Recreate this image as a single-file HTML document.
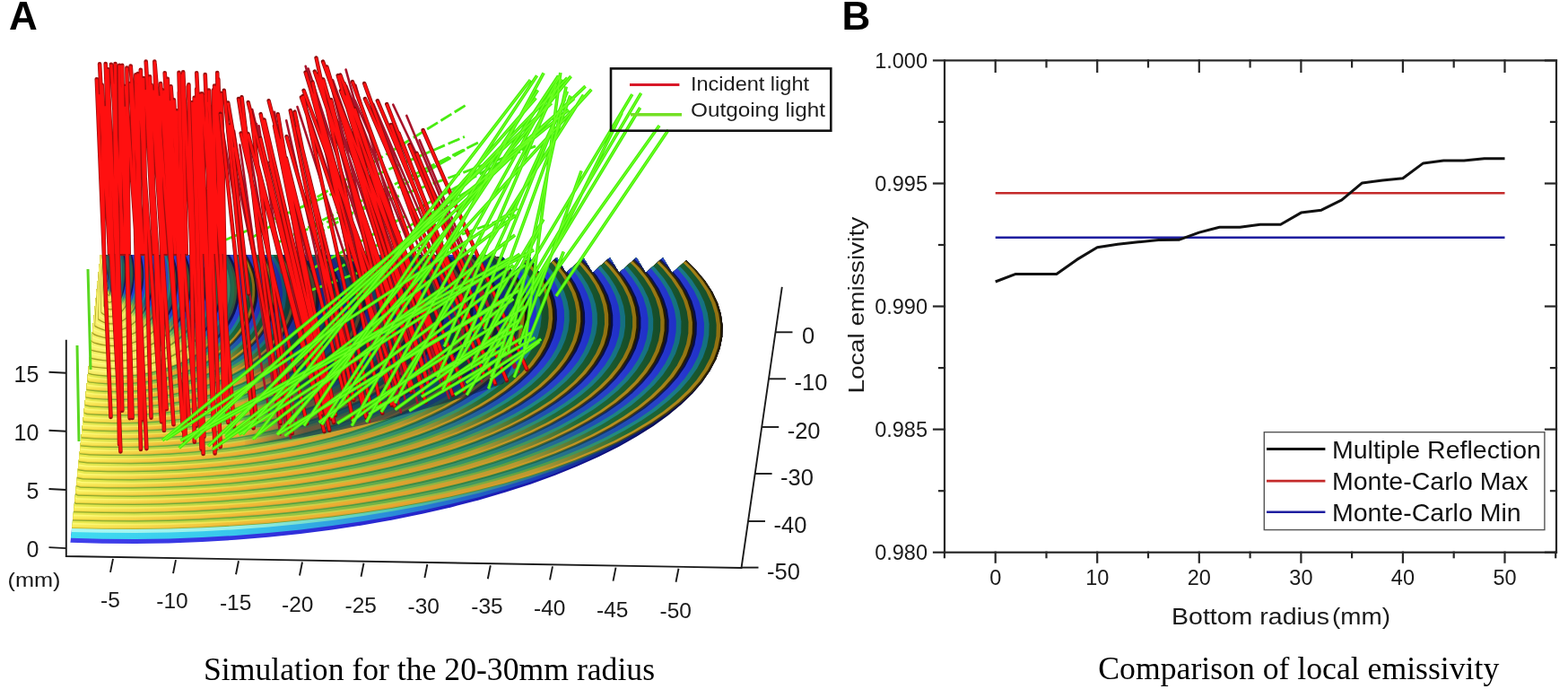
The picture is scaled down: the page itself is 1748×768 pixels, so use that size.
<!DOCTYPE html>
<html><head><meta charset="utf-8"><title>Figure</title>
<style>
html,body{margin:0;padding:0;background:#fff;}
body{width:1748px;height:768px;overflow:hidden;position:relative;}
svg{position:absolute;left:0;top:0;display:block;}
</style></head>
<body>
<svg width="1748" height="768" viewBox="0 0 1748 768">
<rect x="0" y="0" width="1748" height="768" fill="#fff"/>
<defs>
<linearGradient id="s0"><stop offset="0.0" stop-color="#86a828"/><stop offset="0.25" stop-color="#58a840"/><stop offset="0.5" stop-color="#3a9048"/><stop offset="0.72" stop-color="#1c6a50"/><stop offset="0.86" stop-color="#10306a"/><stop offset="0.95" stop-color="#0c1460"/><stop offset="1.0" stop-color="#060c48"/></linearGradient>
<linearGradient id="s1"><stop offset="0.0" stop-color="#ecea50"/><stop offset="0.25" stop-color="#b4d040"/><stop offset="0.5" stop-color="#6ab048"/><stop offset="0.72" stop-color="#2a8a70"/><stop offset="0.86" stop-color="#2050b0"/><stop offset="0.95" stop-color="#2a3cd0"/><stop offset="1.0" stop-color="#2030c8"/></linearGradient>
<linearGradient id="s2"><stop offset="0.0" stop-color="#fefa78"/><stop offset="0.25" stop-color="#f0e050"/><stop offset="0.5" stop-color="#b8c444"/><stop offset="0.72" stop-color="#5aa040"/><stop offset="0.86" stop-color="#1e8a80"/><stop offset="0.95" stop-color="#1a7a88"/><stop offset="1.0" stop-color="#147080"/></linearGradient>
<linearGradient id="s3"><stop offset="0.0" stop-color="#faee5c"/><stop offset="0.25" stop-color="#f0c038"/><stop offset="0.5" stop-color="#e8a830"/><stop offset="0.72" stop-color="#b89830"/><stop offset="0.86" stop-color="#1e6a38"/><stop offset="0.95" stop-color="#1a5c30"/><stop offset="1.0" stop-color="#164c28"/></linearGradient>
<linearGradient id="s4"><stop offset="0.0" stop-color="#f4e04a"/><stop offset="0.25" stop-color="#eab038"/><stop offset="0.5" stop-color="#e0a030"/><stop offset="0.72" stop-color="#d09a28"/><stop offset="0.86" stop-color="#b89020"/><stop offset="0.95" stop-color="#a88418"/><stop offset="1.0" stop-color="#907010"/></linearGradient>
<linearGradient id="s5"><stop offset="0.0" stop-color="#b8b430"/><stop offset="0.25" stop-color="#7aaa38"/><stop offset="0.5" stop-color="#5a9a40"/><stop offset="0.72" stop-color="#4a8a38"/><stop offset="0.86" stop-color="#4a4418"/><stop offset="0.95" stop-color="#3a3008"/><stop offset="1.0" stop-color="#201800"/></linearGradient>
<linearGradient id="i0"><stop offset="0.0" stop-color="#9a9a22"/><stop offset="0.4" stop-color="#9a9a22"/><stop offset="0.7" stop-color="#8a9a28"/><stop offset="0.8" stop-color="#2a7a50"/><stop offset="0.88" stop-color="#101a70"/><stop offset="0.95" stop-color="#0c1060"/><stop offset="1.0" stop-color="#101a50"/></linearGradient>
<linearGradient id="i1"><stop offset="0.0" stop-color="#f4ee66"/><stop offset="0.4" stop-color="#f2ea60"/><stop offset="0.7" stop-color="#e0e050"/><stop offset="0.8" stop-color="#40a060"/><stop offset="0.88" stop-color="#2040c8"/><stop offset="0.95" stop-color="#2a3cd0"/><stop offset="1.0" stop-color="#2a60a0"/></linearGradient>
<linearGradient id="i2"><stop offset="0.0" stop-color="#fefa80"/><stop offset="0.4" stop-color="#fcf678"/><stop offset="0.7" stop-color="#f0ea60"/><stop offset="0.8" stop-color="#58a850"/><stop offset="0.88" stop-color="#1a80a0"/><stop offset="0.95" stop-color="#1a7a88"/><stop offset="1.0" stop-color="#3a8a60"/></linearGradient>
<linearGradient id="i3"><stop offset="0.0" stop-color="#f8f070"/><stop offset="0.4" stop-color="#f6ec66"/><stop offset="0.7" stop-color="#e8e058"/><stop offset="0.8" stop-color="#80a840"/><stop offset="0.88" stop-color="#1a5a80"/><stop offset="0.95" stop-color="#1a5c60"/><stop offset="1.0" stop-color="#2a6a40"/></linearGradient>
<linearGradient id="i4"><stop offset="0.0" stop-color="#f4e860"/><stop offset="0.4" stop-color="#f2e45a"/><stop offset="0.7" stop-color="#e0d850"/><stop offset="0.8" stop-color="#a8a030"/><stop offset="0.88" stop-color="#304a70"/><stop offset="0.95" stop-color="#2a4a50"/><stop offset="1.0" stop-color="#3a5a30"/></linearGradient>
<linearGradient id="i5"><stop offset="0.0" stop-color="#a8a024"/><stop offset="0.4" stop-color="#a09a22"/><stop offset="0.7" stop-color="#909a28"/><stop offset="0.8" stop-color="#507a40"/><stop offset="0.88" stop-color="#101a60"/><stop offset="0.95" stop-color="#0a1050"/><stop offset="1.0" stop-color="#201c30"/></linearGradient>
<linearGradient id="w0"><stop offset="0.0" stop-color="#a8f8f4"/><stop offset="0.25" stop-color="#98f0e8"/><stop offset="0.5" stop-color="#50c8b0"/><stop offset="0.72" stop-color="#2a7090"/><stop offset="0.86" stop-color="#0c2068"/><stop offset="0.95" stop-color="#050a40"/><stop offset="1.0" stop-color="#000020"/></linearGradient>
<linearGradient id="w1"><stop offset="0.0" stop-color="#40dcf0"/><stop offset="0.25" stop-color="#38c8ec"/><stop offset="0.5" stop-color="#2a8ad8"/><stop offset="0.72" stop-color="#1c40b8"/><stop offset="0.86" stop-color="#0a1878"/><stop offset="0.95" stop-color="#040840"/><stop offset="1.0" stop-color="#000018"/></linearGradient>
<linearGradient id="w2"><stop offset="0.0" stop-color="#4040ec"/><stop offset="0.25" stop-color="#3434e0"/><stop offset="0.5" stop-color="#2828d0"/><stop offset="0.72" stop-color="#1818a8"/><stop offset="0.86" stop-color="#0a0a68"/><stop offset="0.95" stop-color="#020230"/><stop offset="1.0" stop-color="#000010"/></linearGradient>
<clipPath id="topclip"><path d="M112.0,284.0L536.0,284.0L561.3,287.0L571.7,304.0L591.0,287.0L601.3,304.0L620.7,287.0L631.0,304.0L650.3,287.0L660.6,304.0L679.9,287.0L690.2,304.0L709.5,287.0L719.8,304.0L739.0,287.0L749.3,304.0L768.6,287.0L900.0,287.0L900.0,720.0L40.0,720.0L40.0,607.0L78.0,607.0Z"/></clipPath>
</defs>
<g clip-path="url(#topclip)">
<path d="M734.0,266.0L749.9,277.4L764.0,289.0L776.0,300.9L786.1,313.0L794.1,325.2L800.0,337.6L803.8,350.1L805.6,362.7L805.3,375.2L802.8,387.9L798.3,400.6L791.6,413.2L783.0,425.9L772.3,438.4L759.6,450.8L744.9,463.0L728.3,474.9L709.9,486.6L689.7,498.0L667.7,509.0L644.1,519.6L618.9,529.8L592.2,539.5L564.0,548.6L534.5,557.2L503.8,565.2L471.9,572.5L439.0,579.2L405.1,585.2L370.4,590.5L335.0,595.0L299.0,598.8L262.4,601.8L225.5,604.0L188.4,605.4L151.0,606.0L113.7,605.8L78.2,604.8L112.0,266.0Z" fill="url(#w2)"/>
<path d="M734.0,266.0L749.9,277.4L764.0,289.0L776.0,300.9L786.1,313.0L794.1,325.2L800.0,337.6L803.8,350.1L805.6,362.7L805.3,375.2L802.8,387.8L798.3,400.5L791.6,413.0L783.0,425.5L772.3,437.9L759.6,450.1L744.9,462.1L728.3,473.8L709.9,485.3L689.7,496.4L667.7,507.1L644.1,517.5L618.9,527.4L592.2,536.8L564.0,545.6L534.5,553.9L503.8,561.6L471.9,568.7L439.0,575.2L405.1,581.0L370.4,586.0L335.0,590.4L299.0,594.0L262.4,596.9L225.5,599.0L188.4,600.4L151.0,601.0L113.7,600.8L78.8,599.8L112.0,266.0Z" fill="url(#w1)"/>
<path d="M734.0,266.0L749.9,277.4L764.0,289.0L776.0,300.9L786.1,313.0L794.1,325.2L800.0,337.6L803.8,350.1L805.6,362.7L805.3,375.2L802.8,387.8L798.3,400.3L791.6,412.7L783.0,425.0L772.3,437.2L759.6,449.1L744.9,460.9L728.3,472.3L709.9,483.4L689.7,494.2L667.7,504.5L644.1,514.5L618.9,524.0L592.2,533.0L564.0,541.5L534.5,549.4L503.8,556.7L471.9,563.5L439.0,569.6L405.1,575.1L370.4,579.9L335.0,584.0L299.0,587.4L262.4,590.2L225.5,592.2L188.4,593.4L151.0,594.0L113.7,593.8L79.5,592.9L112.0,266.0Z" fill="url(#w0)"/>
<path d="M734.0,266.0L749.9,277.4L764.0,289.0L776.0,300.9L786.1,313.0L794.1,325.2L800.0,337.6L803.8,350.1L805.6,362.7L805.3,375.2L802.8,387.7L798.3,400.2L791.6,412.6L783.0,424.8L772.3,436.8L759.6,448.6L744.9,460.2L728.3,471.4L709.9,482.3L689.7,492.9L667.7,503.1L644.1,512.8L618.9,522.0L592.2,530.8L564.0,539.1L534.5,546.8L503.8,553.9L471.9,560.5L439.0,566.4L405.1,571.7L370.4,576.4L335.0,580.3L299.0,583.7L262.4,586.3L225.5,588.2L188.4,589.5L151.0,590.0L113.7,589.8L79.9,588.9L112.0,266.0Z" fill="url(#s5)"/>
<path d="M731.7,266.0L747.6,277.3L761.6,288.9L773.6,300.8L783.6,312.9L791.6,325.1L797.5,337.5L801.3,349.9L803.1,362.4L802.8,375.0L800.3,387.5L795.8,399.9L789.2,412.2L780.6,424.4L769.9,436.4L757.3,448.2L742.7,459.7L726.2,470.9L707.8,481.8L687.7,492.4L665.8,502.5L642.3,512.2L617.1,521.4L590.5,530.2L562.5,538.4L533.1,546.1L502.5,553.2L470.7,559.8L437.9,565.7L404.2,571.0L369.6,575.6L334.3,579.6L298.4,582.9L262.0,585.5L225.2,587.5L188.2,588.7L151.0,589.2L113.8,589.1L80.0,588.2L112.0,266.0Z" fill="url(#s4)"/>
<path d="M727.6,266.0L743.5,277.3L757.4,288.8L769.3,300.6L779.3,312.7L787.2,324.8L793.1,337.2L797.0,349.6L798.7,362.0L798.4,374.5L796.0,386.9L791.5,399.3L785.0,411.6L776.4,423.7L765.9,435.7L753.3,447.4L738.8,458.9L722.4,470.1L704.2,480.9L684.2,491.4L662.4,501.5L639.1,511.2L614.1,520.4L587.6,529.1L559.8,537.3L530.6,545.0L500.2,552.1L468.6,558.6L436.0,564.5L402.5,569.8L368.1,574.4L333.1,578.3L297.4,581.6L261.2,584.3L224.7,586.2L187.9,587.4L150.9,587.9L113.9,587.8L80.1,586.9L112.0,266.0Z" fill="url(#s3)"/>
<path d="M720.1,266.0L735.8,277.2L749.6,288.7L761.4,300.4L771.3,312.3L779.2,324.4L785.0,336.6L788.8,348.9L790.6,361.3L790.3,373.6L788.0,386.0L783.6,398.3L777.2,410.5L768.7,422.5L758.3,434.4L745.9,446.0L731.6,457.4L715.4,468.5L697.4,479.3L677.6,489.7L656.2,499.7L633.1,509.3L608.4,518.4L582.3,527.1L554.8,535.3L525.9,542.9L495.9,549.9L464.7,556.4L432.5,562.2L399.4,567.5L365.4,572.0L330.7,576.0L295.5,579.3L259.7,581.9L223.6,583.8L187.3,585.0L150.7,585.5L114.2,585.3L80.4,584.5L112.0,266.0Z" fill="url(#s2)"/>
<path d="M714.9,266.0L730.5,277.1L744.2,288.5L755.9,300.2L765.7,312.0L773.6,324.0L779.4,336.2L783.2,348.4L785.0,360.7L784.7,373.0L782.4,385.3L778.1,397.6L771.7,409.7L763.4,421.7L753.0,433.5L740.7,445.0L726.6,456.4L710.5,467.4L692.7,478.1L673.1,488.5L651.8,498.5L628.9,508.0L604.5,517.1L578.6,525.7L551.3,533.8L522.7,541.4L492.9,548.4L462.0,554.8L430.0,560.7L397.2,565.9L363.5,570.4L329.2,574.4L294.2,577.6L258.7,580.2L222.9,582.1L186.8,583.3L150.6,583.8L114.4,583.7L80.6,582.8L112.0,266.0Z" fill="url(#s1)"/>
<path d="M707.4,266.0L722.8,277.0L736.4,288.3L748.0,299.9L757.7,311.6L765.5,323.6L771.3,335.6L775.1,347.8L776.9,360.0L776.6,372.2L774.4,384.4L770.1,396.5L763.9,408.5L755.6,420.4L745.4,432.1L733.3,443.6L719.3,454.9L703.5,465.8L685.9,476.5L666.6,486.8L645.6,496.7L623.0,506.1L598.8,515.2L573.2,523.7L546.3,531.8L518.0,539.3L488.6,546.2L458.1,552.6L426.5,558.4L394.0,563.6L360.8,568.1L326.8,572.0L292.3,575.2L257.3,577.8L221.9,579.7L186.2,580.9L150.4,581.4L114.6,581.3L80.8,580.4L112.0,266.0Z" fill="url(#s0)"/>
<path d="M705.1,266.0L720.5,277.0L734.0,288.3L745.6,299.8L755.3,311.5L763.0,323.4L768.8,335.5L772.6,347.6L774.4,359.7L774.2,371.9L771.9,384.1L767.7,396.2L761.4,408.2L753.2,420.0L743.1,431.7L731.0,443.2L717.1,454.4L701.4,465.4L683.8,476.0L664.6,486.2L643.6,496.1L621.1,505.6L597.1,514.6L571.6,523.1L544.7,531.1L516.6,538.6L487.3,545.6L456.8,551.9L425.4,557.7L393.1,562.9L360.0,567.4L326.1,571.3L291.7,574.5L256.8,577.1L221.6,579.0L186.0,580.2L150.4,580.7L114.7,580.5L80.9,579.7L112.0,266.0Z" fill="url(#s5)"/>
<path d="M702.8,266.0L718.1,277.0L731.6,288.2L743.1,299.7L752.8,311.4L760.6,323.3L766.3,335.3L770.1,347.4L771.9,359.5L771.7,371.7L769.4,383.8L765.2,395.9L759.0,407.8L750.9,419.7L740.8,431.3L728.8,442.8L714.9,454.0L699.2,464.9L681.7,475.5L662.5,485.7L641.7,495.5L619.3,505.0L595.3,514.0L569.9,522.5L543.2,530.5L515.2,538.0L486.0,544.9L455.6,551.2L424.3,557.0L392.1,562.2L359.1,566.7L325.4,570.6L291.1,573.8L256.4,576.3L221.2,578.2L185.9,579.4L150.3,579.9L114.8,579.8L81.0,578.9L112.0,266.0Z" fill="url(#s4)"/>
<path d="M698.8,266.0L714.0,276.9L727.4,288.1L738.9,299.6L748.5,311.2L756.2,323.0L762.0,335.0L765.7,347.0L767.5,359.1L767.3,371.2L765.1,383.3L760.9,395.3L754.8,407.2L746.7,419.0L736.7,430.6L724.8,442.0L711.0,453.2L695.4,464.0L678.1,474.6L659.0,484.8L638.3,494.6L616.1,504.0L592.3,512.9L567.1,521.4L540.5,529.4L512.7,536.8L483.6,543.7L453.5,550.1L422.4,555.8L390.4,560.9L357.6,565.4L324.2,569.3L290.1,572.5L255.6,575.0L220.7,576.9L185.5,578.1L150.2,578.6L114.9,578.5L81.1,577.6L112.0,266.0Z" fill="url(#s3)"/>
<path d="M691.3,266.0L706.3,276.8L719.6,287.9L731.0,299.3L740.5,310.8L748.2,322.6L753.9,334.4L757.6,346.3L759.4,358.3L759.2,370.4L757.1,382.3L753.0,394.3L746.9,406.1L739.0,417.8L729.1,429.3L717.3,440.6L703.8,451.7L688.4,462.5L671.3,472.9L652.5,483.0L632.1,492.8L610.1,502.1L586.6,511.0L561.7,519.4L535.5,527.3L508.0,534.7L479.3,541.6L449.6,547.8L418.9,553.5L387.3,558.6L354.9,563.1L321.9,566.9L288.2,570.1L254.1,572.7L219.6,574.5L184.9,575.7L150.1,576.2L115.2,576.1L81.4,575.2L112.0,266.0Z" fill="url(#s2)"/>
<path d="M686.1,266.0L701.0,276.8L714.2,287.8L725.5,299.1L735.0,310.6L742.6,322.2L748.2,334.0L752.0,345.9L753.8,357.8L753.6,369.8L751.5,381.7L747.5,393.5L741.5,405.3L733.6,416.9L723.8,428.4L712.2,439.6L698.8,450.6L683.5,461.4L666.6,471.8L648.0,481.8L627.7,491.5L605.9,500.8L582.7,509.6L558.0,518.0L532.0,525.9L504.8,533.2L476.4,540.1L446.9,546.3L416.4,552.0L385.1,557.0L353.0,561.5L320.2,565.3L286.9,568.5L253.1,571.0L218.9,572.9L184.5,574.0L150.0,574.6L115.4,574.4L81.6,573.6L112.0,266.0Z" fill="url(#s1)"/>
<path d="M678.6,266.0L693.3,276.7L706.4,287.6L717.6,298.8L727.0,310.2L734.5,321.8L740.1,333.5L743.9,345.2L745.7,357.1L745.5,368.9L743.5,380.7L739.5,392.5L733.6,404.2L725.9,415.7L716.2,427.1L704.8,438.2L691.5,449.2L676.5,459.8L659.8,470.1L641.4,480.1L621.4,489.7L599.9,498.9L577.0,507.7L552.6,516.0L527.0,523.8L500.1,531.1L472.0,537.9L443.0,544.1L412.9,549.7L382.0,554.8L350.3,559.2L317.9,563.0L285.0,566.1L251.6,568.6L217.9,570.5L183.9,571.6L149.8,572.2L115.6,572.0L81.8,571.2L112.0,266.0Z" fill="url(#s0)"/>
<path d="M676.2,266.0L691.0,276.7L704.0,287.6L715.2,298.7L724.5,310.1L732.0,321.6L737.6,333.3L741.4,345.0L743.2,356.8L743.0,368.6L741.0,380.4L737.1,392.2L731.2,403.8L723.5,415.3L713.9,426.7L702.5,437.8L689.3,448.7L674.3,459.3L657.7,469.6L639.4,479.6L619.5,489.2L598.1,498.4L575.2,507.1L551.0,515.4L525.4,523.2L498.6,530.5L470.7,537.2L441.7,543.4L411.8,549.0L381.0,554.1L349.4,558.5L317.2,562.2L284.4,565.4L251.2,567.9L217.6,569.7L183.7,570.9L149.7,571.4L115.7,571.3L81.9,570.4L112.0,266.0Z" fill="url(#s5)"/>
<path d="M673.9,266.0L688.6,276.6L701.6,287.5L712.7,298.6L722.1,310.0L729.5,321.5L735.2,333.1L738.9,344.8L740.7,356.6L740.6,368.4L738.5,380.2L734.6,391.9L728.8,403.5L721.1,415.0L711.6,426.3L700.2,437.4L687.1,448.2L672.2,458.8L655.6,469.1L637.4,479.1L617.6,488.6L596.3,497.8L573.5,506.5L549.3,514.8L523.9,522.6L497.2,529.8L469.4,536.6L440.5,542.7L410.7,548.3L380.0,553.3L348.6,557.7L316.5,561.5L283.8,564.7L250.7,567.1L217.2,569.0L183.5,570.2L149.7,570.7L115.8,570.5L82.0,569.7L82.1,568.2L112.0,266.0Z" fill="url(#s4)"/>
<path d="M669.9,266.0L684.5,276.6L697.4,287.4L708.5,298.5L717.8,309.8L725.2,321.2L730.8,332.8L734.5,344.5L736.3,356.2L736.2,367.9L734.2,379.6L730.3,391.3L724.6,402.9L716.9,414.3L707.5,425.6L696.2,436.6L683.2,447.4L668.4,458.0L651.9,468.2L633.9,478.1L614.2,487.7L593.0,496.8L570.4,505.5L546.5,513.7L521.2,521.5L494.7,528.7L467.1,535.4L438.4,541.6L408.8,547.1L378.4,552.1L347.1,556.5L315.3,560.3L282.8,563.4L249.9,565.9L216.7,567.7L183.2,568.9L149.6,569.4L115.9,569.2L82.4,568.4L82.3,566.9L112.0,266.0Z" fill="url(#s3)"/>
<path d="M662.4,266.0L676.9,276.5L689.6,287.2L700.6,298.2L709.8,309.4L717.1,320.8L722.7,332.2L726.4,343.8L728.2,355.4L728.1,367.1L726.2,378.7L722.4,390.3L716.7,401.7L709.2,413.1L699.9,424.3L688.8,435.2L675.9,446.0L661.4,456.4L645.1,466.6L627.3,476.4L607.9,485.9L587.0,494.9L564.7,503.5L541.1,511.7L516.2,519.4L490.0,526.6L462.8,533.2L434.5,539.3L405.3,544.9L375.2,549.8L344.4,554.2L312.9,557.9L280.9,561.0L248.5,563.5L215.6,565.3L182.6,566.5L149.4,567.0L116.2,566.8L83.1,566.0L82.5,564.6L112.0,266.0Z" fill="url(#s2)"/>
<path d="M657.2,266.0L671.6,276.4L684.2,287.1L695.1,298.0L704.2,309.2L711.6,320.4L717.1,331.8L720.7,343.4L722.6,354.9L722.5,366.5L720.6,378.0L716.9,389.5L711.3,401.0L703.8,412.2L694.6,423.3L683.6,434.3L670.9,444.9L656.5,455.3L640.4,465.4L622.8,475.2L603.6,484.6L582.9,493.6L560.8,502.2L537.4,510.3L512.7,518.0L486.8,525.1L459.8,531.7L431.8,537.8L402.8,543.3L373.0,548.3L342.5,552.6L311.3,556.3L279.6,559.4L247.4,561.8L214.9,563.6L182.2,564.8L149.3,565.3L116.4,565.2L83.5,564.4L82.7,562.9L112.0,266.0Z" fill="url(#s1)"/>
<path d="M649.7,266.0L663.9,276.3L676.4,286.9L687.2,297.8L696.2,308.8L703.5,320.0L709.0,331.3L712.6,342.7L714.4,354.2L714.4,365.6L712.6,377.1L708.9,388.5L703.4,399.8L696.1,411.0L687.0,422.0L676.2,432.9L663.7,443.4L649.5,453.8L633.6,463.8L616.2,473.5L597.3,482.8L576.9,491.8L555.1,500.3L532.0,508.3L507.6,515.9L482.1,523.0L455.5,529.6L427.8,535.6L399.3,541.1L369.9,546.0L339.8,550.3L309.0,554.0L277.7,557.0L246.0,559.5L213.9,561.2L181.6,562.4L149.1,562.9L116.6,562.8L84.2,562.0L83.0,560.5L112.0,266.0Z" fill="url(#s0)"/>
<path d="M647.4,266.0L661.5,276.3L674.0,286.9L684.8,297.7L693.8,308.7L701.0,319.8L706.5,331.1L710.1,342.5L711.9,353.9L711.9,365.4L710.1,376.8L706.4,388.2L701.0,399.5L693.7,410.6L684.7,421.6L673.9,432.4L661.4,443.0L647.3,453.3L631.5,463.3L614.2,473.0L595.4,482.3L575.1,491.2L553.4,499.7L530.4,507.7L506.1,515.3L480.7,522.4L454.1,528.9L426.6,534.9L398.2,540.4L368.9,545.3L338.9,549.6L308.3,553.2L277.1,556.3L245.5,558.7L213.6,560.5L181.4,561.7L149.1,562.2L116.7,562.0L84.4,561.2L83.0,559.8L112.0,266.0Z" fill="url(#s5)"/>
<path d="M645.1,266.0L659.2,276.3L671.6,286.8L682.3,297.6L691.3,308.6L698.5,319.7L704.0,330.9L707.6,342.3L709.4,353.7L709.4,365.1L707.6,376.5L704.0,387.9L698.6,399.1L691.3,410.3L682.4,421.2L671.6,432.0L659.2,442.5L645.1,452.8L629.5,462.8L612.2,472.4L593.4,481.7L573.2,490.6L551.6,499.1L528.7,507.1L504.5,514.7L479.2,521.7L452.8,528.3L425.4,534.3L397.1,539.7L367.9,544.6L338.1,548.8L307.6,552.5L276.5,555.6L245.0,558.0L213.2,559.8L181.2,560.9L149.0,561.4L116.8,561.3L84.7,560.5L83.1,559.1L112.0,266.0Z" fill="url(#s4)"/>
<path d="M641.1,266.0L655.1,276.2L667.4,286.7L678.1,297.4L687.0,308.4L694.2,319.4L699.6,330.6L703.2,341.9L705.1,353.3L705.1,364.7L703.3,376.0L699.7,387.3L694.3,398.5L687.2,409.6L678.3,420.5L667.6,431.2L655.3,441.7L641.4,452.0L625.8,461.9L608.7,471.5L590.0,480.7L570.0,489.6L548.6,498.0L525.8,506.0L501.8,513.6L476.7,520.6L450.5,527.1L423.3,533.1L395.2,538.5L366.2,543.3L336.6,547.6L306.3,551.3L275.5,554.3L244.2,556.7L212.7,558.5L180.9,559.6L148.9,560.1L116.9,560.0L85.0,559.2L83.2,557.8L112.0,266.0Z" fill="url(#s3)"/>
<path d="M633.6,266.0L647.4,276.1L659.6,286.5L670.2,297.2L679.0,308.0L686.1,319.0L691.5,330.1L695.1,341.3L697.0,352.5L697.0,363.8L695.3,375.1L691.7,386.3L686.5,397.4L679.4,408.4L670.7,419.2L660.2,429.9L648.1,440.3L634.3,450.4L619.0,460.3L602.1,469.8L583.8,479.0L564.0,487.7L542.9,496.1L520.4,504.0L496.8,511.5L472.0,518.5L446.2,524.9L419.3,530.9L391.6,536.3L363.1,541.1L333.8,545.3L304.0,548.9L273.6,551.9L242.8,554.3L211.6,556.1L180.2,557.2L148.7,557.7L117.2,557.6L85.7,556.8L83.5,555.4L112.0,266.0Z" fill="url(#s2)"/>
<path d="M628.4,266.0L642.1,276.1L654.2,286.4L664.7,297.0L673.5,307.7L680.6,318.6L685.9,329.7L689.5,340.8L691.3,352.0L691.4,363.2L689.7,374.4L686.2,385.6L681.0,396.6L674.1,407.5L665.4,418.3L655.1,428.9L643.1,439.2L629.4,449.3L614.3,459.1L597.6,468.6L579.4,477.7L559.8,486.5L538.9,494.8L516.7,502.7L493.3,510.1L468.8,517.0L443.2,523.5L416.6,529.4L389.2,534.7L360.9,539.5L331.9,543.7L302.4,547.3L272.3,550.3L241.7,552.7L210.9,554.5L179.8,555.6L148.6,556.1L117.4,556.0L86.2,555.2L83.7,553.8L112.0,266.0Z" fill="url(#s1)"/>
<path d="M620.9,266.0L634.5,276.0L646.5,286.2L656.8,296.7L665.5,307.4L672.5,318.2L677.8,329.1L681.4,340.2L683.2,351.3L683.3,362.4L681.7,373.5L678.3,384.5L673.1,395.5L666.3,406.3L657.8,417.0L647.6,427.5L635.8,437.8L622.4,447.8L607.5,457.5L591.0,466.9L573.1,475.9L553.8,484.6L533.2,492.9L511.3,500.7L488.3,508.0L464.1,514.9L438.9,521.3L412.7,527.2L385.6,532.5L357.7,537.2L329.2,541.4L300.0,545.0L270.4,548.0L240.3,550.3L209.8,552.1L179.2,553.2L148.4,553.7L117.6,553.6L86.9,552.8L83.9,551.4L112.0,266.0Z" fill="url(#s0)"/>
<path d="M618.6,266.0L632.1,276.0L644.1,286.2L654.4,296.6L663.0,307.2L670.0,318.0L675.3,329.0L678.9,340.0L680.7,351.0L680.8,362.1L679.2,373.2L675.8,384.2L670.7,395.1L663.9,405.9L655.5,416.6L645.3,427.1L633.6,437.3L620.2,447.3L605.4,457.0L589.0,466.4L571.2,475.4L552.0,484.0L531.5,492.3L509.7,500.1L486.7,507.4L462.6,514.3L437.5,520.6L411.4,526.5L384.5,531.8L356.8,536.5L328.3,540.7L299.3,544.3L269.8,547.2L239.8,549.6L209.5,551.3L179.0,552.5L148.4,553.0L117.7,552.8L87.1,552.1L84.0,550.7L112.0,266.0Z" fill="url(#s5)"/>
<path d="M616.3,266.0L629.8,275.9L641.7,286.1L652.0,296.5L660.6,307.1L667.6,317.9L672.8,328.8L676.4,339.8L678.2,350.8L678.3,361.9L676.7,372.9L673.4,383.9L668.3,394.8L661.5,405.6L653.1,416.2L643.0,426.6L631.3,436.8L618.1,446.8L603.3,456.5L587.0,465.8L569.2,474.8L550.1,483.5L529.7,491.7L508.0,499.5L485.2,506.8L461.2,513.6L436.2,520.0L410.2,525.8L383.4,531.1L355.8,535.8L327.5,540.0L298.6,543.5L269.2,546.5L239.3,548.9L209.2,550.6L178.8,551.7L148.3,552.2L117.8,552.1L87.3,551.3L84.1,550.0L112.0,266.0Z" fill="url(#s4)"/>
<path d="M612.3,266.0L625.7,275.9L637.5,286.0L647.7,296.4L656.3,306.9L663.2,317.6L668.5,328.5L672.0,339.4L673.8,350.4L674.0,361.4L672.4,372.4L669.1,383.3L664.1,394.2L657.4,404.9L649.0,415.5L639.0,425.9L627.4,436.1L614.3,446.0L599.6,455.6L583.4,464.9L565.9,473.9L546.9,482.5L526.6,490.6L505.1,498.4L482.4,505.7L458.7,512.5L433.9,518.8L408.1,524.6L381.5,529.9L354.1,534.6L326.0,538.7L297.3,542.3L268.1,545.2L238.5,547.6L208.6,549.3L178.5,550.4L148.2,550.9L117.9,550.8L87.7,550.1L84.2,548.7L112.0,266.0Z" fill="url(#s3)"/>
<path d="M604.8,266.0L618.0,275.8L629.7,285.8L639.8,296.1L648.3,306.6L655.2,317.2L660.4,327.9L663.9,338.8L665.7,349.6L665.9,360.6L664.3,371.4L661.1,382.3L656.2,393.1L649.6,403.7L641.4,414.2L631.6,424.5L620.2,434.6L607.2,444.4L592.8,454.0L576.9,463.2L559.6,472.1L540.9,480.6L520.9,488.7L499.7,496.4L477.4,503.6L454.0,510.4L429.5,516.7L404.2,522.4L377.9,527.7L350.9,532.3L323.3,536.4L295.0,540.0L266.2,542.9L237.1,545.2L207.6,546.9L177.9,548.1L148.0,548.6L118.2,548.4L88.4,547.7L84.5,546.3L112.0,266.0Z" fill="url(#s2)"/>
<path d="M599.6,266.0L612.7,275.7L624.3,285.7L634.3,295.9L642.8,306.3L649.6,316.9L654.7,327.5L658.3,338.3L660.1,349.1L660.3,360.0L658.8,370.8L655.6,381.6L650.7,392.3L644.3,402.9L636.1,413.3L626.4,423.5L615.2,433.6L602.4,443.3L588.1,452.8L572.3,462.0L555.2,470.8L536.7,479.3L517.0,487.4L496.0,495.0L473.9,502.2L450.7,509.0L426.5,515.2L401.4,520.9L375.5,526.1L348.7,530.8L321.4,534.8L293.4,538.3L264.9,541.3L236.0,543.6L206.8,545.3L177.4,546.4L147.9,546.9L118.3,546.8L88.8,546.0L84.6,544.7L112.0,266.0Z" fill="url(#s1)"/>
<path d="M592.2,266.0L605.1,275.6L616.5,285.5L626.4,295.6L634.8,305.9L641.5,316.4L646.6,327.0L650.1,337.6L652.0,348.4L652.2,359.1L650.7,369.9L647.6,380.5L642.9,391.2L636.5,401.6L628.5,412.0L619.0,422.1L607.9,432.1L595.3,441.8L581.2,451.2L565.8,460.3L548.9,469.1L530.7,477.5L511.3,485.5L490.6,493.1L468.9,500.2L446.0,506.9L422.2,513.1L397.5,518.7L371.9,523.9L345.6,528.5L318.6,532.5L291.0,536.0L263.0,538.9L234.5,541.2L205.8,542.9L176.8,544.0L147.7,544.5L118.6,544.4L89.5,543.7L84.9,542.3L112.0,266.0Z" fill="url(#s0)"/>
<path d="M589.9,266.0L602.8,275.6L614.2,285.5L624.0,295.5L632.3,305.8L639.0,316.2L644.2,326.8L647.6,337.4L649.5,348.1L649.7,358.9L648.2,369.6L645.2,380.2L640.4,390.8L634.1,401.3L626.2,411.6L616.7,421.7L605.7,431.6L593.1,441.3L579.1,450.7L563.7,459.8L547.0,468.5L528.9,476.9L509.5,484.9L489.0,492.4L467.3,499.6L444.6,506.2L420.9,512.4L396.2,518.1L370.8,523.2L344.6,527.8L317.7,531.8L290.3,535.3L262.4,538.2L234.1,540.5L205.4,542.2L176.6,543.3L147.6,543.8L118.6,543.7L89.7,542.9L85.0,541.6L112.0,266.0Z" fill="url(#s5)"/>
<path d="M587.6,266.0L600.4,275.6L611.8,285.4L621.6,295.5L629.9,305.7L636.6,316.1L641.7,326.6L645.1,337.2L647.0,347.9L647.2,358.6L645.8,369.3L642.7,379.9L638.0,390.5L631.7,400.9L623.8,411.2L614.4,421.3L603.4,431.2L591.0,440.8L577.0,450.2L561.7,459.2L545.0,468.0L527.0,476.3L507.8,484.3L487.3,491.8L465.7,498.9L443.1,505.6L419.5,511.7L395.0,517.4L369.7,522.5L343.6,527.1L316.9,531.1L289.6,534.6L261.8,537.5L233.6,539.8L205.1,541.5L176.4,542.6L147.6,543.1L118.7,542.9L89.9,542.2L85.0,540.9L112.0,266.0Z" fill="url(#s4)"/>
<path d="M583.5,266.0L596.3,275.5L607.6,285.3L617.3,295.3L625.6,305.5L632.2,315.9L637.3,326.3L640.8,336.9L642.6,347.5L642.8,358.1L641.4,368.8L638.4,379.4L633.8,389.9L627.6,400.2L619.7,410.5L610.4,420.5L599.5,430.4L587.2,440.0L573.4,449.3L558.2,458.3L541.6,467.0L523.8,475.3L504.7,483.3L484.4,490.8L463.0,497.8L440.6,504.5L417.2,510.6L392.9,516.2L367.8,521.3L341.9,525.9L315.4,529.9L288.3,533.3L260.8,536.2L232.8,538.5L204.5,540.2L176.1,541.3L147.5,541.8L118.9,541.7L90.3,540.9L85.2,539.6L112.0,266.0Z" fill="url(#s3)"/>
<path d="M576.1,266.0L588.7,275.4L599.8,285.1L609.5,295.0L617.6,305.1L624.2,315.4L629.2,325.8L632.6,336.2L634.5,346.8L634.7,357.3L633.4,367.8L630.4,378.3L625.9,388.7L619.8,399.0L612.1,409.2L602.9,419.2L592.3,428.9L580.1,438.4L566.5,447.7L551.6,456.6L535.3,465.2L517.7,473.5L499.0,481.3L479.0,488.8L458.0,495.8L435.9,502.4L412.9,508.4L388.9,514.0L364.2,519.1L338.7,523.6L312.6,527.6L286.0,531.0L258.8,533.9L231.3,536.1L203.5,537.8L175.4,538.9L147.3,539.4L119.1,539.3L91.0,538.6L85.4,537.3L112.0,266.0Z" fill="url(#s2)"/>
<path d="M570.9,266.0L583.4,275.4L594.4,285.0L604.0,294.8L612.1,304.9L618.6,315.1L623.6,325.4L627.0,335.8L628.9,346.2L629.1,356.7L627.8,367.2L624.9,377.6L620.4,388.0L614.4,398.2L606.9,408.3L597.8,418.2L587.2,427.9L575.2,437.4L561.8,446.6L547.0,455.4L530.9,464.0L513.6,472.2L495.0,480.0L475.3,487.4L454.5,494.4L432.6,500.9L409.8,507.0L386.2,512.5L361.7,517.5L336.6,522.1L310.7,526.0L284.4,529.4L257.5,532.2L230.3,534.5L202.7,536.2L175.0,537.3L147.2,537.7L119.3,537.6L91.4,536.9L85.6,535.6L112.0,266.0Z" fill="url(#s1)"/>
<path d="M563.4,266.0L575.8,275.3L586.7,284.8L596.1,294.6L604.1,304.5L610.6,314.6L615.5,324.8L618.9,335.1L620.7,345.5L621.0,355.9L619.8,366.3L616.9,376.6L612.6,386.8L606.7,397.0L599.2,407.0L590.3,416.8L580.0,426.4L568.2,435.8L555.0,444.9L540.5,453.7L524.6,462.2L507.6,470.4L489.3,478.1L469.9,485.5L449.4,492.4L427.9,498.8L405.5,504.8L382.2,510.3L358.2,515.3L333.4,519.8L308.0,523.7L282.0,527.1L255.6,529.9L228.8,532.1L201.7,533.8L174.4,534.9L147.0,535.4L119.5,535.3L92.1,534.6L85.9,533.3L112.0,266.0Z" fill="url(#s0)"/>
<path d="M561.2,266.0L573.4,275.3L584.3,284.8L593.7,294.5L601.6,304.4L608.1,314.5L613.0,324.6L616.4,334.9L618.2,345.3L618.5,355.6L617.3,366.0L614.5,376.3L610.1,386.5L604.3,396.6L596.9,406.6L588.0,416.4L577.7,426.0L566.0,435.3L552.9,444.4L538.4,453.2L522.7,461.7L505.7,469.8L487.5,477.5L468.2,484.8L447.8,491.7L426.5,498.2L404.2,504.2L381.0,509.7L357.1,514.6L332.4,519.1L307.1,523.0L281.3,526.4L255.0,529.2L228.3,531.4L201.3,533.1L174.2,534.2L146.9,534.6L119.6,534.5L92.3,533.8L85.9,532.6L112.0,266.0Z" fill="url(#s5)"/>
<path d="M558.9,266.0L571.1,275.2L581.9,284.7L591.3,294.4L599.2,304.3L605.6,314.3L610.5,324.5L613.9,334.7L615.7,345.0L616.1,355.4L614.8,365.7L612.0,376.0L607.7,386.2L601.9,396.2L594.6,406.2L585.7,416.0L575.5,425.5L563.8,434.9L550.8,443.9L536.4,452.7L520.7,461.1L503.8,469.2L485.8,476.9L466.6,484.2L446.3,491.1L425.0,497.6L402.8,503.5L379.8,509.0L355.9,514.0L331.4,518.4L306.3,522.3L280.6,525.7L254.4,528.5L227.9,530.7L201.0,532.4L174.0,533.4L146.8,533.9L119.7,533.8L92.5,533.1L86.0,531.8L112.0,266.0Z" fill="url(#s4)"/>
<path d="M554.8,266.0L567.0,275.2L577.7,284.6L587.0,294.3L594.9,304.1L601.3,314.1L606.2,324.2L609.5,334.4L611.4,344.6L611.7,354.9L610.5,365.2L607.7,375.4L603.5,385.6L597.7,395.6L590.4,405.5L581.7,415.2L571.6,424.7L560.0,434.0L547.1,443.0L532.9,451.8L517.3,460.2L500.6,468.2L482.7,475.9L463.6,483.2L443.6,490.0L422.5,496.4L400.5,502.4L377.6,507.8L354.0,512.8L329.7,517.2L304.8,521.1L279.3,524.4L253.3,527.2L227.0,529.4L200.4,531.1L173.6,532.1L146.7,532.6L119.8,532.5L92.9,531.8L86.1,530.6L112.0,266.0Z" fill="url(#s3)"/>
<path d="M547.4,266.0L559.3,275.1L569.9,284.4L579.1,294.0L586.9,303.7L593.2,313.6L598.1,323.6L601.4,333.7L603.3,343.9L603.6,354.1L602.4,364.2L599.8,374.4L595.6,384.4L589.9,394.4L582.8,404.2L574.3,413.8L564.3,423.3L553.0,432.5L540.3,441.4L526.3,450.1L511.0,458.4L494.6,466.4L476.9,474.0L458.2,481.2L438.5,488.0L417.8,494.4L396.1,500.2L373.7,505.6L350.4,510.5L326.5,514.9L302.0,518.8L276.9,522.1L251.4,524.9L225.5,527.1L199.4,528.7L173.0,529.8L146.5,530.3L120.0,530.2L93.6,529.5L86.4,528.2L112.0,266.0Z" fill="url(#s2)"/>
<path d="M542.2,266.0L554.1,275.0L564.6,284.3L573.7,293.8L581.4,303.5L587.6,313.3L592.4,323.2L595.8,333.3L597.6,343.4L598.0,353.5L596.9,363.6L594.2,373.7L590.1,383.7L584.6,393.5L577.5,403.3L569.1,412.9L559.3,422.3L548.1,431.4L535.5,440.3L521.7,448.9L506.6,457.2L490.4,465.1L473.0,472.7L454.5,479.8L435.0,486.6L414.5,492.9L393.1,498.8L370.9,504.1L348.0,509.0L324.3,513.4L300.1,517.2L275.3,520.5L250.1,523.3L224.5,525.5L198.6,527.1L172.6,528.1L146.4,528.6L120.2,528.5L94.0,527.9L86.6,526.6L112.0,266.0Z" fill="url(#s1)"/>
<path d="M534.8,266.0L546.5,274.9L556.8,284.1L565.8,293.5L573.4,303.1L579.6,312.8L584.4,322.7L587.7,332.6L589.5,342.6L589.9,352.6L588.8,362.7L586.2,372.6L582.2,382.5L576.8,392.3L569.9,402.0L561.6,411.5L552.0,420.8L541.0,429.9L528.7,438.7L515.1,447.2L500.3,455.4L484.3,463.3L467.2,470.8L449.1,477.9L429.9,484.6L409.8,490.8L388.8,496.6L366.9,502.0L344.4,506.8L321.1,511.1L297.3,514.9L272.9,518.2L248.1,520.9L223.0,523.1L197.6,524.7L171.9,525.8L146.2,526.3L120.4,526.2L94.7,525.5L86.8,524.3L112.0,266.0Z" fill="url(#s0)"/>
<path d="M532.5,266.0L544.1,274.9L554.4,284.1L563.4,293.4L571.0,303.0L577.1,312.7L581.9,322.5L585.2,332.4L587.0,342.4L587.4,352.4L586.3,362.4L583.8,372.3L579.8,382.2L574.4,392.0L567.6,401.6L559.3,411.1L549.8,420.3L538.8,429.4L526.6,438.2L513.1,446.7L498.4,454.9L482.5,462.7L465.5,470.2L447.4,477.3L428.3,484.0L408.3,490.2L387.4,496.0L365.7,501.3L343.3,506.1L320.1,510.4L296.4,514.2L272.2,517.5L247.5,520.2L222.5,522.4L197.2,524.0L171.7,525.0L146.1,525.5L120.5,525.4L94.9,524.8L86.9,523.5L112.0,266.0Z" fill="url(#s5)"/>
<path d="M530.2,266.0L541.8,274.9L552.0,284.0L561.0,293.3L568.5,302.9L574.6,312.5L579.4,322.3L582.7,332.2L584.5,342.2L584.9,352.1L583.8,362.1L581.3,372.0L577.4,381.9L572.0,391.6L565.2,401.2L557.1,410.7L547.5,419.9L536.6,428.9L524.5,437.7L511.1,446.1L496.4,454.3L480.6,462.1L463.7,469.6L445.7,476.7L426.8,483.3L406.9,489.6L386.1,495.3L364.5,500.6L342.2,505.4L319.2,509.7L295.6,513.5L271.5,516.8L246.9,519.5L222.1,521.7L196.9,523.3L171.5,524.3L146.1,524.8L120.6,524.7L95.1,524.1L87.0,522.8L112.0,266.0Z" fill="url(#s4)"/>
<path d="M526.2,266.0L537.7,274.8L547.9,283.9L556.7,293.2L564.2,302.7L570.3,312.3L575.0,322.0L578.3,331.9L580.1,341.8L580.5,351.7L579.5,361.6L577.0,371.5L573.1,381.3L567.8,391.0L561.1,400.5L553.0,409.9L543.6,419.1L532.8,428.1L520.8,436.8L507.5,445.2L493.0,453.4L477.4,461.1L460.6,468.6L442.8,475.6L424.0,482.2L404.3,488.4L383.7,494.2L362.3,499.5L340.2,504.2L317.4,508.5L294.1,512.3L270.2,515.6L245.9,518.3L221.2,520.4L196.3,522.0L171.2,523.0L146.0,523.5L120.7,523.4L95.5,522.8L87.1,521.6L112.0,266.0Z" fill="url(#s3)"/>
<path d="M518.8,266.0L530.1,274.7L540.1,283.7L548.8,292.9L556.2,302.3L562.3,311.8L566.9,321.5L570.2,331.2L572.0,341.0L572.4,350.8L571.5,360.7L569.1,370.4L565.2,380.1L560.1,389.7L553.5,399.2L545.6,408.5L536.3,417.6L525.8,426.5L513.9,435.2L500.9,443.5L486.7,451.6L471.3,459.3L454.9,466.7L437.4,473.6L419.0,480.2L399.6,486.4L379.4,492.1L358.4,497.3L336.6,502.0L314.2,506.3L291.3,510.0L267.8,513.2L243.9,515.9L219.7,518.1L195.2,519.7L170.5,520.7L145.7,521.2L120.9,521.1L96.2,520.4L87.4,519.2L112.0,266.0Z" fill="url(#s2)"/>
<path d="M513.6,266.0L524.8,274.7L534.8,283.6L543.4,292.7L550.7,302.0L556.7,311.5L561.3,321.1L564.5,330.8L566.4,340.5L566.8,350.3L565.9,360.0L563.5,369.7L559.8,379.4L554.7,388.9L548.2,398.3L540.4,407.6L531.3,416.6L520.9,425.5L509.2,434.1L496.3,442.4L482.3,450.4L467.1,458.0L450.9,465.4L433.7,472.3L415.4,478.8L396.3,484.9L376.3,490.6L355.6,495.8L334.1,500.5L312.0,504.7L289.4,508.5L266.2,511.7L242.6,514.3L218.7,516.4L194.5,518.0L170.1,519.1L145.6,519.5L121.1,519.4L96.6,518.8L87.5,517.6L112.0,266.0Z" fill="url(#s1)"/>
<path d="M506.2,266.0L517.2,274.6L527.0,283.4L535.5,292.5L542.8,301.7L548.7,311.1L553.2,320.5L556.4,330.1L558.3,339.8L558.7,349.4L557.8,359.1L555.5,368.7L551.9,378.3L546.9,387.7L540.6,397.0L532.9,406.2L524.0,415.2L513.8,423.9L502.3,432.4L489.7,440.7L476.0,448.6L461.1,456.2L445.2,463.5L428.2,470.3L410.3,476.8L391.6,482.9L372.0,488.5L351.6,493.6L330.5,498.3L308.8,502.5L286.6,506.2L263.8,509.4L240.7,512.0L217.2,514.1L193.4,515.7L169.4,516.7L145.4,517.2L121.3,517.1L97.3,516.5L87.8,515.3L112.0,266.0Z" fill="url(#s0)"/>
<path d="M503.9,266.0L514.9,274.6L524.6,283.4L533.1,292.4L540.3,301.6L546.2,310.9L550.7,320.4L553.9,329.9L555.8,339.5L556.2,349.2L555.3,358.8L553.1,368.4L549.5,377.9L544.5,387.3L538.2,396.6L530.6,405.8L521.7,414.7L511.6,423.5L500.2,431.9L487.7,440.2L474.0,448.1L459.2,455.6L443.4,462.9L426.6,469.7L408.8,476.2L390.1,482.2L370.6,487.8L350.4,493.0L329.4,497.6L307.8,501.8L285.7,505.5L263.1,508.6L240.1,511.3L216.7,513.4L193.1,515.0L169.2,516.0L145.3,516.4L121.4,516.4L97.5,515.7L87.9,514.6L112.0,266.0Z" fill="url(#s5)"/>
<path d="M501.6,266.0L512.5,274.5L522.2,283.3L530.7,292.3L537.9,301.5L543.7,310.8L548.2,320.2L551.4,329.7L553.3,339.3L553.7,348.9L552.9,358.5L550.6,368.1L547.0,377.6L542.1,387.0L535.9,396.2L528.3,405.4L519.5,414.3L509.4,423.0L498.1,431.4L485.7,439.6L472.1,447.5L457.4,455.1L441.6,462.3L424.9,469.1L407.2,475.6L388.7,481.6L369.3,487.2L349.1,492.3L328.3,497.0L306.9,501.1L284.8,504.8L262.4,507.9L239.4,510.6L216.2,512.7L192.7,514.2L169.0,515.3L145.3,515.7L121.4,515.6L97.7,515.0L87.9,513.8L112.0,266.0Z" fill="url(#s4)"/>
<path d="M497.6,266.0L508.4,274.5L518.1,283.2L526.5,292.1L533.6,301.3L539.4,310.5L543.9,319.9L547.1,329.4L548.9,338.9L549.4,348.5L548.5,358.0L546.3,367.5L542.8,377.0L537.9,386.3L531.7,395.6L524.3,404.6L515.6,413.5L505.6,422.2L494.4,430.6L482.1,438.7L468.6,446.6L454.1,454.1L438.5,461.3L422.0,468.1L404.5,474.5L386.1,480.5L366.9,486.0L347.0,491.1L326.4,495.8L305.1,499.9L283.3,503.6L261.1,506.7L238.4,509.3L215.4,511.4L192.1,513.0L168.7,514.0L145.1,514.5L121.6,514.4L98.0,513.8L88.1,512.6L112.0,266.0Z" fill="url(#s3)"/>
<path d="M490.2,266.0L500.9,274.4L510.3,283.0L518.6,291.9L525.6,300.9L531.3,310.1L535.8,319.3L538.9,328.7L540.8,338.2L541.3,347.6L540.5,357.1L538.3,366.5L534.9,375.9L530.1,385.1L524.1,394.3L516.8,403.2L508.3,412.0L498.5,420.6L487.6,429.0L475.5,437.0L462.3,444.8L448.0,452.3L432.8,459.4L416.5,466.1L399.4,472.5L381.3,478.4L362.5,483.9L343.0,489.0L322.8,493.6L301.9,497.7L280.5,501.3L258.7,504.4L236.4,507.0L213.9,509.1L191.0,510.6L168.0,511.6L144.9,512.1L121.8,512.0L98.7,511.4L88.3,510.3L112.0,266.0Z" fill="url(#s2)"/>
<path d="M485.0,266.0L495.6,274.3L505.0,282.9L513.1,291.7L520.1,300.6L525.8,309.7L530.2,319.0L533.3,328.3L535.1,337.6L535.7,347.0L534.9,356.4L532.8,365.8L529.4,375.1L524.7,384.3L518.8,393.4L511.6,402.3L503.2,411.0L493.6,419.6L482.8,427.8L470.9,435.9L457.9,443.6L443.8,451.0L428.8,458.1L412.8,464.8L395.8,471.1L378.1,477.0L359.5,482.4L340.2,487.5L320.2,492.0L299.7,496.1L278.6,499.7L257.0,502.8L235.1,505.4L212.8,507.5L190.3,509.0L167.6,510.0L144.8,510.5L121.9,510.4L99.2,509.8L88.5,508.7L112.0,266.0Z" fill="url(#s1)"/>
<path d="M477.6,266.0L488.0,274.2L497.2,282.7L505.3,291.4L512.1,300.3L517.7,309.3L522.1,318.4L525.2,327.6L527.0,336.9L527.6,346.2L526.8,355.5L524.8,364.8L521.5,374.0L517.0,383.1L511.2,392.1L504.1,400.9L495.9,409.6L486.5,418.0L475.9,426.2L464.3,434.2L451.5,441.8L437.8,449.2L423.0,456.2L407.3,462.8L390.7,469.1L373.3,474.9L355.1,480.3L336.2,485.3L316.6,489.8L296.5,493.9L275.8,497.5L254.6,500.5L233.1,503.1L211.3,505.1L189.2,506.7L166.9,507.7L144.6,508.1L122.2,508.1L99.8,507.5L88.7,506.3L112.0,266.0Z" fill="url(#s0)"/>
<path d="M475.4,266.0L485.7,274.2L494.9,282.7L502.9,291.3L509.7,300.2L515.3,309.1L519.6,318.2L522.7,327.4L524.5,336.7L525.1,346.0L524.3,355.2L522.3,364.5L519.1,373.6L514.6,382.7L508.8,391.7L501.8,400.5L493.7,409.1L484.3,417.6L473.8,425.7L462.2,433.7L449.6,441.3L435.9,448.6L421.2,455.6L405.6,462.2L389.2,468.4L371.8,474.3L353.8,479.7L335.0,484.7L315.5,489.2L295.5,493.2L274.9,496.8L253.9,499.8L232.5,502.4L210.8,504.4L188.8,505.9L166.7,506.9L144.5,507.4L122.2,507.3L100.0,506.7L88.8,505.6L112.0,266.0Z" fill="url(#s5)"/>
<path d="M473.1,266.0L483.4,274.2L492.5,282.6L500.5,291.2L507.2,300.0L512.8,309.0L517.1,318.1L520.2,327.2L522.0,336.5L522.6,345.7L521.9,354.9L519.9,364.2L516.6,373.3L512.2,382.4L506.5,391.3L499.5,400.1L491.4,408.7L482.1,417.1L471.7,425.2L460.2,433.1L447.6,440.8L434.0,448.0L419.5,455.0L404.0,461.6L387.6,467.8L370.4,473.6L352.4,479.0L333.7,484.0L314.4,488.5L294.5,492.5L274.1,496.1L253.2,499.1L231.9,501.7L210.3,503.7L188.5,505.2L166.5,506.2L144.4,506.7L122.3,506.6L100.2,506.0L88.9,504.9L112.0,266.0Z" fill="url(#s4)"/>
<path d="M469.1,266.0L479.3,274.1L488.3,282.5L496.2,291.1L503.0,299.9L508.5,308.8L512.8,317.8L515.8,326.9L517.6,336.1L518.2,345.2L517.5,354.4L515.6,363.6L512.4,372.7L508.0,381.7L502.3,390.6L495.5,399.3L487.5,407.9L478.3,416.3L468.0,424.4L456.6,432.2L444.2,439.8L430.8,447.1L416.4,454.0L401.0,460.6L384.8,466.7L367.8,472.5L350.0,477.9L331.6,482.8L312.4,487.3L292.8,491.3L272.5,494.9L251.9,497.9L230.9,500.4L209.5,502.5L187.9,504.0L166.2,505.0L144.3,505.4L122.4,505.4L100.6,504.8L89.0,503.7L112.0,266.0Z" fill="url(#s3)"/>
<path d="M461.7,266.0L471.7,274.1L480.6,282.3L488.4,290.8L495.0,299.5L500.4,308.3L504.7,317.2L507.7,326.2L509.5,335.3L510.1,344.4L509.5,353.5L507.6,362.6L504.5,371.6L500.2,380.5L494.7,389.3L488.0,398.0L480.2,406.5L471.2,414.7L461.1,422.8L450.0,430.6L437.8,438.1L424.7,445.2L410.6,452.1L395.6,458.6L379.7,464.7L363.1,470.5L345.6,475.8L327.5,480.7L308.8,485.1L289.5,489.1L269.7,492.6L249.5,495.6L228.9,498.1L208.0,500.1L186.8,501.6L165.5,502.6L144.1,503.1L122.6,503.0L101.2,502.4L89.3,501.3L112.0,266.0Z" fill="url(#s2)"/>
<path d="M456.6,266.0L466.5,274.0L475.3,282.2L482.9,290.6L489.5,299.2L494.9,308.0L499.1,316.8L502.1,325.8L503.9,334.8L504.5,343.8L503.9,352.9L502.0,361.9L499.0,370.8L494.8,379.7L489.4,388.4L482.8,397.0L475.1,405.5L466.3,413.7L456.4,421.7L445.4,429.4L433.4,436.8L420.5,444.0L406.6,450.8L391.8,457.3L376.2,463.4L359.7,469.0L342.6,474.3L324.8,479.2L306.3,483.6L287.3,487.6L267.8,491.0L247.8,494.0L227.5,496.5L206.9,498.5L186.0,500.0L165.0,501.0L143.9,501.5L122.8,501.4L101.7,500.8L89.4,499.7L112.0,266.0Z" fill="url(#s1)"/>
<path d="M449.2,266.0L458.9,273.9L467.5,282.0L475.1,290.4L481.5,298.9L486.8,307.5L491.0,316.3L494.0,325.1L495.8,334.1L496.4,343.0L495.8,352.0L494.0,360.9L491.1,369.7L487.0,378.5L481.7,387.2L475.3,395.7L467.8,404.0L459.2,412.1L449.5,420.1L438.8,427.7L427.1,435.1L414.4,442.2L400.8,448.9L386.3,455.3L371.0,461.3L355.0,467.0L338.2,472.2L320.7,477.0L302.7,481.4L284.1,485.3L265.0,488.8L245.4,491.7L225.5,494.2L205.4,496.2L184.9,497.7L164.4,498.7L143.7,499.1L123.0,499.1L102.3,498.5L89.7,497.4L112.0,266.0Z" fill="url(#s0)"/>
<path d="M446.9,266.0L456.6,273.9L465.2,282.0L472.7,290.3L479.1,298.8L484.4,307.4L488.5,316.1L491.5,324.9L493.3,333.8L493.9,342.8L493.3,351.7L491.6,360.6L488.7,369.4L484.6,378.1L479.4,386.8L473.0,395.2L465.5,403.6L457.0,411.7L447.4,419.6L436.7,427.2L425.1,434.5L412.5,441.6L399.0,448.3L384.6,454.7L369.5,460.7L353.5,466.4L336.8,471.6L319.5,476.4L301.6,480.7L283.1,484.6L264.1,488.1L244.7,491.0L224.9,493.5L204.9,495.5L184.6,497.0L164.1,497.9L143.6,498.4L123.0,498.3L102.5,497.8L89.8,496.7L112.0,266.0Z" fill="url(#s5)"/>
<path d="M444.6,266.0L454.2,273.8L462.8,281.9L470.3,290.2L476.7,298.6L481.9,307.2L486.0,315.9L489.0,324.7L490.8,333.6L491.4,342.5L490.8,351.4L489.1,360.2L486.2,369.0L482.2,377.8L477.0,386.4L470.7,394.8L463.3,403.1L454.8,411.2L445.3,419.1L434.7,426.7L423.1,434.0L410.6,441.0L397.2,447.8L383.0,454.1L367.9,460.1L352.0,465.7L335.5,470.9L318.3,475.7L300.4,480.1L282.1,484.0L263.2,487.4L243.9,490.3L224.3,492.8L204.4,494.8L184.3,496.3L163.9,497.2L143.5,497.7L123.1,497.6L102.7,497.1L89.8,496.0L112.0,266.0Z" fill="url(#s4)"/>
<path d="M440.7,266.0L450.2,273.8L458.7,281.8L466.1,290.1L472.4,298.4L477.6,307.0L481.7,315.7L484.6,324.4L486.4,333.2L487.0,342.0L486.5,350.9L484.8,359.7L482.0,368.5L478.0,377.1L472.9,385.7L466.7,394.1L459.4,402.3L451.0,410.4L441.6,418.2L431.1,425.8L419.7,433.1L407.4,440.1L394.1,446.7L380.0,453.1L365.1,459.0L349.5,464.6L333.1,469.8L316.1,474.6L298.5,478.9L280.3,482.8L261.7,486.2L242.7,489.1L223.3,491.6L203.6,493.5L183.7,495.0L163.6,496.0L143.4,496.4L123.2,496.4L103.1,495.8L90.0,494.8L112.0,266.0Z" fill="url(#s3)"/>
<path d="M433.4,266.0L442.7,273.7L451.1,281.6L458.3,289.8L464.6,298.1L469.7,306.5L473.7,315.1L476.6,323.8L478.4,332.5L479.0,341.2L478.6,350.0L476.9,358.7L474.2,367.4L470.3,375.9L465.3,384.4L459.3,392.7L452.1,400.9L444.0,408.9L434.8,416.6L424.6,424.1L413.4,431.3L401.4,438.2L388.4,444.9L374.6,451.1L360.1,457.0L344.8,462.6L328.8,467.7L312.1,472.4L294.9,476.7L277.1,480.5L258.9,483.9L240.3,486.8L221.3,489.3L202.0,491.2L182.6,492.7L162.9,493.6L143.2,494.1L123.4,494.0L103.7,493.5L90.2,492.4L112.0,266.0Z" fill="url(#s2)"/>
<path d="M428.4,266.0L437.6,273.6L445.8,281.5L453.0,289.6L459.2,297.8L464.3,306.2L468.2,314.7L471.1,323.3L472.9,332.0L473.6,340.6L473.1,349.3L471.5,358.0L468.8,366.6L465.0,375.1L460.2,383.5L454.2,391.8L447.2,399.9L439.1,407.8L430.1,415.5L420.1,422.9L409.1,430.1L397.2,437.0L384.5,443.6L370.9,449.8L356.6,455.7L341.5,461.2L325.8,466.3L309.4,470.9L292.4,475.2L274.9,479.0L257.0,482.4L238.6,485.3L220.0,487.7L201.0,489.6L181.8,491.1L162.5,492.0L143.0,492.5L123.6,492.4L104.1,491.9L90.4,490.8L112.0,266.0Z" fill="url(#s1)"/>
<path d="M421.2,266.0L430.3,273.6L438.4,281.3L445.4,289.3L451.5,297.5L456.5,305.8L460.4,314.2L463.3,322.7L465.0,331.2L465.7,339.8L465.3,348.4L463.8,357.0L461.2,365.5L457.5,373.9L452.7,382.2L446.9,390.4L440.1,398.4L432.2,406.3L423.4,413.9L413.6,421.3L402.9,428.4L391.3,435.2L378.9,441.7L365.6,447.9L351.6,453.7L336.9,459.1L321.5,464.2L305.5,468.8L288.9,473.0L271.8,476.8L254.2,480.1L236.3,483.0L218.0,485.4L199.5,487.3L180.7,488.8L161.8,489.7L142.8,490.1L123.7,490.1L104.8,489.6L90.6,488.5L112.0,266.0Z" fill="url(#s0)"/>
<path d="M419.1,266.0L428.1,273.5L436.1,281.3L443.1,289.2L449.1,297.4L454.1,305.6L458.0,314.0L460.9,322.5L462.6,331.0L463.3,339.6L462.9,348.1L461.4,356.7L458.8,365.1L455.2,373.6L450.5,381.8L444.7,390.0L437.9,398.0L430.1,405.8L421.4,413.4L411.7,420.7L401.0,427.8L389.5,434.6L377.2,441.1L364.0,447.3L350.1,453.1L335.5,458.5L320.2,463.5L304.3,468.1L287.8,472.3L270.8,476.1L253.4,479.4L235.6,482.3L217.4,484.7L199.0,486.6L180.4,488.0L161.6,489.0L142.7,489.4L123.8,489.4L104.9,488.9L90.7,487.8L112.0,266.0Z" fill="url(#s5)"/>
<path d="M416.9,266.0L425.8,273.5L433.8,281.2L440.8,289.2L446.8,297.2L451.7,305.5L455.6,313.8L458.5,322.3L460.2,330.8L460.9,339.3L460.5,347.8L459.0,356.4L456.5,364.8L452.9,373.2L448.2,381.5L442.5,389.6L435.8,397.6L428.0,405.3L419.3,412.9L409.7,420.2L399.2,427.3L387.7,434.1L375.5,440.5L362.4,446.7L348.6,452.4L334.1,457.8L318.9,462.9L303.1,467.5L286.7,471.7L269.9,475.4L252.6,478.7L234.9,481.6L216.8,484.0L198.6,485.9L180.0,487.3L161.4,488.3L142.6,488.7L123.9,488.7L105.1,488.1L90.8,487.1L112.0,266.0Z" fill="url(#s4)"/>
<path d="M413.1,266.0L422.0,273.5L429.9,281.1L436.8,289.0L442.7,297.1L447.6,305.2L451.5,313.5L454.3,321.9L456.1,330.4L456.8,338.9L456.4,347.3L454.9,355.8L452.4,364.2L448.9,372.5L444.3,380.8L438.6,388.9L432.0,396.8L424.4,404.5L415.8,412.0L406.3,419.3L395.9,426.4L384.6,433.1L372.5,439.5L359.6,445.6L345.9,451.4L331.6,456.7L316.6,461.7L301.0,466.3L284.8,470.5L268.2,474.2L251.1,477.5L233.6,480.4L215.8,482.8L197.7,484.7L179.5,486.1L161.0,487.0L142.5,487.5L124.0,487.4L105.5,486.9L90.9,485.9L112.0,266.0Z" fill="url(#s3)"/>
<path d="M406.1,266.0L414.8,273.4L422.6,281.0L429.4,288.7L435.2,296.7L440.0,304.8L443.9,313.0L446.6,321.3L448.4,329.6L449.1,338.0L448.8,346.4L447.4,354.8L444.9,363.1L441.5,371.4L437.0,379.5L431.5,387.5L425.1,395.3L417.7,403.0L409.3,410.4L400.0,417.7L389.8,424.6L378.8,431.3L367.0,437.6L354.4,443.7L341.1,449.4L327.1,454.7L312.4,459.7L297.2,464.2L281.4,468.3L265.1,472.0L248.4,475.3L231.3,478.1L213.9,480.5L196.3,482.4L178.4,483.8L160.4,484.7L142.3,485.1L124.1,485.1L106.0,484.6L91.2,483.6L112.0,266.0Z" fill="url(#s2)"/>
<path d="M401.4,266.0L409.9,273.3L417.6,280.8L424.3,288.6L430.1,296.4L434.9,304.5L438.6,312.6L441.4,320.8L443.1,329.1L443.8,337.5L443.5,345.8L442.2,354.1L439.8,362.4L436.4,370.5L432.1,378.6L426.7,386.6L420.3,394.3L413.0,401.9L404.8,409.3L395.7,416.5L385.7,423.4L374.9,430.0L363.2,436.3L350.9,442.3L337.7,448.0L324.0,453.3L309.5,458.2L294.6,462.7L279.0,466.8L263.0,470.5L246.6,473.7L229.8,476.5L212.6,478.9L195.2,480.8L177.7,482.2L159.9,483.1L142.1,483.5L124.3,483.5L106.5,483.0L91.3,482.0L112.0,266.0Z" fill="url(#s1)"/>
<path d="M394.5,266.0L403.0,273.2L410.5,280.7L417.1,288.3L422.7,296.1L427.4,304.0L431.1,312.1L433.9,320.2L435.6,328.4L436.3,336.6L436.1,344.9L434.8,353.1L432.5,361.3L429.2,369.3L424.9,377.3L419.7,385.2L413.5,392.9L406.4,400.4L398.4,407.7L389.5,414.8L379.8,421.7L369.2,428.2L357.9,434.5L345.8,440.4L333.0,446.0L319.5,451.3L305.4,456.1L290.8,460.6L275.6,464.7L260.0,468.3L243.9,471.5L227.5,474.3L210.8,476.6L193.8,478.5L176.6,479.9L159.3,480.8L141.9,481.2L124.4,481.2L107.0,480.7L91.6,479.7L112.0,266.0Z" fill="url(#s0)"/>
<path d="M392.5,266.0L400.8,273.2L408.3,280.6L414.9,288.2L420.5,296.0L425.2,303.9L428.9,311.9L431.6,320.0L433.3,328.2L434.0,336.4L433.8,344.6L432.5,352.8L430.2,360.9L427.0,369.0L422.8,376.9L417.6,384.8L411.5,392.5L404.4,400.0L396.5,407.3L387.6,414.3L378.0,421.1L367.5,427.7L356.2,433.9L344.2,439.8L331.5,445.4L318.2,450.6L304.2,455.5L289.6,459.9L274.6,464.0L259.1,467.6L243.1,470.8L226.8,473.6L210.2,475.9L193.3,477.8L176.3,479.1L159.1,480.1L141.8,480.5L124.5,480.5L107.2,480.0L91.6,479.0L112.0,266.0Z" fill="url(#s5)"/>
<path d="M390.4,266.0L398.7,273.2L406.1,280.5L412.7,288.1L418.2,295.9L422.9,303.7L426.6,311.7L429.3,319.8L431.0,327.9L431.7,336.1L431.5,344.3L430.2,352.5L428.0,360.6L424.8,368.6L420.6,376.6L415.5,384.4L409.4,392.0L402.4,399.5L394.5,406.8L385.8,413.8L376.2,420.6L365.8,427.1L354.6,433.3L342.7,439.2L330.1,444.8L316.8,450.0L302.9,454.8L288.5,459.3L273.6,463.3L258.1,466.9L242.3,470.1L226.1,472.9L209.6,475.2L192.9,477.0L176.0,478.4L158.9,479.3L141.7,479.8L124.5,479.8L107.4,479.3L91.7,478.3L112.0,266.0Z" fill="url(#s4)"/>
<path d="M386.8,266.0L395.0,273.1L402.4,280.4L408.8,288.0L414.4,295.7L419.0,303.5L422.6,311.4L425.3,319.5L427.0,327.6L427.8,335.7L427.5,343.8L426.3,351.9L424.1,360.0L421.0,368.0L416.8,375.9L411.8,383.6L405.8,391.2L398.9,398.7L391.1,405.9L382.5,412.9L373.0,419.7L362.8,426.1L351.7,432.3L340.0,438.2L327.5,443.7L314.4,448.9L300.8,453.7L286.5,458.1L271.8,462.2L256.5,465.8L240.9,468.9L224.9,471.7L208.7,474.0L192.1,475.8L175.4,477.2L158.5,478.1L141.6,478.5L124.6,478.5L107.7,478.0L91.8,477.1L112.0,266.0Z" fill="url(#s3)"/>
<path d="M380.1,266.0L388.2,273.0L395.4,280.3L401.7,287.7L407.2,295.3L411.7,303.0L415.3,310.9L418.0,318.8L419.7,326.8L420.4,334.9L420.2,342.9L419.1,350.9L417.0,358.9L413.9,366.8L409.9,374.6L405.0,382.3L399.2,389.8L392.5,397.2L384.9,404.3L376.5,411.2L367.2,417.9L357.2,424.3L346.5,430.5L335.0,436.3L322.9,441.7L310.1,446.9L296.7,451.6L282.8,456.0L268.4,460.0L253.6,463.6L238.3,466.7L222.7,469.4L206.8,471.7L190.7,473.5L174.4,474.9L157.9,475.8L141.3,476.2L124.8,476.2L108.2,475.7L92.1,474.8L112.0,266.0Z" fill="url(#s2)"/>
<path d="M375.6,266.0L383.5,273.0L390.6,280.1L396.9,287.5L402.3,295.0L406.8,302.7L410.3,310.5L413.0,318.4L414.7,326.3L415.4,334.3L415.2,342.3L414.1,350.2L412.1,358.1L409.1,366.0L405.2,373.7L400.3,381.3L394.6,388.8L388.0,396.1L380.6,403.2L372.3,410.1L363.3,416.7L353.4,423.1L342.9,429.2L331.6,434.9L319.7,440.4L307.1,445.5L294.0,450.2L280.3,454.5L266.2,458.5L251.6,462.0L236.6,465.2L221.2,467.9L205.6,470.1L189.7,471.9L173.7,473.3L157.5,474.2L141.2,474.6L124.9,474.6L108.6,474.1L92.4,473.2L92.4,471.8L112.0,266.0Z" fill="url(#s1)"/>
<path d="M369.1,266.0L376.9,272.9L383.8,280.0L390.0,287.2L395.3,294.7L399.7,302.3L403.2,310.0L405.8,317.7L407.5,325.6L408.3,333.5L408.1,341.3L407.0,349.2L405.1,357.0L402.2,364.8L398.4,372.5L393.7,380.0L388.1,387.4L381.7,394.6L374.5,401.6L366.4,408.4L357.6,415.0L348.0,421.3L337.7,427.3L326.7,433.0L315.1,438.4L302.9,443.4L290.1,448.1L276.7,452.4L262.9,456.3L248.7,459.8L234.0,462.9L219.1,465.6L203.8,467.8L188.3,469.6L172.6,471.0L156.8,471.9L140.9,472.3L125.0,472.3L109.1,471.8L93.3,470.9L92.7,469.5L112.0,266.0Z" fill="url(#s0)"/>
<path d="M367.1,266.0L374.8,272.8L381.8,279.9L387.9,287.2L393.1,294.6L397.5,302.1L401.0,309.8L403.6,317.5L405.3,325.4L406.1,333.2L405.9,341.1L404.9,348.9L402.9,356.7L400.1,364.4L396.3,372.1L391.7,379.6L386.1,386.9L379.8,394.1L372.6,401.1L364.6,407.9L355.9,414.5L346.4,420.7L336.2,426.7L325.3,432.4L313.7,437.8L301.6,442.8L288.9,447.5L275.6,451.8L261.9,455.7L247.8,459.2L233.3,462.3L218.4,464.9L203.3,467.1L187.9,468.9L172.3,470.3L156.6,471.2L140.9,471.6L125.1,471.6L109.3,471.1L93.6,470.2L92.7,468.8L112.0,266.0Z" fill="url(#s5)"/>
<path d="M365.1,266.0L372.8,272.8L379.7,279.9L385.8,287.1L391.0,294.5L395.3,302.0L398.8,309.6L401.4,317.3L403.1,325.1L403.9,333.0L403.8,340.8L402.7,348.6L400.8,356.4L398.0,364.1L394.2,371.7L389.6,379.2L384.2,386.5L377.9,393.7L370.8,400.7L362.8,407.4L354.1,413.9L344.7,420.2L334.6,426.2L323.8,431.8L312.3,437.2L300.3,442.2L287.7,446.8L274.5,451.1L260.9,455.0L246.9,458.5L232.5,461.6L217.7,464.2L202.7,466.4L187.5,468.2L172.0,469.6L156.4,470.5L140.8,470.9L125.1,470.9L109.5,470.4L93.9,469.5L92.8,468.1L112.0,266.0Z" fill="url(#s4)"/>
<path d="M361.7,266.0L369.3,272.8L376.1,279.8L382.1,286.9L387.3,294.3L391.6,301.7L395.0,309.3L397.6,317.0L399.3,324.7L400.1,332.5L400.0,340.3L399.0,348.1L397.1,355.8L394.3,363.4L390.6,371.0L386.1,378.4L380.7,385.7L374.5,392.9L367.5,399.8L359.7,406.5L351.1,413.0L341.9,419.2L331.9,425.2L321.2,430.8L309.9,436.1L298.0,441.1L285.6,445.7L272.6,450.0L259.2,453.8L245.4,457.3L231.1,460.4L216.6,463.0L201.8,465.2L186.7,467.0L171.5,468.3L156.1,469.2L140.7,469.7L125.2,469.7L109.8,469.2L94.4,468.3L92.9,466.9L112.0,266.0Z" fill="url(#s3)"/>
<path d="M355.3,266.0L362.8,272.7L369.5,279.6L375.4,286.7L380.5,293.9L384.7,301.3L388.1,308.8L390.6,316.4L392.3,324.0L393.1,331.7L393.0,339.4L392.1,347.1L390.2,354.7L387.6,362.3L384.0,369.7L379.6,377.1L374.4,384.3L368.4,391.4L361.5,398.2L354.0,404.9L345.6,411.3L336.6,417.4L326.8,423.3L316.4,428.9L305.4,434.1L293.9,439.1L281.7,443.6L269.1,447.9L256.0,451.7L242.5,455.1L228.7,458.2L214.5,460.8L200.0,463.0L185.3,464.7L170.5,466.0L155.5,466.9L140.4,467.4L125.3,467.4L110.3,466.9L95.3,466.0L93.2,464.7L112.0,266.0Z" fill="url(#s2)"/>
<path d="M351.0,266.0L358.4,272.6L365.0,279.5L370.8,286.5L375.8,293.7L380.0,301.0L383.3,308.4L385.8,315.9L387.5,323.5L388.3,331.1L388.3,338.7L387.3,346.4L385.6,353.9L382.9,361.4L379.5,368.9L375.2,376.2L370.1,383.3L364.2,390.3L357.5,397.1L350.0,403.7L341.8,410.1L333.0,416.2L323.4,422.0L313.2,427.6L302.4,432.8L291.0,437.7L279.1,442.2L266.7,446.4L253.8,450.2L240.6,453.6L227.0,456.6L213.0,459.2L198.8,461.4L184.4,463.1L169.8,464.5L155.0,465.3L140.2,465.8L125.4,465.8L110.6,465.3L95.9,464.4L93.3,463.1L112.0,266.0Z" fill="url(#s1)"/>
<path d="M344.8,266.0L352.0,272.5L358.5,279.3L364.2,286.2L369.1,293.3L373.2,300.5L376.5,307.9L379.0,315.3L380.7,322.8L381.5,330.3L381.5,337.8L380.6,345.4L378.9,352.8L376.4,360.3L373.0,367.6L368.8,374.8L363.9,381.9L358.1,388.8L351.6,395.5L344.4,402.1L336.4,408.4L327.8,414.4L318.5,420.2L308.5,425.6L298.0,430.8L286.9,435.6L275.3,440.1L263.2,444.3L250.7,448.0L237.8,451.4L224.5,454.4L210.9,457.0L197.1,459.1L183.0,460.9L168.8,462.2L154.4,463.0L140.0,463.5L125.5,463.5L111.1,463.0L96.8,462.2L93.6,460.8L112.0,266.0Z" fill="url(#s0)"/>
<path d="M342.9,266.0L350.1,272.5L356.5,279.2L362.2,286.1L367.1,293.2L371.2,300.4L374.4,307.7L376.9,315.1L378.6,322.5L379.4,330.0L379.4,337.6L378.5,345.0L376.8,352.5L374.3,359.9L371.0,367.2L366.9,374.4L362.0,381.5L356.3,388.3L349.8,395.1L342.7,401.6L334.8,407.8L326.2,413.8L317.0,419.6L307.1,425.1L296.7,430.2L285.7,435.0L274.2,439.5L262.2,443.6L249.8,447.4L237.0,450.7L223.8,453.7L210.3,456.3L196.6,458.4L182.6,460.2L168.5,461.5L154.2,462.3L139.9,462.8L125.6,462.8L111.3,462.3L97.0,461.5L93.7,460.2L112.0,266.0Z" fill="url(#s5)"/>
<path d="M341.1,266.0L348.2,272.5L354.5,279.2L360.2,286.0L365.0,293.1L369.1,300.2L372.4,307.5L374.8,314.9L376.5,322.3L377.3,329.8L377.3,337.3L376.5,344.7L374.8,352.2L372.3,359.5L369.1,366.8L365.0,374.0L360.1,381.0L354.5,387.9L348.1,394.6L340.9,401.0L333.1,407.3L324.6,413.3L315.5,419.0L305.7,424.5L295.4,429.6L284.5,434.4L273.0,438.9L261.1,443.0L248.8,446.7L236.1,450.1L223.0,453.0L209.7,455.6L196.0,457.7L182.2,459.5L168.2,460.8L154.1,461.6L139.8,462.1L125.6,462.1L111.4,461.6L97.3,460.8L93.7,459.5L112.0,266.0Z" fill="url(#s4)"/>
<path d="M337.8,266.0L344.8,272.4L351.1,279.1L356.7,285.9L361.5,292.9L365.5,300.0L368.8,307.2L371.2,314.5L372.9,321.9L373.7,329.3L373.7,336.8L372.9,344.2L371.3,351.6L368.8,358.9L365.6,366.1L361.6,373.3L356.8,380.2L351.3,387.1L345.0,393.7L338.0,400.2L330.3,406.4L321.9,412.3L312.9,418.0L303.2,423.4L293.0,428.5L282.3,433.3L271.0,437.8L259.3,441.8L247.2,445.6L234.6,448.9L221.8,451.8L208.6,454.4L195.1,456.5L181.5,458.2L167.7,459.5L153.7,460.4L139.7,460.8L125.7,460.8L111.7,460.4L97.7,459.5L93.9,458.2L112.0,266.0Z" fill="url(#s3)"/>
<path d="M331.8,266.0L338.7,272.3L344.8,278.9L350.3,285.6L355.0,292.5L359.0,299.5L362.2,306.7L364.6,313.9L366.2,321.2L367.0,328.5L367.1,335.9L366.3,343.2L364.8,350.5L362.4,357.7L359.3,364.9L355.4,371.9L350.8,378.8L345.4,385.6L339.3,392.1L332.5,398.5L325.0,404.6L316.8,410.5L308.1,416.2L298.7,421.5L288.8,426.6L278.3,431.3L267.4,435.7L256.0,439.7L244.1,443.4L231.9,446.7L219.4,449.6L206.5,452.2L193.4,454.3L180.1,456.0L166.7,457.2L153.1,458.1L139.5,458.5L125.8,458.5L112.1,458.1L98.6,457.3L94.1,456.0L112.0,266.0Z" fill="url(#s2)"/>
<path d="M327.7,266.0L334.4,272.3L340.5,278.8L345.9,285.4L350.6,292.3L354.5,299.2L357.6,306.3L360.0,313.5L361.7,320.7L362.5,328.0L362.5,335.2L361.8,342.5L360.3,349.7L358.0,356.9L355.0,364.0L351.2,371.0L346.6,377.8L341.4,384.5L335.4,391.0L328.7,397.4L321.4,403.5L313.4,409.3L304.8,414.9L295.6,420.2L285.9,425.2L275.6,429.9L264.9,434.3L253.7,438.3L242.1,441.9L230.1,445.2L217.8,448.1L205.1,450.6L192.3,452.7L179.2,454.4L166.0,455.7L152.7,456.5L139.3,457.0L125.9,457.0L112.5,456.5L99.1,455.7L94.3,454.4L112.0,266.0Z" fill="url(#s1)"/>
<path d="M321.8,266.0L328.4,272.2L334.4,278.6L339.7,285.2L344.2,291.9L348.1,298.8L351.2,305.8L353.5,312.8L355.1,320.0L356.0,327.1L356.1,334.3L355.4,341.5L354.0,348.7L351.8,355.7L348.8,362.7L345.1,369.6L340.7,376.4L335.6,383.0L329.8,389.5L323.3,395.7L316.2,401.7L308.5,407.5L300.1,413.1L291.2,418.3L281.7,423.3L271.7,427.9L261.3,432.2L250.4,436.2L239.1,439.8L227.4,443.0L215.4,445.9L203.2,448.4L190.6,450.5L177.9,452.1L165.1,453.4L152.1,454.2L139.0,454.7L126.0,454.7L112.9,454.3L99.9,453.4L94.5,452.2L112.0,266.0Z" fill="url(#s0)"/>
<path d="M320.0,266.0L326.6,272.2L332.5,278.5L337.8,285.1L342.3,291.8L346.1,298.6L349.2,305.6L351.6,312.6L353.2,319.7L354.0,326.9L354.1,334.1L353.4,341.2L352.0,348.3L349.9,355.4L346.9,362.4L343.3,369.2L338.9,376.0L333.9,382.6L328.1,389.0L321.7,395.2L314.6,401.2L307.0,407.0L298.7,412.5L289.8,417.7L280.4,422.7L270.5,427.3L260.2,431.6L249.4,435.5L238.2,439.1L226.6,442.4L214.7,445.2L202.5,447.7L190.1,449.8L177.5,451.4L164.8,452.7L151.9,453.5L139.0,454.0L126.0,454.0L113.1,453.6L100.2,452.7L94.6,451.5L112.0,266.0Z" fill="url(#s5)"/>
<path d="M318.2,266.0L324.8,272.1L330.7,278.5L335.9,285.0L340.4,291.7L344.2,298.5L347.2,305.4L349.6,312.4L351.2,319.5L352.0,326.6L352.1,333.8L351.5,340.9L350.1,348.0L347.9,355.0L345.1,362.0L341.5,368.8L337.2,375.5L332.1,382.1L326.4,388.5L320.1,394.7L313.1,400.7L305.5,406.4L297.2,411.9L288.5,417.1L279.2,422.0L269.4,426.7L259.1,430.9L248.4,434.9L237.3,438.5L225.8,441.7L214.0,444.5L201.9,447.0L189.6,449.1L177.1,450.7L164.5,452.0L151.7,452.8L138.9,453.3L126.0,453.3L113.2,452.9L100.4,452.1L94.6,450.8L112.0,266.0Z" fill="url(#s4)"/>
<path d="M315.1,266.0L321.6,272.1L327.4,278.4L332.6,284.9L337.0,291.5L340.8,298.3L343.8,305.1L346.1,312.1L347.7,319.1L348.6,326.2L348.7,333.3L348.1,340.4L346.7,347.4L344.6,354.4L341.8,361.3L338.3,368.1L334.0,374.8L329.1,381.3L323.5,387.7L317.2,393.8L310.3,399.8L302.8,405.5L294.8,410.9L286.1,416.1L277.0,421.0L267.3,425.6L257.2,429.8L246.6,433.8L235.7,437.3L224.4,440.5L212.8,443.4L200.9,445.8L188.8,447.9L176.4,449.5L164.0,450.8L151.4,451.6L138.8,452.0L126.1,452.1L113.4,451.7L100.9,450.8L94.8,449.6L112.0,266.0Z" fill="url(#s3)"/>
<path d="M309.4,266.0L315.8,272.0L321.4,278.2L326.5,284.6L330.9,291.1L334.5,297.8L337.5,304.6L339.8,311.5L341.4,318.4L342.3,325.4L342.4,332.4L341.8,339.4L340.5,346.3L338.5,353.2L335.8,360.0L332.4,366.8L328.3,373.4L323.5,379.8L318.1,386.1L312.0,392.2L305.3,398.0L298.0,403.7L290.2,409.1L281.8,414.2L272.9,419.0L263.5,423.6L253.7,427.8L243.4,431.7L232.8,435.2L221.8,438.4L210.5,441.2L198.9,443.6L187.1,445.6L175.2,447.3L163.0,448.5L150.8,449.3L138.5,449.8L126.2,449.8L113.9,449.4L101.6,448.6L95.0,447.4L112.0,266.0Z" fill="url(#s2)"/>
<path d="M305.5,266.0L311.8,271.9L317.4,278.1L322.3,284.4L326.6,290.9L330.3,297.5L333.2,304.2L335.5,311.0L337.1,317.9L338.0,324.8L338.1,331.7L337.6,338.7L336.3,345.6L334.4,352.4L331.7,359.2L328.4,365.8L324.4,372.4L319.7,378.8L314.4,385.0L308.4,391.0L301.9,396.9L294.8,402.5L287.1,407.8L278.8,412.9L270.1,417.7L260.9,422.2L251.3,426.4L241.2,430.2L230.8,433.7L220.0,436.9L208.9,439.6L197.6,442.0L186.0,444.1L174.3,445.7L162.4,446.9L150.4,447.8L138.3,448.2L126.2,448.2L114.2,447.8L102.2,447.0L95.2,445.8L112.0,266.0Z" fill="url(#s1)"/>
<path d="M300.0,266.0L306.1,271.9L311.5,277.9L316.4,284.1L320.6,290.5L324.2,297.0L327.1,303.7L329.4,310.4L330.9,317.2L331.8,324.0L332.0,330.8L331.5,337.7L330.3,344.5L328.4,351.2L325.9,357.9L322.6,364.5L318.8,371.0L314.2,377.3L309.1,383.4L303.3,389.4L297.0,395.1L290.1,400.7L282.6,406.0L274.6,411.0L266.2,415.7L257.2,420.2L247.8,424.3L238.1,428.1L227.9,431.6L217.5,434.7L206.7,437.4L195.7,439.8L184.5,441.8L173.0,443.4L161.5,444.7L149.8,445.5L138.1,445.9L126.3,445.9L114.6,445.6L102.9,444.8L95.4,443.6L112.0,266.0Z" fill="url(#s0)"/>
<path d="M298.3,266.0L304.3,271.8L309.8,277.9L314.6,284.1L318.8,290.4L322.4,296.9L325.2,303.5L327.5,310.2L329.0,317.0L329.9,323.7L330.1,330.6L329.6,337.4L328.4,344.1L326.6,350.9L324.1,357.5L320.9,364.1L317.0,370.5L312.6,376.8L307.5,382.9L301.8,388.9L295.5,394.6L288.6,400.1L281.2,405.4L273.3,410.4L264.9,415.1L256.1,419.6L246.8,423.7L237.1,427.5L227.1,430.9L216.7,434.0L206.0,436.8L195.1,439.1L184.0,441.1L172.7,442.7L161.2,444.0L149.6,444.8L138.0,445.2L126.3,445.2L114.7,444.9L103.1,444.1L95.5,442.9L112.0,266.0Z" fill="url(#s5)"/>
<path d="M296.6,266.0L302.6,271.8L308.0,277.8L312.8,284.0L317.0,290.3L320.5,296.8L323.4,303.3L325.6,310.0L327.2,316.7L328.0,323.5L328.2,330.3L327.8,337.1L326.6,343.8L324.8,350.5L322.3,357.1L319.1,363.7L315.3,370.1L310.9,376.4L305.9,382.5L300.2,388.4L294.0,394.1L287.2,399.6L279.9,404.8L272.1,409.8L263.7,414.5L255.0,418.9L245.8,423.1L236.2,426.8L226.2,430.3L215.9,433.4L205.4,436.1L194.5,438.5L183.5,440.5L172.3,442.1L160.9,443.3L149.4,444.1L137.9,444.5L126.4,444.5L114.8,444.2L103.4,443.4L95.6,442.2L112.0,266.0Z" fill="url(#s4)"/>
<path d="M293.7,266.0L299.6,271.8L304.9,277.7L309.7,283.8L313.8,290.1L317.3,296.5L320.1,303.0L322.4,309.7L323.9,316.3L324.8,323.1L325.0,329.8L324.5,336.5L323.4,343.2L321.6,349.9L319.2,356.5L316.1,363.0L312.4,369.3L308.0,375.6L303.1,381.6L297.5,387.5L291.4,393.2L284.7,398.6L277.5,403.8L269.8,408.8L261.6,413.5L253.0,417.9L243.9,421.9L234.5,425.7L224.7,429.1L214.6,432.2L204.2,434.9L193.5,437.3L182.7,439.2L171.6,440.8L160.4,442.1L149.1,442.9L137.8,443.3L126.4,443.3L115.1,442.9L103.8,442.2L95.7,441.0L112.0,266.0Z" fill="url(#s3)"/>
<path d="M288.3,266.0L294.1,271.7L299.3,277.5L303.9,283.6L308.0,289.8L311.4,296.1L314.2,302.5L316.4,309.0L317.9,315.6L318.8,322.2L319.0,328.9L318.6,335.5L317.6,342.2L315.8,348.7L313.5,355.2L310.5,361.6L306.9,367.9L302.7,374.1L297.9,380.1L292.6,385.9L286.6,391.5L280.2,396.9L273.2,402.0L265.7,406.9L257.8,411.5L249.4,415.9L240.6,419.9L231.5,423.6L221.9,427.0L212.1,430.0L202.0,432.7L191.7,435.1L181.1,437.0L170.4,438.6L159.5,439.8L148.6,440.6L137.5,441.0L126.5,441.1L115.5,440.7L104.5,439.9L95.9,438.8L112.0,266.0Z" fill="url(#s2)"/>
<path d="M284.6,266.0L290.3,271.6L295.5,277.4L300.0,283.4L304.0,289.5L307.4,295.8L310.1,302.1L312.3,308.6L313.8,315.1L314.7,321.7L315.0,328.3L314.6,334.8L313.5,341.4L311.9,347.9L309.6,354.4L306.7,360.7L303.2,366.9L299.1,373.0L294.4,379.0L289.2,384.7L283.4,390.3L277.1,395.6L270.2,400.7L262.9,405.6L255.1,410.2L246.9,414.5L238.3,418.5L229.4,422.2L220.1,425.5L210.4,428.6L200.5,431.2L190.4,433.5L180.1,435.5L169.5,437.0L158.9,438.2L148.2,439.0L137.4,439.5L126.5,439.5L115.7,439.1L105.0,438.4L96.1,437.3L112.0,266.0Z" fill="url(#s1)"/>
<path d="M279.4,266.0L284.9,271.5L290.0,277.2L294.4,283.1L298.3,289.1L301.6,295.3L304.3,301.6L306.5,308.0L308.0,314.4L308.9,320.9L309.1,327.4L308.8,333.9L307.8,340.3L306.2,346.7L304.1,353.1L301.3,359.4L297.9,365.5L293.9,371.5L289.4,377.4L284.3,383.1L278.7,388.6L272.6,393.9L266.0,398.9L258.9,403.7L251.4,408.2L243.4,412.5L235.1,416.5L226.4,420.1L217.3,423.4L208.0,426.4L198.4,429.0L188.6,431.3L178.5,433.2L168.3,434.8L158.0,436.0L147.6,436.8L137.1,437.2L126.6,437.2L116.1,436.9L105.7,436.2L96.3,435.1L112.0,266.0Z" fill="url(#s0)"/>
<path d="M277.8,266.0L283.3,271.5L288.3,277.2L292.7,283.0L296.6,289.0L299.9,295.2L302.6,301.4L304.7,307.8L306.2,314.2L307.1,320.6L307.4,327.1L307.0,333.5L306.1,340.0L304.5,346.4L302.4,352.7L299.6,359.0L296.3,365.1L292.4,371.1L287.9,376.9L282.9,382.6L277.3,388.1L271.2,393.3L264.7,398.4L257.7,403.1L250.2,407.7L242.3,411.9L234.1,415.8L225.5,419.5L216.5,422.8L207.3,425.7L197.8,428.4L188.0,430.6L178.1,432.6L168.0,434.1L157.7,435.3L147.4,436.1L137.0,436.5L126.6,436.5L116.2,436.2L105.9,435.5L96.4,434.4L112.0,266.0Z" fill="url(#s5)"/>
<path d="M276.2,266.0L281.7,271.5L286.6,277.1L291.0,282.9L294.9,288.9L298.1,295.0L300.8,301.3L302.9,307.6L304.4,313.9L305.3,320.4L305.6,326.8L305.3,333.2L304.3,339.7L302.8,346.0L300.7,352.3L298.0,358.6L294.7,364.7L290.8,370.6L286.4,376.4L281.4,382.1L275.9,387.5L269.9,392.8L263.4,397.8L256.5,402.6L249.1,407.1L241.3,411.3L233.1,415.2L224.6,418.8L215.7,422.1L206.5,425.1L197.1,427.7L187.5,430.0L177.6,431.9L167.6,433.4L157.5,434.6L147.2,435.4L136.9,435.8L126.6,435.8L116.3,435.5L106.1,434.8L96.5,433.7L112.0,266.0Z" fill="url(#s4)"/>
<path d="M273.5,266.0L278.8,271.4L283.7,277.0L288.1,282.8L291.9,288.7L295.1,294.8L297.8,301.0L299.8,307.2L301.3,313.6L302.2,319.9L302.5,326.3L302.2,332.7L301.3,339.1L299.8,345.4L297.8,351.7L295.1,357.8L291.9,363.9L288.1,369.8L283.7,375.6L278.8,381.2L273.4,386.6L267.5,391.8L261.2,396.8L254.3,401.5L247.1,406.0L239.4,410.2L231.4,414.1L223.0,417.7L214.3,421.0L205.3,423.9L196.0,426.5L186.5,428.8L176.8,430.7L167.0,432.2L157.0,433.4L146.9,434.2L136.8,434.6L126.7,434.6L116.5,434.3L106.4,433.6L96.6,432.5L112.0,266.0Z" fill="url(#s3)"/>
<path d="M268.4,266.0L273.7,271.3L278.4,276.8L282.7,282.5L286.4,288.4L289.5,294.3L292.2,300.4L294.2,306.6L295.7,312.8L296.6,319.1L296.9,325.4L296.6,331.7L295.8,338.0L294.4,344.2L292.4,350.4L289.8,356.5L286.7,362.5L283.0,368.3L278.8,374.0L274.1,379.6L268.9,384.9L263.2,390.1L257.0,395.0L250.4,399.7L243.4,404.1L236.0,408.2L228.2,412.1L220.1,415.6L211.6,418.9L202.9,421.8L193.9,424.3L184.7,426.6L175.3,428.5L165.8,430.0L156.1,431.1L146.4,431.9L136.5,432.3L126.7,432.4L116.9,432.1L107.1,431.4L97.4,430.3L97.0,428.9L112.0,266.0Z" fill="url(#s2)"/>
<path d="M264.9,266.0L270.1,271.3L274.8,276.7L279.0,282.4L282.6,288.1L285.7,294.0L288.3,300.1L290.3,306.2L291.8,312.3L292.7,318.5L293.0,324.8L292.8,331.0L292.0,337.3L290.6,343.4L288.7,349.6L286.2,355.6L283.2,361.5L279.6,367.3L275.5,373.0L270.9,378.5L265.8,383.8L260.3,388.8L254.2,393.7L247.8,398.4L240.9,402.7L233.7,406.8L226.0,410.7L218.1,414.2L209.8,417.4L201.3,420.3L192.5,422.8L183.5,425.1L174.3,426.9L165.0,428.4L155.5,429.6L146.0,430.4L136.4,430.8L126.7,430.8L117.1,430.5L107.5,429.8L98.1,428.8L97.1,427.3L112.0,266.0Z" fill="url(#s1)"/>
<path d="M260.0,266.0L265.0,271.2L269.6,276.5L273.7,282.1L277.3,287.8L280.3,293.6L282.9,299.5L284.9,305.5L286.3,311.6L287.2,317.7L287.6,323.9L287.4,330.0L286.6,336.2L285.3,342.3L283.5,348.3L281.1,354.3L278.2,360.1L274.7,365.8L270.8,371.4L266.3,376.8L261.4,382.1L256.0,387.1L250.2,391.9L244.0,396.5L237.3,400.8L230.3,404.9L223.0,408.6L215.3,412.1L207.3,415.3L199.0,418.1L190.5,420.7L181.8,422.9L172.9,424.7L163.8,426.2L154.7,427.3L145.4,428.1L136.1,428.5L126.8,428.6L117.5,428.3L108.2,427.6L99.0,426.5L97.4,425.2L112.0,266.0Z" fill="url(#s0)"/>
<path d="M258.5,266.0L263.5,271.2L268.0,276.5L272.1,282.0L275.6,287.7L278.7,293.4L281.2,299.3L283.2,305.3L284.6,311.4L285.5,317.5L285.9,323.6L285.7,329.7L285.0,335.8L283.7,341.9L281.9,347.9L279.5,353.9L276.6,359.7L273.2,365.4L269.3,370.9L264.9,376.3L260.1,381.5L254.8,386.5L249.0,391.3L242.8,395.9L236.2,400.2L229.3,404.2L222.0,408.0L214.4,411.5L206.5,414.6L198.3,417.5L189.9,420.0L181.2,422.2L172.4,424.0L163.5,425.5L154.4,426.6L145.2,427.4L136.0,427.8L126.8,427.9L117.6,427.6L108.4,426.9L99.3,425.9L97.5,424.5L112.0,266.0Z" fill="url(#s5)"/>
<path d="M257.0,266.0L262.0,271.1L266.5,276.4L270.5,281.9L274.0,287.5L277.0,293.3L279.5,299.2L281.5,305.1L283.0,311.2L283.9,317.2L284.2,323.3L284.0,329.4L283.3,335.5L282.1,341.6L280.3,347.5L277.9,353.4L275.1,359.2L271.7,364.9L267.9,370.5L263.5,375.8L258.7,381.0L253.5,386.0L247.8,390.8L241.7,395.3L235.2,399.6L228.3,403.6L221.1,407.4L213.5,410.8L205.7,414.0L197.6,416.8L189.3,419.3L180.7,421.5L172.0,423.3L163.1,424.8L154.1,426.0L145.1,426.7L135.9,427.1L126.8,427.2L117.7,426.9L108.6,426.2L99.5,425.2L97.5,423.8L112.0,266.0Z" fill="url(#s4)"/>
<path d="M254.4,266.0L259.3,271.1L263.8,276.3L267.7,281.8L271.2,287.4L274.2,293.1L276.7,298.9L278.6,304.8L280.1,310.8L281.0,316.8L281.3,322.8L281.2,328.9L280.5,334.9L279.3,340.9L277.5,346.9L275.2,352.7L272.4,358.5L269.2,364.1L265.4,369.6L261.1,374.9L256.4,380.1L251.3,385.1L245.7,389.8L239.7,394.3L233.3,398.6L226.5,402.6L219.4,406.3L212.0,409.7L204.3,412.9L196.4,415.7L188.2,418.2L179.8,420.3L171.2,422.2L162.5,423.6L153.7,424.8L144.8,425.5L135.8,425.9L126.8,426.0L117.8,425.7L108.9,425.0L100.0,424.0L97.6,422.6L112.0,266.0Z" fill="url(#s3)"/>
<path d="M249.7,266.0L254.4,271.0L258.8,276.2L262.6,281.5L266.0,287.0L269.0,292.6L271.4,298.3L273.3,304.2L274.7,310.1L275.6,316.0L276.0,321.9L275.9,327.9L275.3,333.9L274.1,339.8L272.4,345.6L270.3,351.4L267.6,357.1L264.4,362.6L260.8,368.1L256.7,373.3L252.1,378.4L247.2,383.3L241.8,388.0L236.0,392.4L229.8,396.6L223.3,400.6L216.4,404.3L209.3,407.7L201.8,410.8L194.2,413.5L186.2,416.0L178.1,418.1L169.8,419.9L161.4,421.4L152.8,422.5L144.2,423.3L135.5,423.7L126.8,423.8L118.1,423.5L109.5,422.8L100.9,421.8L97.9,420.5L112.0,266.0Z" fill="url(#s2)"/>
<path d="M246.4,266.0L251.1,270.9L255.4,276.0L259.2,281.3L262.5,286.8L265.4,292.3L267.8,298.0L269.7,303.7L271.1,309.6L272.0,315.4L272.4,321.3L272.3,327.2L271.7,333.1L270.6,339.0L269.0,344.8L266.9,350.5L264.3,356.1L261.2,361.6L257.7,367.0L253.7,372.2L249.2,377.2L244.4,382.1L239.1,386.7L233.5,391.1L227.4,395.3L221.1,399.2L214.4,402.9L207.4,406.2L200.1,409.3L192.6,412.1L184.9,414.5L177.0,416.6L168.9,418.4L160.6,419.9L152.3,421.0L143.8,421.7L135.3,422.2L126.8,422.2L118.4,421.9L109.9,421.3L101.5,420.3L98.0,419.0L112.0,266.0Z" fill="url(#s1)"/>
<path d="M241.8,266.0L246.4,270.8L250.5,275.9L254.2,281.1L257.5,286.4L260.3,291.9L262.6,297.4L264.5,303.1L265.9,308.8L266.8,314.6L267.2,320.4L267.2,326.2L266.6,332.0L265.6,337.8L264.0,343.5L262.0,349.2L259.5,354.7L256.6,360.1L253.2,365.4L249.3,370.6L245.1,375.6L240.4,380.3L235.3,384.9L229.9,389.3L224.1,393.4L217.9,397.2L211.5,400.8L204.7,404.2L197.7,407.2L190.4,409.9L183.0,412.3L175.3,414.4L167.5,416.2L159.5,417.7L151.4,418.8L143.3,419.5L135.1,419.9L126.9,420.0L118.7,419.7L110.5,419.1L102.4,418.1L98.3,416.8L112.0,266.0Z" fill="url(#s0)"/>
<path d="M240.4,266.0L244.9,270.8L249.0,275.8L252.7,281.0L256.0,286.3L258.8,291.7L261.1,297.3L263.0,302.9L264.3,308.6L265.2,314.4L265.7,320.1L265.6,325.9L265.1,331.7L264.0,337.5L262.5,343.1L260.5,348.8L258.1,354.3L255.2,359.7L251.8,365.0L248.0,370.1L243.8,375.0L239.2,379.8L234.2,384.4L228.8,388.7L223.0,392.8L217.0,396.6L210.6,400.2L203.9,403.5L197.0,406.6L189.8,409.3L182.4,411.7L174.8,413.8L167.0,415.5L159.2,417.0L151.2,418.1L143.1,418.8L135.0,419.2L126.9,419.3L118.7,419.0L110.7,418.4L102.6,417.4L98.3,416.1L112.0,266.0Z" fill="url(#i5)"/>
<path d="M239.0,266.0L243.5,270.8L247.6,275.8L251.2,280.9L254.4,286.2L257.2,291.6L259.5,297.1L261.4,302.7L262.8,308.4L263.7,314.1L264.1,319.9L264.1,325.6L263.5,331.4L262.5,337.1L261.0,342.8L259.1,348.4L256.6,353.8L253.8,359.2L250.5,364.5L246.7,369.6L242.5,374.5L238.0,379.3L233.0,383.8L227.7,388.1L222.0,392.2L216.0,396.0L209.7,399.6L203.1,402.9L196.2,405.9L189.1,408.6L181.8,411.0L174.3,413.1L166.6,414.9L158.8,416.3L150.9,417.4L142.9,418.1L134.9,418.5L126.9,418.6L118.8,418.3L110.8,417.7L102.9,416.8L98.4,415.5L112.0,266.0Z" fill="url(#i4)"/>
<path d="M236.6,266.0L241.0,270.7L245.0,275.7L248.6,280.7L251.8,286.0L254.5,291.3L256.8,296.8L258.7,302.4L260.0,308.0L260.9,313.7L261.4,319.4L261.3,325.1L260.8,330.8L259.9,336.5L258.4,342.1L256.5,347.6L254.2,353.1L251.3,358.4L248.1,363.6L244.4,368.7L240.4,373.6L235.9,378.3L231.0,382.8L225.8,387.1L220.2,391.2L214.3,395.0L208.1,398.5L201.7,401.8L194.9,404.8L188.0,407.5L180.8,409.9L173.4,411.9L165.9,413.7L158.2,415.1L150.5,416.2L142.7,416.9L134.8,417.3L126.9,417.4L119.0,417.1L111.1,416.5L103.3,415.6L98.5,414.3L112.0,266.0Z" fill="url(#i3)"/>
<path d="M232.1,266.0L236.4,270.7L240.4,275.5L243.9,280.5L247.0,285.6L249.6,290.9L251.9,296.3L253.7,301.7L255.0,307.3L256.0,312.9L256.4,318.5L256.4,324.1L255.9,329.7L255.0,335.3L253.6,340.9L251.8,346.3L249.6,351.7L246.9,357.0L243.8,362.1L240.3,367.1L236.3,371.9L232.0,376.6L227.4,381.0L222.3,385.2L217.0,389.2L211.3,393.0L205.3,396.5L199.1,399.7L192.6,402.7L185.8,405.4L178.9,407.7L171.8,409.8L164.6,411.5L157.2,412.9L149.7,414.0L142.1,414.7L134.5,415.1L126.9,415.2L119.3,414.9L111.7,414.3L104.2,413.4L98.8,412.1L112.0,266.0Z" fill="url(#i2)"/>
<path d="M229.1,266.0L233.3,270.6L237.2,275.4L240.6,280.3L243.7,285.4L246.3,290.6L248.5,295.9L250.3,301.3L251.6,306.8L252.5,312.3L253.0,317.9L253.0,323.4L252.6,329.0L251.7,334.5L250.4,340.0L248.6,345.4L246.5,350.7L243.8,355.9L240.8,361.0L237.4,366.0L233.6,370.8L229.4,375.4L224.8,379.8L220.0,384.0L214.7,387.9L209.2,391.6L203.4,395.1L197.3,398.3L191.0,401.2L184.4,403.9L177.6,406.2L170.7,408.2L163.6,410.0L156.4,411.4L149.1,412.4L141.7,413.2L134.3,413.6L126.9,413.7L119.4,413.4L112.0,412.8L104.7,411.9L98.9,410.6L112.0,266.0Z" fill="url(#i1)"/>
<path d="M224.8,266.0L228.9,270.5L232.6,275.2L236.0,280.0L239.0,285.0L241.5,290.1L243.7,295.4L245.5,300.7L246.8,306.1L247.7,311.5L248.2,317.0L248.2,322.4L247.8,327.9L247.0,333.4L245.8,338.8L244.1,344.1L242.0,349.3L239.5,354.5L236.6,359.5L233.3,364.4L229.7,369.1L225.7,373.6L221.3,378.0L216.6,382.1L211.5,386.0L206.2,389.7L200.6,393.1L194.8,396.3L188.7,399.2L182.3,401.8L175.8,404.1L169.1,406.1L162.3,407.8L155.4,409.2L148.3,410.2L141.2,411.0L134.1,411.4L126.9,411.4L119.7,411.2L112.6,410.6L105.5,409.7L99.2,408.5L112.0,266.0Z" fill="url(#i0)"/>
<path d="M223.5,266.0L227.6,270.5L231.3,275.1L234.6,279.9L237.5,284.9L240.1,290.0L242.2,295.2L244.0,300.5L245.3,305.8L246.2,311.2L246.7,316.7L246.7,322.1L246.4,327.6L245.6,333.0L244.3,338.4L242.7,343.7L240.6,348.9L238.2,354.0L235.3,359.0L232.1,363.9L228.5,368.6L224.5,373.1L220.2,377.4L215.5,381.5L210.6,385.4L205.3,389.1L199.8,392.5L194.0,395.6L188.0,398.5L181.7,401.1L175.3,403.4L168.7,405.4L161.9,407.1L155.0,408.5L148.1,409.5L141.0,410.3L134.0,410.7L126.9,410.8L119.8,410.5L112.7,409.9L105.7,409.0L99.2,407.8L112.0,266.0Z" fill="url(#i5)"/>
<path d="M222.2,266.0L226.2,270.4L229.9,275.1L233.2,279.9L236.1,284.8L238.7,289.9L240.8,295.0L242.5,300.3L243.8,305.6L244.7,311.0L245.2,316.4L245.3,321.8L244.9,327.3L244.1,332.6L242.9,338.0L241.3,343.3L239.3,348.5L236.9,353.6L234.1,358.5L230.9,363.4L227.3,368.0L223.4,372.5L219.1,376.8L214.5,380.9L209.6,384.8L204.4,388.5L198.9,391.9L193.2,395.0L187.3,397.9L181.1,400.5L174.7,402.8L168.2,404.7L161.5,406.4L154.7,407.8L147.8,408.9L140.9,409.6L133.9,410.0L126.9,410.1L119.9,409.8L112.9,409.3L106.0,408.4L99.3,407.2L112.0,266.0Z" fill="url(#i4)"/>
<path d="M220.0,266.0L223.9,270.4L227.5,275.0L230.8,279.7L233.7,284.6L236.2,289.6L238.3,294.7L240.0,299.9L241.3,305.2L242.2,310.6L242.7,315.9L242.8,321.3L242.4,326.7L241.7,332.0L240.5,337.3L238.9,342.6L237.0,347.7L234.6,352.8L231.8,357.7L228.7,362.5L225.2,367.1L221.4,371.6L217.2,375.9L212.7,379.9L207.9,383.8L202.8,387.4L197.5,390.8L191.9,393.9L186.0,396.8L180.0,399.3L173.8,401.6L167.4,403.6L160.8,405.3L154.2,406.6L147.4,407.7L140.6,408.4L133.7,408.8L126.9,408.9L120.0,408.6L113.1,408.1L106.4,407.2L99.7,406.0L99.6,404.5L112.0,266.0Z" fill="url(#i3)"/>
<path d="M215.8,266.0L219.7,270.3L223.2,274.8L226.3,279.4L229.1,284.2L231.6,289.2L233.7,294.2L235.3,299.3L236.6,304.5L237.5,309.7L238.0,315.0L238.1,320.3L237.8,325.6L237.1,330.9L236.0,336.1L234.5,341.2L232.7,346.3L230.4,351.3L227.8,356.2L224.8,360.9L221.5,365.5L217.8,369.9L213.8,374.1L209.5,378.1L204.9,381.9L200.0,385.5L194.8,388.8L189.4,391.9L183.8,394.7L178.0,397.2L172.0,399.5L165.8,401.4L159.5,403.1L153.1,404.4L146.6,405.5L140.1,406.2L133.5,406.6L126.8,406.7L120.2,406.4L113.6,405.9L107.1,405.0L100.6,403.8L99.8,402.4L112.0,266.0Z" fill="url(#i2)"/>
<path d="M213.0,266.0L216.8,270.3L220.2,274.7L223.3,279.3L226.1,284.0L228.5,288.9L230.5,293.8L232.2,298.9L233.4,304.0L234.3,309.2L234.8,314.4L235.0,319.6L234.7,324.9L234.0,330.1L233.0,335.2L231.6,340.3L229.7,345.4L227.6,350.3L225.0,355.1L222.1,359.8L218.9,364.3L215.3,368.7L211.4,372.8L207.2,376.8L202.8,380.6L198.0,384.1L193.0,387.4L187.7,390.5L182.3,393.2L176.6,395.8L170.8,398.0L164.8,399.9L158.7,401.6L152.4,402.9L146.1,403.9L139.7,404.7L133.3,405.1L126.8,405.2L120.4,404.9L114.0,404.4L107.6,403.5L101.3,402.4L100.0,400.9L112.0,266.0Z" fill="url(#i1)"/>
<path d="M209.0,266.0L212.7,270.2L216.0,274.5L219.0,279.0L221.7,283.6L224.0,288.4L226.0,293.3L227.7,298.2L228.9,303.3L229.8,308.4L230.3,313.5L230.5,318.6L230.2,323.8L229.6,328.9L228.6,334.0L227.3,339.0L225.6,344.0L223.5,348.8L221.1,353.5L218.3,358.2L215.2,362.6L211.8,366.9L208.1,371.0L204.1,375.0L199.8,378.7L195.2,382.2L190.4,385.4L185.4,388.4L180.1,391.2L174.7,393.6L169.1,395.8L163.3,397.8L157.4,399.4L151.4,400.7L145.3,401.7L139.2,402.5L133.0,402.9L126.8,403.0L120.6,402.7L114.4,402.2L108.3,401.4L102.3,400.2L100.2,398.8L112.0,266.0Z" fill="url(#i0)"/>
<path d="M207.8,266.0L211.4,270.1L214.7,274.4L217.7,278.9L220.4,283.5L222.7,288.3L224.7,293.1L226.3,298.0L227.5,303.1L228.4,308.1L229.0,313.2L229.1,318.3L228.9,323.5L228.3,328.6L227.3,333.6L226.0,338.6L224.3,343.5L222.3,348.4L219.9,353.1L217.2,357.7L214.1,362.1L210.7,366.4L207.1,370.5L203.1,374.4L198.9,378.1L194.4,381.6L189.6,384.8L184.6,387.8L179.5,390.5L174.1,393.0L168.5,395.2L162.9,397.1L157.0,398.7L151.1,400.0L145.1,401.1L139.0,401.8L132.9,402.2L126.8,402.3L120.7,402.1L114.6,401.5L108.5,400.7L102.5,399.6L100.3,398.1L112.0,266.0Z" fill="url(#i5)"/>
<path d="M206.6,266.0L210.2,270.1L213.5,274.4L216.4,278.8L219.1,283.4L221.4,288.1L223.3,292.9L224.9,297.9L226.2,302.8L227.1,307.9L227.6,313.0L227.7,318.0L227.5,323.1L227.0,328.2L226.0,333.2L224.7,338.2L223.1,343.1L221.0,347.9L218.7,352.6L216.0,357.2L213.0,361.6L209.7,365.8L206.0,369.9L202.1,373.8L197.9,377.5L193.5,381.0L188.8,384.2L183.9,387.2L178.8,389.9L173.5,392.4L168.0,394.5L162.4,396.4L156.7,398.1L150.8,399.4L144.9,400.4L138.9,401.1L132.8,401.5L126.8,401.6L120.7,401.4L114.7,400.9L108.7,400.0L102.8,398.9L100.3,397.5L112.0,266.0Z" fill="url(#i4)"/>
<path d="M204.5,266.0L208.0,270.1L211.3,274.3L214.2,278.7L216.8,283.2L219.0,287.9L221.0,292.7L222.6,297.5L223.8,302.4L224.7,307.4L225.2,312.5L225.4,317.5L225.2,322.6L224.6,327.6L223.7,332.6L222.5,337.5L220.9,342.4L218.9,347.1L216.6,351.8L214.0,356.3L211.1,360.7L207.8,364.9L204.3,369.0L200.5,372.8L196.4,376.5L192.0,379.9L187.5,383.1L182.7,386.1L177.6,388.8L172.5,391.2L167.1,393.4L161.6,395.3L156.0,396.9L150.3,398.2L144.5,399.2L138.6,399.9L132.7,400.3L126.8,400.4L120.8,400.2L114.9,399.7L109.1,398.9L103.3,397.8L100.5,396.3L112.0,266.0Z" fill="url(#i3)"/>
<path d="M200.7,266.0L204.1,270.0L207.2,274.1L210.1,278.4L212.6,282.9L214.8,287.4L216.7,292.1L218.2,296.9L219.5,301.7L220.3,306.6L220.9,311.6L221.1,316.5L220.9,321.5L220.4,326.4L219.6,331.3L218.4,336.2L216.9,341.0L215.0,345.7L212.8,350.2L210.3,354.7L207.5,359.0L204.4,363.2L201.1,367.2L197.4,371.0L193.5,374.6L189.3,378.0L184.9,381.1L180.3,384.0L175.6,386.7L170.6,389.1L165.4,391.3L160.2,393.1L154.8,394.7L149.3,396.0L143.7,397.0L138.1,397.7L132.4,398.1L126.7,398.2L121.0,398.0L115.4,397.5L109.8,396.7L104.2,395.6L100.7,394.2L112.0,266.0Z" fill="url(#i2)"/>
<path d="M198.1,266.0L201.4,269.9L204.5,274.0L207.3,278.2L209.7,282.6L211.9,287.1L213.8,291.7L215.3,296.4L216.5,301.2L217.4,306.1L217.9,310.9L218.1,315.8L218.0,320.7L217.5,325.6L216.7,330.5L215.6,335.3L214.1,340.0L212.3,344.6L210.2,349.2L207.8,353.6L205.1,357.9L202.1,362.0L198.9,365.9L195.3,369.7L191.5,373.3L187.5,376.6L183.2,379.7L178.8,382.6L174.1,385.3L169.3,387.7L164.3,389.8L159.2,391.6L154.0,393.2L148.6,394.5L143.2,395.5L137.7,396.2L132.2,396.6L126.7,396.7L121.2,396.5L115.7,396.0L110.2,395.2L104.8,394.2L100.8,392.8L112.0,266.0Z" fill="url(#i1)"/>
<path d="M194.4,266.0L197.6,269.8L200.6,273.8L203.3,278.0L205.7,282.3L207.8,286.7L209.6,291.2L211.1,295.8L212.3,300.5L213.2,305.3L213.7,310.0L214.0,314.9L213.9,319.7L213.4,324.5L212.7,329.2L211.6,334.0L210.3,338.6L208.6,343.2L206.6,347.6L204.3,352.0L201.7,356.2L198.8,360.2L195.7,364.1L192.3,367.8L188.7,371.4L184.9,374.7L180.8,377.7L176.5,380.6L172.1,383.2L167.5,385.6L162.7,387.7L157.8,389.5L152.8,391.1L147.7,392.3L142.5,393.3L137.2,394.0L131.9,394.4L126.6,394.5L121.3,394.3L116.1,393.9L110.8,393.1L105.7,392.0L101.1,390.7L112.0,266.0Z" fill="url(#i0)"/>
<path d="M193.3,266.0L196.5,269.8L199.4,273.8L202.1,277.9L204.5,282.1L206.6,286.5L208.4,291.0L209.8,295.6L211.0,300.3L211.9,305.0L212.5,309.8L212.7,314.6L212.6,319.3L212.2,324.1L211.5,328.9L210.4,333.6L209.1,338.2L207.4,342.7L205.5,347.2L203.2,351.5L200.7,355.7L197.8,359.7L194.8,363.6L191.4,367.3L187.9,370.8L184.1,374.1L180.1,377.1L175.8,380.0L171.5,382.6L166.9,384.9L162.2,387.0L157.4,388.8L152.4,390.4L147.4,391.7L142.2,392.6L137.1,393.3L131.9,393.7L126.6,393.9L121.4,393.7L116.2,393.2L111.0,392.4L105.9,391.4L101.1,390.0L112.0,266.0Z" fill="url(#i5)"/>
<path d="M192.2,266.0L195.3,269.8L198.2,273.7L200.9,277.8L203.2,282.0L205.3,286.4L207.1,290.9L208.6,295.4L209.8,300.1L210.6,304.8L211.2,309.5L211.4,314.2L211.3,319.0L211.0,323.8L210.2,328.5L209.2,333.1L207.9,337.7L206.3,342.3L204.3,346.7L202.1,351.0L199.6,355.2L196.9,359.2L193.8,363.0L190.5,366.7L187.0,370.2L183.3,373.5L179.3,376.5L175.2,379.4L170.8,381.9L166.3,384.3L161.7,386.4L156.9,388.2L152.0,389.7L147.1,391.0L142.0,392.0L136.9,392.7L131.8,393.1L126.6,393.2L121.4,393.0L116.3,392.5L111.2,391.8L106.2,390.7L101.2,389.4L101.4,387.8L112.0,266.0Z" fill="url(#i4)"/>
<path d="M190.2,266.0L193.3,269.7L196.2,273.6L198.8,277.6L201.1,281.8L203.2,286.1L204.9,290.6L206.4,295.1L207.6,299.7L208.4,304.3L209.0,309.0L209.2,313.7L209.2,318.4L208.8,323.1L208.1,327.8L207.1,332.4L205.9,337.0L204.3,341.5L202.4,345.9L200.3,350.1L197.8,354.3L195.1,358.2L192.2,362.1L189.0,365.7L185.5,369.2L181.9,372.4L178.0,375.5L174.0,378.3L169.8,380.8L165.4,383.2L160.8,385.2L156.2,387.0L151.4,388.6L146.6,389.8L141.6,390.8L136.6,391.5L131.6,391.9L126.6,392.0L121.5,391.8L116.5,391.4L111.5,390.6L106.6,389.6L101.8,388.3L101.5,386.7L112.0,266.0Z" fill="url(#i3)"/>
<path d="M186.7,266.0L189.7,269.6L192.5,273.4L195.0,277.4L197.3,281.5L199.2,285.7L201.0,290.0L202.4,294.4L203.5,298.9L204.4,303.5L205.0,308.1L205.2,312.7L205.2,317.4L204.9,322.0L204.3,326.6L203.3,331.1L202.1,335.6L200.7,340.0L198.9,344.3L196.8,348.5L194.5,352.6L192.0,356.5L189.2,360.3L186.1,363.9L182.9,367.3L179.4,370.5L175.7,373.5L171.8,376.2L167.8,378.8L163.6,381.1L159.3,383.1L154.8,384.9L150.3,386.4L145.6,387.7L140.9,388.6L136.1,389.3L131.3,389.7L126.5,389.8L121.7,389.7L116.9,389.2L112.1,388.5L107.4,387.5L102.8,386.2L101.7,384.6L112.0,266.0Z" fill="url(#i2)"/>
<path d="M184.3,266.0L187.3,269.6L190.0,273.3L192.4,277.2L194.6,281.2L196.6,285.4L198.3,289.6L199.7,294.0L200.8,298.4L201.7,302.9L202.2,307.5L202.5,312.0L202.5,316.6L202.2,321.2L201.6,325.7L200.8,330.2L199.6,334.6L198.2,339.0L196.5,343.3L194.5,347.4L192.3,351.4L189.8,355.3L187.1,359.0L184.2,362.6L181.0,366.0L177.7,369.1L174.1,372.1L170.4,374.8L166.4,377.4L162.4,379.6L158.2,381.7L153.9,383.4L149.5,384.9L145.0,386.2L140.4,387.1L135.8,387.8L131.1,388.2L126.5,388.3L121.8,388.2L117.1,387.7L112.5,387.0L108.0,386.0L103.5,384.7L101.9,383.2L112.0,266.0Z" fill="url(#i1)"/>
<path d="M181.0,266.0L183.8,269.5L186.4,273.1L188.8,276.9L190.9,280.9L192.8,284.9L194.4,289.1L195.8,293.4L196.9,297.7L197.8,302.1L198.3,306.6L198.6,311.1L198.7,315.5L198.4,320.0L197.9,324.5L197.1,328.9L196.0,333.3L194.7,337.5L193.1,341.7L191.2,345.8L189.1,349.8L186.8,353.6L184.2,357.3L181.4,360.8L178.4,364.1L175.2,367.2L171.8,370.1L168.3,372.8L164.5,375.3L160.7,377.6L156.7,379.6L152.6,381.3L148.4,382.8L144.1,384.0L139.7,385.0L135.3,385.6L130.9,386.0L126.4,386.2L121.9,386.0L117.5,385.6L113.1,384.9L108.7,383.9L104.4,382.6L102.1,381.1L112.0,266.0Z" fill="url(#i0)"/>
<path d="M179.9,266.0L182.7,269.4L185.3,273.1L187.7,276.8L189.8,280.7L191.7,284.8L193.3,288.9L194.6,293.2L195.8,297.5L196.6,301.9L197.2,306.3L197.5,310.7L197.5,315.2L197.3,319.7L196.7,324.1L196.0,328.5L194.9,332.8L193.6,337.1L192.0,341.3L190.2,345.3L188.1,349.3L185.8,353.1L183.3,356.7L180.6,360.2L177.6,363.5L174.5,366.6L171.1,369.5L167.6,372.2L164.0,374.7L160.1,376.9L156.2,378.9L152.2,380.6L148.0,382.1L143.8,383.3L139.5,384.3L135.1,385.0L130.8,385.4L126.4,385.5L122.0,385.3L117.6,384.9L113.3,384.2L109.0,383.2L104.7,382.0L102.1,380.5L112.0,266.0Z" fill="url(#i5)"/>
<path d="M178.9,266.0L181.7,269.4L184.2,273.0L186.6,276.7L188.7,280.6L190.5,284.6L192.1,288.8L193.5,293.0L194.6,297.3L195.4,301.6L196.0,306.0L196.3,310.4L196.3,314.9L196.1,319.3L195.6,323.7L194.9,328.1L193.8,332.4L192.5,336.6L191.0,340.8L189.2,344.8L187.2,348.7L184.9,352.5L182.4,356.2L179.7,359.6L176.8,362.9L173.7,366.0L170.4,368.9L167.0,371.6L163.4,374.0L159.6,376.3L155.8,378.3L151.8,380.0L147.7,381.5L143.5,382.7L139.3,383.6L135.0,384.3L130.7,384.7L126.3,384.8L122.0,384.7L117.7,384.3L113.4,383.6L109.2,382.6L105.0,381.4L102.2,379.9L112.0,266.0Z" fill="url(#i4)"/>
<path d="M177.2,266.0L179.9,269.4L182.4,272.9L184.7,276.6L186.7,280.4L188.5,284.4L190.1,288.5L191.5,292.6L192.6,296.9L193.4,301.2L194.0,305.5L194.3,309.9L194.3,314.3L194.1,318.7L193.7,323.0L192.9,327.4L191.9,331.6L190.7,335.8L189.2,340.0L187.5,344.0L185.5,347.8L183.3,351.6L180.9,355.2L178.3,358.6L175.4,361.9L172.4,365.0L169.2,367.8L165.9,370.5L162.4,372.9L158.7,375.2L154.9,377.1L151.1,378.8L147.1,380.3L143.0,381.5L138.9,382.5L134.7,383.1L130.5,383.5L126.3,383.7L122.1,383.5L117.9,383.1L113.7,382.4L109.6,381.5L105.5,380.3L102.3,378.8L112.0,266.0Z" fill="url(#i3)"/>
<path d="M174.0,266.0L176.6,269.3L179.0,272.7L181.2,276.3L183.2,280.1L184.9,283.9L186.5,287.9L187.8,292.0L188.9,296.1L189.7,300.4L190.3,304.6L190.6,308.9L190.7,313.2L190.5,317.5L190.1,321.8L189.4,326.1L188.5,330.2L187.3,334.4L185.9,338.4L184.3,342.4L182.5,346.2L180.4,349.9L178.1,353.4L175.6,356.8L172.9,360.0L170.1,363.0L167.1,365.9L163.9,368.5L160.5,370.9L157.1,373.1L153.5,375.0L149.8,376.7L146.0,378.2L142.1,379.4L138.2,380.3L134.2,381.0L130.2,381.4L126.2,381.5L122.2,381.4L118.2,381.0L114.2,380.3L110.3,379.4L106.4,378.2L102.7,376.7L102.7,375.0L112.0,266.0Z" fill="url(#i2)"/>
<path d="M171.8,266.0L174.3,269.2L176.7,272.6L178.8,276.1L180.8,279.8L182.5,283.6L184.0,287.5L185.3,291.5L186.4,295.6L187.2,299.8L187.7,304.0L188.1,308.2L188.2,312.5L188.0,316.7L187.6,320.9L187.0,325.1L186.2,329.3L185.0,333.4L183.7,337.3L182.2,341.2L180.4,345.0L178.4,348.7L176.2,352.2L173.8,355.5L171.2,358.7L168.5,361.7L165.6,364.5L162.5,367.1L159.3,369.5L155.9,371.6L152.5,373.6L148.9,375.3L145.3,376.7L141.5,377.9L137.7,378.8L133.9,379.5L130.0,379.9L126.2,380.0L122.3,379.9L118.4,379.5L114.6,378.8L110.8,377.9L107.0,376.8L103.4,375.3L102.9,373.6L112.0,266.0Z" fill="url(#i1)"/>
<path d="M168.7,266.0L171.2,269.1L173.4,272.4L175.5,275.9L177.4,279.4L179.0,283.2L180.5,287.0L181.8,290.9L182.8,294.9L183.6,299.0L184.2,303.1L184.5,307.2L184.7,311.4L184.5,315.6L184.2,319.7L183.6,323.8L182.8,327.9L181.8,331.9L180.6,335.8L179.1,339.6L177.4,343.4L175.6,346.9L173.5,350.4L171.2,353.7L168.8,356.8L166.2,359.8L163.4,362.5L160.5,365.1L157.5,367.4L154.3,369.6L151.0,371.5L147.7,373.1L144.2,374.6L140.7,375.7L137.1,376.7L133.4,377.3L129.7,377.7L126.1,377.9L122.4,377.7L118.7,377.4L115.1,376.7L111.5,375.8L107.9,374.7L104.4,373.3L103.1,371.6L112.0,266.0Z" fill="url(#i0)"/>
<path d="M167.8,266.0L170.2,269.1L172.4,272.4L174.5,275.8L176.3,279.3L178.0,283.0L179.4,286.8L180.7,290.7L181.7,294.7L182.5,298.7L183.1,302.8L183.5,306.9L183.6,311.1L183.5,315.2L183.2,319.3L182.6,323.4L181.8,327.5L180.8,331.4L179.6,335.3L178.2,339.1L176.5,342.8L174.7,346.4L172.7,349.8L170.5,353.1L168.1,356.2L165.5,359.2L162.8,361.9L159.9,364.5L156.9,366.8L153.8,368.9L150.6,370.8L147.3,372.5L143.9,373.9L140.4,375.1L136.8,376.0L133.3,376.7L129.7,377.1L126.0,377.2L122.4,377.1L118.8,376.7L115.2,376.1L111.7,375.2L108.2,374.1L104.8,372.7L103.2,371.0L112.0,266.0Z" fill="url(#i5)"/>
<path d="M166.9,266.0L169.2,269.1L171.4,272.3L173.5,275.7L175.3,279.2L177.0,282.9L178.4,286.6L179.6,290.5L180.6,294.4L181.4,298.5L182.0,302.5L182.4,306.6L182.5,310.7L182.4,314.8L182.1,318.9L181.6,323.0L180.8,327.0L179.8,331.0L178.7,334.9L177.3,338.7L175.7,342.3L173.9,345.9L171.9,349.3L169.7,352.6L167.3,355.7L164.8,358.6L162.2,361.3L159.4,363.9L156.4,366.2L153.3,368.3L150.2,370.2L146.9,371.8L143.5,373.3L140.1,374.4L136.6,375.3L133.1,376.0L129.6,376.4L126.0,376.5L122.4,376.4L118.9,376.1L115.3,375.4L111.9,374.6L108.4,373.4L105.1,372.0L103.2,370.4L112.0,266.0Z" fill="url(#i4)"/>
<path d="M165.3,266.0L167.6,269.0L169.8,272.2L171.7,275.5L173.5,279.0L175.2,282.6L176.6,286.3L177.8,290.2L178.8,294.0L179.6,298.0L180.2,302.0L180.5,306.1L180.7,310.1L180.6,314.2L180.3,318.3L179.8,322.3L179.1,326.3L178.1,330.2L177.0,334.0L175.7,337.8L174.1,341.4L172.4,345.0L170.4,348.3L168.3,351.6L166.1,354.6L163.6,357.6L161.1,360.3L158.3,362.8L155.5,365.1L152.5,367.2L149.4,369.1L146.2,370.7L143.0,372.1L139.7,373.3L136.3,374.2L132.9,374.8L129.4,375.2L125.9,375.4L122.5,375.3L119.0,374.9L115.6,374.3L112.2,373.4L108.9,372.3L105.6,370.9L103.3,369.3L112.0,266.0Z" fill="url(#i3)"/>
<path d="M162.4,266.0L164.6,268.9L166.7,272.0L168.6,275.3L170.3,278.6L171.9,282.2L173.3,285.8L174.4,289.5L175.4,293.3L176.2,297.2L176.8,301.1L177.2,305.1L177.3,309.0L177.3,313.0L177.0,317.0L176.6,321.0L175.9,324.9L175.1,328.7L174.0,332.5L172.7,336.2L171.3,339.8L169.7,343.2L167.9,346.6L165.9,349.7L163.7,352.8L161.5,355.6L159.0,358.3L156.5,360.8L153.8,363.1L150.9,365.1L148.0,367.0L145.0,368.6L142.0,370.0L138.8,371.1L135.6,372.0L132.4,372.7L129.1,373.1L125.8,373.3L122.6,373.2L119.3,372.8L116.0,372.2L112.8,371.4L109.7,370.3L106.6,368.9L103.6,367.4L112.0,266.0Z" fill="url(#i2)"/>
<path d="M160.4,266.0L162.6,268.9L164.6,271.9L166.4,275.1L168.1,278.4L169.7,281.8L171.0,285.4L172.2,289.0L173.1,292.8L173.9,296.6L174.5,300.5L174.9,304.4L175.0,308.3L175.0,312.2L174.8,316.1L174.4,320.0L173.8,323.9L173.0,327.7L171.9,331.4L170.8,335.1L169.4,338.6L167.8,342.0L166.1,345.3L164.2,348.5L162.2,351.5L160.0,354.3L157.6,356.9L155.2,359.4L152.6,361.7L149.9,363.7L147.1,365.5L144.2,367.1L141.3,368.5L138.2,369.7L135.2,370.6L132.1,371.2L128.9,371.6L125.8,371.8L122.6,371.7L119.5,371.3L116.3,370.8L113.2,369.9L110.2,368.8L107.2,367.5L104.3,366.0L112.0,266.0Z" fill="url(#i1)"/>
<path d="M157.6,266.0L159.7,268.8L161.6,271.7L163.4,274.8L165.1,278.0L166.5,281.4L167.8,284.8L168.9,288.4L169.9,292.0L170.6,295.8L171.2,299.5L171.6,303.4L171.8,307.2L171.8,311.0L171.6,314.9L171.3,318.7L170.7,322.5L170.0,326.2L169.0,329.9L167.9,333.5L166.7,336.9L165.2,340.3L163.6,343.5L161.8,346.6L159.9,349.6L157.9,352.4L155.7,355.0L153.4,357.4L150.9,359.6L148.4,361.6L145.8,363.5L143.0,365.0L140.3,366.4L137.4,367.5L134.5,368.4L131.6,369.1L128.6,369.5L125.6,369.6L122.7,369.6L119.7,369.2L116.7,368.7L113.8,367.8L111.0,366.8L108.2,365.5L105.4,364.0L112.0,266.0Z" fill="url(#i0)"/>
<path d="M156.8,266.0L158.9,268.7L160.8,271.6L162.5,274.7L164.1,277.9L165.6,281.2L166.9,284.6L168.0,288.2L168.9,291.8L169.7,295.5L170.2,299.3L170.6,303.0L170.8,306.9L170.9,310.7L170.7,314.5L170.3,318.3L169.8,322.1L169.1,325.8L168.2,329.4L167.1,333.0L165.8,336.4L164.4,339.8L162.9,343.0L161.1,346.1L159.2,349.0L157.2,351.8L155.1,354.4L152.8,356.8L150.4,359.0L147.9,361.0L145.4,362.8L142.7,364.4L140.0,365.8L137.2,366.9L134.3,367.8L131.4,368.4L128.5,368.8L125.6,369.0L122.7,368.9L119.8,368.6L116.9,368.0L114.0,367.2L111.2,366.2L108.4,364.9L105.7,363.4L112.0,266.0Z" fill="url(#i5)"/>
<path d="M156.0,266.0L158.0,268.7L159.9,271.6L161.6,274.6L163.2,277.8L164.6,281.1L165.9,284.5L167.0,288.0L167.9,291.6L168.7,295.2L169.3,299.0L169.7,302.7L169.9,306.5L169.9,310.3L169.7,314.1L169.4,317.9L168.9,321.6L168.2,325.3L167.3,328.9L166.2,332.5L165.0,335.9L163.6,339.2L162.1,342.4L160.4,345.5L158.6,348.4L156.6,351.2L154.5,353.8L152.3,356.2L149.9,358.4L147.5,360.4L145.0,362.2L142.3,363.7L139.7,365.1L136.9,366.2L134.1,367.1L131.3,367.8L128.4,368.2L125.6,368.3L122.7,368.3L119.8,367.9L117.0,367.4L114.2,366.6L111.4,365.5L108.7,364.3L106.1,362.8L112.0,266.0Z" fill="url(#i4)"/>
<path d="M154.6,266.0L156.5,268.7L158.4,271.5L160.1,274.5L161.6,277.6L163.0,280.8L164.3,284.2L165.3,287.6L166.3,291.2L167.0,294.8L167.6,298.5L168.0,302.2L168.2,305.9L168.2,309.7L168.1,313.4L167.8,317.2L167.3,320.9L166.6,324.5L165.8,328.1L164.8,331.6L163.6,335.0L162.3,338.3L160.8,341.5L159.2,344.5L157.4,347.4L155.5,350.1L153.5,352.7L151.3,355.1L149.1,357.3L146.7,359.3L144.2,361.1L141.7,362.6L139.1,364.0L136.5,365.1L133.8,366.0L131.0,366.6L128.3,367.0L125.5,367.2L122.7,367.1L119.9,366.8L117.2,366.3L114.5,365.5L111.8,364.4L109.2,363.2L106.6,361.7L112.0,266.0Z" fill="url(#i3)"/>
<path d="M152.0,266.0L153.8,268.6L155.6,271.3L157.2,274.2L158.7,277.2L160.1,280.3L161.3,283.6L162.3,287.0L163.2,290.4L163.9,293.9L164.5,297.5L164.9,301.2L165.1,304.8L165.2,308.5L165.1,312.2L164.8,315.8L164.4,319.4L163.8,323.0L163.0,326.5L162.1,330.0L161.0,333.3L159.8,336.6L158.4,339.7L156.9,342.7L155.3,345.5L153.5,348.2L151.6,350.7L149.6,353.1L147.5,355.3L145.3,357.2L143.0,359.0L140.6,360.5L138.2,361.9L135.7,363.0L133.1,363.8L130.6,364.5L128.0,364.9L125.4,365.1L122.7,365.0L120.1,364.7L117.6,364.2L115.0,363.4L112.5,362.4L110.0,361.2L107.6,359.7L112.0,266.0Z" fill="url(#i2)"/>
<path d="M150.2,266.0L152.0,268.5L153.7,271.1L155.3,274.0L156.7,276.9L158.1,280.0L159.2,283.2L160.2,286.5L161.1,289.9L161.8,293.3L162.4,296.9L162.8,300.4L163.1,304.0L163.1,307.7L163.1,311.3L162.8,314.9L162.4,318.5L161.9,322.0L161.2,325.5L160.3,328.8L159.3,332.2L158.1,335.4L156.8,338.4L155.4,341.4L153.8,344.2L152.1,346.9L150.3,349.4L148.4,351.7L146.4,353.8L144.3,355.8L142.1,357.5L139.8,359.1L137.5,360.4L135.1,361.5L132.7,362.4L130.2,363.0L127.8,363.4L125.3,363.6L122.8,363.6L120.3,363.3L117.8,362.7L115.4,362.0L113.0,361.0L110.6,359.8L108.3,358.4L112.0,266.0Z" fill="url(#i1)"/>
<path d="M147.8,266.0L149.5,268.4L151.1,271.0L152.6,273.7L154.0,276.5L155.2,279.5L156.4,282.6L157.4,285.8L158.2,289.1L158.9,292.5L159.5,295.9L159.9,299.4L160.1,302.9L160.2,306.5L160.2,310.0L160.0,313.5L159.7,317.0L159.2,320.5L158.5,323.9L157.7,327.2L156.8,330.5L155.7,333.6L154.5,336.6L153.2,339.6L151.7,342.3L150.2,345.0L148.5,347.4L146.7,349.7L144.8,351.8L142.9,353.7L140.8,355.5L138.7,357.0L136.6,358.3L134.3,359.4L132.1,360.3L129.8,360.9L127.5,361.3L125.1,361.5L122.8,361.5L120.5,361.2L118.1,360.7L115.9,359.9L113.6,359.0L111.4,357.8L109.3,356.4L112.0,266.0Z" fill="url(#i0)"/>
<path d="M147.0,266.0L148.7,268.4L150.3,270.9L151.8,273.6L153.1,276.4L154.4,279.3L155.5,282.4L156.5,285.6L157.3,288.9L158.0,292.2L158.6,295.6L159.0,299.1L159.3,302.6L159.4,306.1L159.3,309.6L159.1,313.1L158.8,316.6L158.3,320.0L157.7,323.4L156.9,326.7L156.0,329.9L155.0,333.1L153.8,336.1L152.5,339.0L151.1,341.7L149.6,344.4L147.9,346.8L146.2,349.1L144.4,351.2L142.5,353.1L140.5,354.8L138.4,356.3L136.3,357.6L134.1,358.7L131.9,359.6L129.6,360.2L127.4,360.7L125.1,360.9L122.8,360.8L120.5,360.5L118.2,360.0L116.0,359.3L113.8,358.4L111.6,357.2L109.5,355.8L112.0,266.0Z" fill="url(#i5)"/>
<path d="M146.3,266.0L148.0,268.3L149.5,270.8L151.0,273.5L152.3,276.3L153.5,279.2L154.6,282.2L155.6,285.4L156.4,288.6L157.1,291.9L157.7,295.3L158.1,298.8L158.4,302.2L158.5,305.7L158.5,309.2L158.3,312.7L158.0,316.1L157.5,319.6L156.9,322.9L156.2,326.2L155.3,329.4L154.3,332.5L153.1,335.5L151.9,338.4L150.5,341.2L149.0,343.8L147.4,346.2L145.7,348.5L143.9,350.6L142.0,352.5L140.1,354.2L138.1,355.7L136.0,357.0L133.9,358.1L131.7,359.0L129.5,359.6L127.3,360.0L125.0,360.2L122.8,360.2L120.6,359.9L118.3,359.4L116.2,358.7L114.0,357.7L111.9,356.6L109.8,355.2L112.0,266.0Z" fill="url(#i4)"/>
<path d="M145.0,266.0L146.6,268.3L148.2,270.7L149.6,273.3L150.9,276.1L152.1,278.9L153.2,281.9L154.1,285.0L154.9,288.2L155.6,291.5L156.2,294.8L156.6,298.2L156.9,301.6L157.0,305.1L157.0,308.5L156.8,311.9L156.5,315.4L156.1,318.7L155.5,322.1L154.8,325.3L154.0,328.5L153.0,331.6L151.9,334.6L150.7,337.4L149.4,340.1L148.0,342.7L146.5,345.1L144.8,347.4L143.1,349.5L141.3,351.4L139.4,353.1L137.5,354.6L135.5,355.9L133.4,357.0L131.4,357.8L129.2,358.5L127.1,358.9L124.9,359.1L122.8,359.0L120.6,358.8L118.5,358.3L116.4,357.6L114.3,356.7L112.3,355.5L110.3,354.2L112.0,266.0Z" fill="url(#i3)"/>
<path d="M142.7,266.0L144.3,268.2L145.7,270.5L147.1,273.0L148.3,275.6L149.5,278.4L150.5,281.3L151.4,284.3L152.2,287.4L152.9,290.6L153.4,293.8L153.8,297.1L154.1,300.5L154.3,303.8L154.3,307.2L154.2,310.6L153.9,313.9L153.5,317.2L153.0,320.5L152.4,323.7L151.6,326.8L150.8,329.8L149.8,332.8L148.7,335.6L147.5,338.2L146.1,340.8L144.7,343.2L143.2,345.4L141.6,347.5L140.0,349.3L138.2,351.0L136.4,352.5L134.6,353.8L132.7,354.8L130.7,355.7L128.8,356.3L126.8,356.8L124.8,357.0L122.8,357.0L120.8,356.7L118.8,356.2L116.8,355.6L114.9,354.7L113.0,353.5L111.2,352.2L112.0,266.0Z" fill="url(#i2)"/>
<path d="M141.2,266.0L142.7,268.1L144.1,270.4L145.4,272.8L146.6,275.4L147.7,278.1L148.7,280.9L149.6,283.8L150.3,286.8L151.0,290.0L151.5,293.1L151.9,296.4L152.2,299.7L152.4,303.0L152.4,306.3L152.4,309.6L152.1,312.9L151.8,316.2L151.3,319.4L150.8,322.5L150.1,325.6L149.2,328.6L148.3,331.5L147.3,334.3L146.1,336.9L144.9,339.4L143.6,341.8L142.1,344.0L140.6,346.0L139.1,347.9L137.4,349.6L135.7,351.0L134.0,352.3L132.2,353.4L130.3,354.2L128.5,354.9L126.6,355.3L124.7,355.5L122.8,355.5L120.9,355.3L119.0,354.8L117.1,354.2L115.3,353.3L113.5,352.2L111.8,350.9L112.0,266.0Z" fill="url(#i1)"/>
<path d="M139.1,266.0L140.5,268.0L141.8,270.2L143.0,272.5L144.1,274.9L145.2,277.5L146.1,280.3L147.0,283.1L147.7,286.0L148.4,289.0L148.9,292.1L149.3,295.3L149.6,298.5L149.8,301.7L149.9,304.9L149.8,308.2L149.6,311.4L149.3,314.6L148.9,317.8L148.4,320.9L147.8,323.9L147.1,326.8L146.2,329.7L145.3,332.4L144.2,335.0L143.1,337.5L141.9,339.8L140.6,342.0L139.2,344.0L137.8,345.8L136.3,347.5L134.7,349.0L133.1,350.2L131.4,351.3L129.7,352.1L128.0,352.8L126.3,353.2L124.5,353.4L122.8,353.4L121.0,353.2L119.3,352.8L117.5,352.1L115.9,351.3L114.2,350.2L112.6,348.9L112.0,266.0Z" fill="url(#i0)"/>
<path d="M138.4,266.0L139.8,268.0L141.1,270.1L142.3,272.4L143.4,274.8L144.4,277.4L145.4,280.1L146.2,282.9L146.9,285.8L147.6,288.8L148.1,291.8L148.5,294.9L148.8,298.1L149.0,301.3L149.1,304.5L149.0,307.7L148.9,310.9L148.6,314.1L148.2,317.3L147.7,320.3L147.1,323.3L146.4,326.3L145.6,329.1L144.7,331.8L143.7,334.4L142.6,336.9L141.4,339.2L140.1,341.4L138.8,343.4L137.4,345.2L135.9,346.9L134.4,348.3L132.8,349.6L131.2,350.6L129.5,351.5L127.9,352.1L126.2,352.6L124.5,352.8L122.7,352.8L121.0,352.6L119.3,352.2L117.7,351.5L116.0,350.7L114.4,349.6L112.8,348.3L112.0,266.0Z" fill="url(#i5)"/>
<path d="M137.8,266.0L139.1,267.9L140.4,270.0L141.6,272.3L142.7,274.7L143.7,277.2L144.6,279.9L145.4,282.6L146.2,285.5L146.8,288.5L147.3,291.5L147.7,294.6L148.0,297.7L148.2,300.9L148.3,304.1L148.3,307.3L148.1,310.5L147.9,313.6L147.5,316.8L147.0,319.8L146.4,322.8L145.8,325.7L145.0,328.5L144.1,331.2L143.1,333.8L142.0,336.3L140.9,338.6L139.7,340.8L138.4,342.8L137.0,344.6L135.6,346.2L134.1,347.7L132.5,348.9L131.0,350.0L129.4,350.9L127.7,351.5L126.1,351.9L124.4,352.2L122.7,352.2L121.1,351.9L119.4,351.5L117.8,350.9L116.2,350.0L114.6,349.0L113.1,347.7L112.0,266.0Z" fill="url(#i4)"/>
<path d="M136.7,266.0L138.0,267.9L139.2,269.9L140.4,272.1L141.4,274.4L142.4,276.9L143.3,279.5L144.1,282.2L144.8,285.1L145.4,288.0L146.0,291.0L146.4,294.0L146.7,297.1L146.9,300.2L147.0,303.4L146.9,306.5L146.8,309.7L146.6,312.8L146.3,315.9L145.8,318.9L145.3,321.9L144.6,324.7L143.9,327.5L143.0,330.2L142.1,332.8L141.1,335.2L140.0,337.5L138.9,339.7L137.6,341.7L136.3,343.5L134.9,345.1L133.5,346.6L132.1,347.8L130.6,348.9L129.0,349.7L127.5,350.4L125.9,350.8L124.3,351.0L122.7,351.0L121.1,350.8L119.5,350.4L118.0,349.8L116.4,349.0L114.9,347.9L113.5,346.7L112.0,266.0Z" fill="url(#i3)"/>
<path d="M134.7,266.0L135.9,267.8L137.1,269.7L138.2,271.8L139.2,274.0L140.1,276.3L140.9,278.8L141.7,281.5L142.4,284.2L143.0,287.0L143.5,289.9L143.9,292.8L144.2,295.9L144.4,298.9L144.5,302.0L144.5,305.1L144.5,308.1L144.3,311.2L144.0,314.2L143.6,317.2L143.1,320.1L142.6,322.9L141.9,325.7L141.2,328.3L140.3,330.8L139.4,333.3L138.4,335.5L137.4,337.6L136.3,339.6L135.1,341.4L133.8,343.0L132.5,344.5L131.2,345.7L129.8,346.8L128.4,347.6L127.0,348.3L125.6,348.7L124.1,349.0L122.7,349.0L121.2,348.8L119.8,348.4L118.3,347.8L116.9,347.0L115.6,346.0L114.2,344.8L112.0,266.0Z" fill="url(#i2)"/>
<path d="M133.4,266.0L134.6,267.7L135.7,269.5L136.7,271.5L137.6,273.7L138.5,275.9L139.4,278.4L140.1,280.9L140.8,283.6L141.3,286.3L141.8,289.1L142.2,292.0L142.6,295.0L142.8,298.0L142.9,301.0L142.9,304.0L142.9,307.0L142.7,310.1L142.5,313.0L142.1,316.0L141.7,318.8L141.2,321.6L140.6,324.4L139.9,327.0L139.1,329.5L138.3,331.9L137.4,334.1L136.4,336.2L135.3,338.2L134.2,340.0L133.1,341.6L131.9,343.0L130.6,344.3L129.3,345.3L128.0,346.2L126.7,346.8L125.4,347.3L124.0,347.5L122.6,347.6L121.3,347.4L119.9,347.0L118.6,346.4L117.2,345.6L116.0,344.6L114.7,343.4L112.0,266.0Z" fill="url(#i1)"/>
<path d="M131.6,266.0L132.7,267.5L133.7,269.3L134.6,271.1L135.5,273.2L136.4,275.3L137.1,277.7L137.8,280.1L138.5,282.6L139.0,285.3L139.5,288.0L139.9,290.8L140.2,293.7L140.4,296.6L140.6,299.5L140.7,302.5L140.6,305.4L140.5,308.4L140.3,311.3L140.0,314.2L139.7,317.0L139.2,319.8L138.7,322.4L138.1,325.0L137.4,327.5L136.7,329.9L135.8,332.1L135.0,334.2L134.0,336.1L133.0,337.9L132.0,339.5L130.9,340.9L129.8,342.2L128.6,343.2L127.5,344.1L126.3,344.7L125.0,345.2L123.8,345.5L122.6,345.5L121.3,345.3L120.1,345.0L118.9,344.4L117.7,343.6L116.5,342.7L115.4,341.5L112.0,266.0Z" fill="url(#i0)"/>
<path d="M131.1,266.0L132.1,267.5L133.1,269.2L134.0,271.0L134.9,273.0L135.7,275.1L136.5,277.4L137.2,279.8L137.8,282.3L138.3,284.9L138.8,287.6L139.2,290.4L139.5,293.3L139.7,296.1L139.9,299.1L140.0,302.0L139.9,304.9L139.8,307.8L139.7,310.8L139.4,313.6L139.0,316.4L138.6,319.2L138.1,321.8L137.5,324.4L136.9,326.9L136.2,329.2L135.4,331.5L134.5,333.5L133.6,335.5L132.7,337.2L131.7,338.8L130.6,340.3L129.5,341.5L128.4,342.6L127.3,343.4L126.1,344.1L124.9,344.6L123.7,344.8L122.5,344.9L121.3,344.7L120.2,344.4L119.0,343.8L117.8,343.0L116.7,342.1L115.6,340.9L112.0,266.0Z" fill="url(#i5)"/>
<path d="M130.5,266.0L131.5,267.5L132.5,269.1L133.4,270.9L134.3,272.8L135.1,274.9L135.8,277.2L136.5,279.6L137.1,282.0L137.6,284.6L138.1,287.3L138.5,290.0L138.8,292.8L139.1,295.7L139.2,298.6L139.3,301.5L139.3,304.4L139.2,307.3L139.0,310.2L138.8,313.1L138.4,315.8L138.0,318.6L137.6,321.2L137.0,323.8L136.4,326.3L135.7,328.6L134.9,330.8L134.1,332.9L133.2,334.8L132.3,336.6L131.4,338.2L130.3,339.6L129.3,340.9L128.2,341.9L127.1,342.8L126.0,343.5L124.8,343.9L123.7,344.2L122.5,344.2L121.4,344.1L120.2,343.7L119.1,343.2L117.9,342.4L116.8,341.5L115.8,340.4L112.0,266.0Z" fill="url(#i4)"/>
<path d="M129.6,266.0L130.6,267.4L131.5,268.9L132.4,270.7L133.2,272.6L134.0,274.6L134.7,276.8L135.3,279.1L135.9,281.5L136.5,284.0L136.9,286.6L137.3,289.3L137.6,292.1L137.9,294.9L138.0,297.7L138.1,300.6L138.1,303.5L138.0,306.4L137.9,309.2L137.7,312.0L137.4,314.8L137.0,317.5L136.6,320.2L136.1,322.7L135.5,325.2L134.8,327.5L134.1,329.7L133.4,331.8L132.6,333.7L131.7,335.5L130.8,337.1L129.8,338.5L128.9,339.7L127.8,340.8L126.8,341.7L125.7,342.3L124.7,342.8L123.6,343.1L122.5,343.1L121.4,343.0L120.3,342.7L119.2,342.1L118.2,341.4L117.1,340.5L116.1,339.3L112.0,266.0Z" fill="url(#i3)"/>
<path d="M128.0,266.0L128.8,267.2L129.7,268.6L130.5,270.2L131.2,272.0L132.0,273.9L132.6,275.9L133.2,278.1L133.8,280.4L134.3,282.8L134.8,285.3L135.1,287.9L135.4,290.6L135.7,293.3L135.9,296.1L136.0,298.9L136.0,301.7L136.0,304.5L135.9,307.3L135.7,310.1L135.5,312.8L135.2,315.5L134.8,318.1L134.4,320.6L133.9,323.1L133.3,325.4L132.7,327.6L132.0,329.6L131.3,331.5L130.6,333.3L129.8,334.9L128.9,336.3L128.1,337.6L127.2,338.7L126.2,339.6L125.3,340.2L124.3,340.7L123.4,341.0L122.4,341.1L121.4,341.0L120.4,340.7L119.5,340.1L118.5,339.4L117.6,338.5L116.7,337.4L112.0,266.0Z" fill="url(#i2)"/>
<path d="M126.8,266.0L127.7,267.1L128.5,268.4L129.2,269.9L129.9,271.5L130.6,273.3L131.2,275.3L131.8,277.4L132.4,279.6L132.9,281.9L133.3,284.3L133.7,286.9L134.0,289.5L134.2,292.1L134.4,294.9L134.5,297.6L134.6,300.4L134.6,303.2L134.5,305.9L134.4,308.7L134.2,311.4L133.9,314.0L133.6,316.6L133.2,319.1L132.8,321.5L132.3,323.9L131.7,326.0L131.1,328.1L130.5,330.0L129.8,331.8L129.1,333.4L128.3,334.8L127.5,336.1L126.7,337.2L125.8,338.1L125.0,338.8L124.1,339.3L123.2,339.6L122.3,339.7L121.4,339.6L120.5,339.3L119.7,338.8L118.8,338.1L117.9,337.2L117.1,336.1L112.0,266.0Z" fill="url(#i1)"/>
<path d="M125.3,266.0L126.0,266.9L126.7,268.0L127.4,269.3L128.1,270.8L128.7,272.4L129.3,274.2L129.9,276.2L130.4,278.2L130.8,280.4L131.2,282.7L131.6,285.2L131.9,287.7L132.2,290.2L132.4,292.9L132.5,295.6L132.6,298.3L132.6,301.0L132.6,303.7L132.5,306.4L132.4,309.1L132.2,311.7L131.9,314.3L131.6,316.8L131.2,319.2L130.8,321.5L130.4,323.7L129.9,325.8L129.3,327.7L128.7,329.5L128.1,331.2L127.4,332.6L126.7,333.9L126.0,335.0L125.3,336.0L124.5,336.7L123.8,337.2L123.0,337.5L122.2,337.7L121.4,337.6L120.7,337.3L119.9,336.8L119.1,336.2L118.4,335.3L117.7,334.2L112.0,266.0Z" fill="url(#i0)"/>
<path d="M124.8,266.0L125.5,266.9L126.2,267.9L126.9,269.1L127.5,270.5L128.1,272.1L128.7,273.8L129.3,275.7L129.8,277.7L130.2,279.9L130.6,282.2L131.0,284.6L131.3,287.0L131.5,289.6L131.7,292.2L131.9,294.8L132.0,297.5L132.0,300.2L132.0,303.0L131.9,305.7L131.8,308.3L131.6,311.0L131.4,313.5L131.1,316.0L130.8,318.5L130.4,320.8L129.9,323.0L129.5,325.1L128.9,327.0L128.4,328.8L127.8,330.5L127.2,331.9L126.5,333.2L125.8,334.4L125.1,335.3L124.4,336.0L123.7,336.6L122.9,336.9L122.2,337.0L121.4,337.0L120.7,336.7L120.0,336.2L119.2,335.6L118.5,334.7L117.8,333.6L112.0,266.0Z" fill="url(#i5)"/>
<path d="M124.3,266.0L125.0,266.8L125.7,267.7L126.3,268.9L127.0,270.2L127.6,271.7L128.1,273.4L128.7,275.2L129.1,277.2L129.6,279.3L130.0,281.6L130.3,283.9L130.7,286.3L130.9,288.8L131.1,291.4L131.3,294.1L131.4,296.7L131.4,299.4L131.4,302.1L131.4,304.8L131.3,307.5L131.1,310.1L130.9,312.7L130.6,315.2L130.3,317.6L130.0,320.0L129.5,322.2L129.1,324.3L128.6,326.3L128.1,328.1L127.5,329.7L126.9,331.2L126.3,332.5L125.6,333.7L125.0,334.6L124.3,335.4L123.6,335.9L122.9,336.3L122.2,336.4L121.4,336.4L120.7,336.1L120.0,335.6L119.3,335.0L118.6,334.1L118.0,333.1L112.0,266.0Z" fill="url(#i4)"/>
<path d="M123.5,266.0L124.1,266.6L124.7,267.4L125.4,268.4L126.0,269.6L126.5,271.0L127.1,272.5L127.6,274.2L128.0,276.1L128.5,278.1L128.9,280.2L129.2,282.5L129.6,284.9L129.8,287.3L130.1,289.9L130.2,292.5L130.3,295.1L130.4,297.8L130.4,300.5L130.4,303.2L130.3,305.9L130.2,308.5L130.0,311.1L129.8,313.6L129.5,316.1L129.2,318.4L128.9,320.7L128.4,322.8L128.0,324.8L127.5,326.7L127.0,328.4L126.5,329.9L125.9,331.2L125.3,332.4L124.7,333.4L124.1,334.2L123.4,334.8L122.8,335.1L122.1,335.3L121.4,335.3L120.8,335.0L120.1,334.6L119.5,334.0L118.9,333.1L118.3,332.1L112.0,266.0Z" fill="url(#i3)"/>
<path d="M121.7,266.3L122.2,266.5L122.8,266.8L123.4,267.3L123.9,268.1L124.4,269.1L124.9,270.3L125.4,271.6L125.9,273.2L126.3,274.9L126.7,276.8L127.1,278.9L127.4,281.1L127.7,283.4L128.0,285.8L128.2,288.3L128.4,290.9L128.5,293.6L128.6,296.3L128.6,299.0L128.6,301.7L128.6,304.4L128.5,307.1L128.3,309.7L128.1,312.3L127.9,314.8L127.6,317.2L127.3,319.4L127.0,321.6L126.6,323.6L126.2,325.4L125.7,327.1L125.3,328.6L124.8,329.9L124.2,331.0L123.7,331.9L123.2,332.6L122.6,333.0L122.0,333.3L121.5,333.3L120.9,333.1L120.3,332.7L119.8,332.1L119.3,331.2L118.7,330.2L112.0,266.0Z" fill="url(#i2)"/>
<path d="M121.5,267.0L122.0,267.1L122.5,267.4L123.0,268.0L123.4,268.7L123.9,269.7L124.3,270.8L124.7,272.1L125.1,273.6L125.5,275.3L125.8,277.2L126.1,279.2L126.4,281.3L126.7,283.5L126.9,285.9L127.1,288.3L127.2,290.8L127.3,293.4L127.4,296.0L127.4,298.6L127.4,301.3L127.4,303.9L127.3,306.5L127.2,309.1L127.0,311.5L126.8,313.9L126.6,316.3L126.3,318.5L126.0,320.5L125.7,322.5L125.3,324.3L125.0,325.9L124.6,327.3L124.1,328.6L123.7,329.7L123.3,330.5L122.8,331.2L122.3,331.7L121.8,331.9L121.4,331.9L120.9,331.7L120.4,331.3L119.9,330.7L119.5,329.9L119.0,328.9L112.0,266.0Z" fill="url(#i1)"/>
<path d="M121.3,268.0L121.7,268.1L122.0,268.4L122.4,268.9L122.7,269.6L123.1,270.5L123.4,271.6L123.7,272.9L124.0,274.3L124.3,275.9L124.5,277.7L124.8,279.6L125.0,281.6L125.2,283.7L125.4,286.0L125.5,288.3L125.6,290.7L125.7,293.1L125.7,295.6L125.8,298.2L125.8,300.7L125.7,303.2L125.7,305.7L125.6,308.1L125.4,310.5L125.3,312.8L125.1,315.0L124.9,317.1L124.7,319.1L124.5,320.9L124.2,322.6L123.9,324.2L123.6,325.5L123.3,326.7L123.0,327.8L122.6,328.6L122.3,329.2L121.9,329.7L121.6,329.9L121.2,329.9L120.8,329.8L120.5,329.4L120.1,328.8L119.8,328.0L119.4,327.0L112.0,266.0Z" fill="url(#i0)"/>
<path d="M121.3,268.3L121.6,268.4L121.9,268.7L122.2,269.2L122.5,269.9L122.8,270.7L123.1,271.8L123.4,273.1L123.7,274.5L123.9,276.1L124.2,277.8L124.4,279.7L124.6,281.7L124.7,283.8L124.9,286.0L125.0,288.3L125.1,290.7L125.2,293.1L125.2,295.5L125.3,298.0L125.3,300.5L125.2,303.0L125.2,305.4L125.1,307.8L125.0,310.1L124.8,312.4L124.7,314.6L124.5,316.7L124.3,318.6L124.1,320.4L123.8,322.1L123.6,323.6L123.3,325.0L123.0,326.2L122.7,327.2L122.4,328.0L122.1,328.6L121.8,329.1L121.5,329.3L121.1,329.3L120.8,329.1L120.5,328.8L120.2,328.2L119.9,327.4L119.6,326.5L112.0,266.0Z" fill="url(#i5)"/>
<path d="M121.2,268.5L121.5,268.6L121.8,268.9L122.1,269.4L122.3,270.1L122.6,271.0L122.9,272.1L123.1,273.3L123.4,274.7L123.6,276.3L123.8,278.0L124.0,279.8L124.2,281.8L124.3,283.9L124.4,286.0L124.6,288.3L124.6,290.6L124.7,293.0L124.8,295.4L124.8,297.9L124.8,300.3L124.7,302.7L124.7,305.1L124.6,307.5L124.5,309.8L124.4,312.0L124.3,314.2L124.1,316.2L123.9,318.2L123.7,319.9L123.5,321.6L123.3,323.1L123.0,324.4L122.8,325.6L122.5,326.6L122.2,327.4L122.0,328.0L121.7,328.5L121.4,328.7L121.1,328.7L120.8,328.5L120.5,328.2L120.2,327.6L120.0,326.8L119.7,325.9L112.0,266.0Z" fill="url(#i4)"/>
<path d="M121.1,269.1L121.3,269.2L121.5,269.4L121.8,269.9L122.0,270.6L122.2,271.4L122.4,272.5L122.6,273.7L122.8,275.0L123.0,276.6L123.2,278.2L123.3,280.0L123.4,281.9L123.6,284.0L123.7,286.1L123.8,288.3L123.8,290.5L123.9,292.9L123.9,295.2L123.9,297.6L123.9,300.0L123.9,302.4L123.9,304.7L123.8,307.0L123.7,309.2L123.6,311.4L123.5,313.5L123.4,315.5L123.2,317.4L123.1,319.1L122.9,320.7L122.7,322.2L122.5,323.5L122.3,324.6L122.1,325.6L121.9,326.4L121.7,327.0L121.5,327.4L121.2,327.6L121.0,327.6L120.8,327.5L120.5,327.1L120.3,326.6L120.1,325.8L119.9,324.9L112.0,266.0Z" fill="url(#i3)"/>
<path d="M120.9,270.0L121.0,270.1L121.1,270.4L121.3,270.8L121.4,271.5L121.5,272.3L121.6,273.3L121.7,274.4L121.8,275.7L121.9,277.1L122.0,278.7L122.1,280.4L122.2,282.2L122.2,284.2L122.3,286.2L122.3,288.3L122.4,290.4L122.4,292.6L122.4,294.9L122.4,297.1L122.4,299.4L122.4,301.6L122.4,303.9L122.4,306.1L122.3,308.2L122.3,310.3L122.2,312.2L122.1,314.1L122.1,315.9L122.0,317.6L121.9,319.1L121.8,320.5L121.7,321.7L121.6,322.8L121.4,323.7L121.3,324.5L121.2,325.0L121.1,325.4L121.0,325.6L120.8,325.7L120.7,325.5L120.6,325.2L120.5,324.6L120.3,323.9L120.2,323.1L112.0,266.0Z" fill="url(#i2)"/>
<path d="M120.7,270.7L120.8,270.7L120.9,271.0L121.0,271.4L121.1,272.1L121.1,272.8L121.2,273.8L121.3,274.9L121.3,276.1L121.4,277.5L121.5,279.0L121.5,280.7L121.6,282.4L121.6,284.3L121.6,286.2L121.7,288.3L121.7,290.3L121.7,292.5L121.7,294.6L121.7,296.8L121.7,299.0L121.7,301.1L121.7,303.3L121.7,305.4L121.7,307.5L121.6,309.4L121.6,311.4L121.5,313.2L121.5,314.9L121.4,316.5L121.4,318.0L121.3,319.3L121.2,320.5L121.2,321.5L121.1,322.4L121.0,323.2L120.9,323.7L120.9,324.1L120.8,324.3L120.7,324.3L120.6,324.1L120.5,323.8L120.5,323.3L120.4,322.6L120.3,321.8L112.0,266.0Z" fill="url(#i1)"/>
<path d="M120.5,271.6L120.6,271.7L120.7,271.9L120.8,272.3L120.8,272.9L120.9,273.7L121.0,274.6L121.1,275.6L121.1,276.8L121.2,278.1L121.2,279.5L121.3,281.1L121.4,282.7L121.4,284.5L121.4,286.3L121.5,288.2L121.5,290.2L121.5,292.2L121.5,294.3L121.5,296.3L121.5,298.4L121.5,300.4L121.5,302.5L121.5,304.5L121.5,306.4L121.4,308.3L121.4,310.1L121.3,311.8L121.3,313.4L121.2,315.0L121.2,316.4L121.1,317.6L121.0,318.8L121.0,319.7L120.9,320.6L120.8,321.3L120.7,321.8L120.7,322.1L120.6,322.3L120.5,322.3L120.4,322.2L120.3,321.9L120.3,321.4L120.2,320.8L120.1,320.0L112.0,266.0Z" fill="url(#i0)"/>
<path d="M120.5,271.9L120.5,272.0L120.6,272.2L120.7,272.6L120.8,273.2L120.9,273.9L120.9,274.8L121.0,275.8L121.1,277.0L121.1,278.3L121.2,279.7L121.2,281.2L121.3,282.8L121.3,284.6L121.4,286.4L121.4,288.2L121.4,290.2L121.4,292.1L121.5,294.1L121.5,296.2L121.5,298.2L121.4,300.2L121.4,302.2L121.4,304.2L121.4,306.1L121.4,307.9L121.3,309.7L121.3,311.4L121.2,313.0L121.2,314.5L121.1,315.9L121.0,317.1L121.0,318.2L120.9,319.2L120.8,320.0L120.7,320.7L120.7,321.2L120.6,321.5L120.5,321.7L120.4,321.7L120.3,321.6L120.3,321.3L120.2,320.8L120.1,320.2L120.0,319.4L112.0,266.0Z" fill="url(#i5)"/>
<path d="M120.4,272.2L120.5,272.2L120.6,272.5L120.6,272.9L120.7,273.4L120.8,274.2L120.9,275.0L120.9,276.0L121.0,277.2L121.1,278.4L121.1,279.8L121.2,281.3L121.2,282.9L121.3,284.6L121.3,286.4L121.3,288.2L121.4,290.1L121.4,292.1L121.4,294.0L121.4,296.0L121.4,298.0L121.4,300.0L121.4,302.0L121.3,303.9L121.3,305.8L121.3,307.6L121.2,309.3L121.2,311.0L121.2,312.6L121.1,314.0L121.0,315.4L121.0,316.6L120.9,317.7L120.8,318.6L120.8,319.4L120.7,320.1L120.6,320.6L120.5,320.9L120.4,321.1L120.4,321.1L120.3,321.0L120.2,320.7L120.1,320.2L120.0,319.6L120.0,318.9L112.0,266.0Z" fill="url(#i4)"/>
<path d="M120.3,272.7L120.4,272.7L120.4,273.0L120.5,273.4L120.6,273.9L120.7,274.6L120.7,275.4L120.8,276.4L120.9,277.5L120.9,278.7L121.0,280.1L121.1,281.5L121.1,283.1L121.1,284.7L121.2,286.4L121.2,288.2L121.2,290.1L121.3,291.9L121.3,293.9L121.3,295.8L121.3,297.7L121.3,299.6L121.3,301.5L121.2,303.4L121.2,305.2L121.2,307.0L121.1,308.7L121.1,310.3L121.0,311.8L121.0,313.2L120.9,314.5L120.9,315.7L120.8,316.7L120.7,317.7L120.6,318.4L120.6,319.1L120.5,319.6L120.4,319.9L120.3,320.1L120.2,320.1L120.2,320.0L120.1,319.7L120.0,319.2L119.9,318.6L119.9,317.9L112.0,266.0Z" fill="url(#i3)"/>
<path d="M120.1,273.6L120.1,273.7L120.2,273.9L120.3,274.2L120.4,274.8L120.5,275.4L120.5,276.2L120.6,277.1L120.7,278.1L120.7,279.3L120.8,280.6L120.8,281.9L120.9,283.4L120.9,284.9L121.0,286.5L121.0,288.2L121.0,289.9L121.0,291.7L121.1,293.5L121.1,295.3L121.1,297.1L121.1,298.9L121.0,300.7L121.0,302.5L121.0,304.2L121.0,305.8L120.9,307.4L120.9,308.9L120.8,310.3L120.8,311.7L120.7,312.9L120.6,314.0L120.6,315.0L120.5,315.9L120.4,316.6L120.4,317.2L120.3,317.7L120.2,318.0L120.1,318.2L120.0,318.2L120.0,318.0L119.9,317.8L119.8,317.3L119.7,316.8L119.6,316.1L112.0,266.0Z" fill="url(#i2)"/>
<path d="M119.9,274.2L120.0,274.3L120.1,274.5L120.2,274.9L120.2,275.3L120.3,276.0L120.4,276.7L120.5,277.6L120.5,278.6L120.6,279.7L120.6,280.9L120.7,282.2L120.7,283.6L120.8,285.1L120.8,286.6L120.9,288.2L120.9,289.9L120.9,291.5L120.9,293.3L120.9,295.0L120.9,296.7L120.9,298.4L120.9,300.1L120.9,301.8L120.8,303.5L120.8,305.0L120.8,306.6L120.7,308.0L120.7,309.4L120.6,310.6L120.6,311.8L120.5,312.9L120.4,313.8L120.4,314.7L120.3,315.4L120.2,315.9L120.1,316.4L120.0,316.7L120.0,316.8L119.9,316.8L119.8,316.7L119.7,316.5L119.6,316.1L119.6,315.5L119.5,314.9L112.0,266.0Z" fill="url(#i1)"/>
<path d="M119.7,275.1L119.8,275.2L119.9,275.4L119.9,275.7L120.0,276.2L120.1,276.8L120.2,277.5L120.2,278.3L120.3,279.2L120.4,280.2L120.4,281.4L120.5,282.6L120.5,283.9L120.6,285.3L120.6,286.7L120.6,288.2L120.7,289.7L120.7,291.3L120.7,292.9L120.7,294.5L120.7,296.1L120.7,297.7L120.7,299.3L120.7,300.9L120.6,302.4L120.6,303.9L120.6,305.3L120.5,306.7L120.5,307.9L120.4,309.1L120.3,310.2L120.3,311.2L120.2,312.1L120.1,312.9L120.1,313.5L120.0,314.1L119.9,314.5L119.8,314.8L119.8,314.9L119.7,314.9L119.6,314.8L119.5,314.6L119.4,314.2L119.4,313.7L119.3,313.1L112.0,266.0Z" fill="url(#i0)"/>
<path d="M119.6,275.4L119.7,275.5L119.8,275.7L119.9,276.0L120.0,276.4L120.0,277.0L120.1,277.7L120.2,278.5L120.2,279.4L120.3,280.4L120.4,281.5L120.4,282.7L120.5,284.0L120.5,285.3L120.5,286.7L120.6,288.2L120.6,289.7L120.6,291.2L120.6,292.8L120.6,294.4L120.6,296.0L120.6,297.5L120.6,299.1L120.6,300.6L120.6,302.1L120.5,303.6L120.5,304.9L120.4,306.3L120.4,307.5L120.3,308.7L120.3,309.7L120.2,310.7L120.1,311.6L120.1,312.3L120.0,313.0L119.9,313.5L119.8,313.9L119.8,314.2L119.7,314.3L119.6,314.3L119.5,314.2L119.4,314.0L119.4,313.6L119.3,313.1L119.2,312.5L112.0,266.0Z" fill="url(#i5)"/>
<path d="M119.6,275.7L119.7,275.8L119.7,275.9L119.8,276.3L119.9,276.7L120.0,277.2L120.0,277.9L120.1,278.7L120.2,279.6L120.2,280.6L120.3,281.6L120.3,282.8L120.4,284.1L120.4,285.4L120.5,286.8L120.5,288.2L120.5,289.7L120.6,291.2L120.6,292.7L120.6,294.2L120.6,295.8L120.6,297.3L120.5,298.8L120.5,300.3L120.5,301.8L120.5,303.2L120.4,304.6L120.4,305.9L120.3,307.1L120.3,308.2L120.2,309.3L120.2,310.2L120.1,311.1L120.0,311.8L119.9,312.4L119.9,312.9L119.8,313.3L119.7,313.6L119.6,313.7L119.5,313.8L119.5,313.6L119.4,313.4L119.3,313.1L119.2,312.6L119.1,312.0L112.0,266.0Z" fill="url(#i4)"/>
<path d="M119.5,276.2L119.5,276.2L119.6,276.4L119.7,276.7L119.8,277.1L119.8,277.7L119.9,278.3L120.0,279.1L120.1,279.9L120.1,280.9L120.2,281.9L120.2,283.0L120.3,284.2L120.3,285.5L120.4,286.8L120.4,288.2L120.4,289.6L120.4,291.0L120.4,292.5L120.5,294.0L120.5,295.5L120.4,297.0L120.4,298.4L120.4,299.9L120.4,301.3L120.3,302.6L120.3,303.9L120.3,305.2L120.2,306.3L120.2,307.4L120.1,308.4L120.0,309.3L120.0,310.2L119.9,310.9L119.8,311.5L119.7,312.0L119.7,312.3L119.6,312.6L119.5,312.7L119.4,312.7L119.3,312.6L119.3,312.4L119.2,312.1L119.1,311.6L119.0,311.0L112.0,266.0Z" fill="url(#i3)"/>
<path d="M119.2,277.1L119.3,277.1L119.4,277.3L119.5,277.6L119.6,278.0L119.6,278.5L119.7,279.0L119.8,279.7L119.8,280.5L119.9,281.4L120.0,282.4L120.0,283.4L120.1,284.5L120.1,285.7L120.1,286.9L120.2,288.2L120.2,289.5L120.2,290.8L120.2,292.2L120.2,293.5L120.2,294.9L120.2,296.3L120.2,297.6L120.2,299.0L120.2,300.3L120.1,301.5L120.1,302.7L120.0,303.9L120.0,304.9L119.9,305.9L119.9,306.9L119.8,307.7L119.7,308.5L119.7,309.1L119.6,309.7L119.5,310.1L119.4,310.5L119.4,310.7L119.3,310.8L119.2,310.9L119.1,310.8L119.0,310.6L119.0,310.2L118.9,309.8L118.8,309.3L112.0,266.0Z" fill="url(#i2)"/>
<path d="M119.1,277.7L119.2,277.7L119.2,277.9L119.3,278.2L119.4,278.5L119.5,279.0L119.6,279.6L119.6,280.2L119.7,281.0L119.8,281.8L119.8,282.7L119.9,283.7L119.9,284.7L120.0,285.8L120.0,287.0L120.0,288.2L120.0,289.4L120.1,290.6L120.1,291.9L120.1,293.2L120.1,294.5L120.1,295.8L120.1,297.1L120.0,298.3L120.0,299.6L120.0,300.7L119.9,301.9L119.9,303.0L119.8,304.0L119.8,304.9L119.7,305.8L119.7,306.6L119.6,307.3L119.5,307.9L119.4,308.5L119.4,308.9L119.3,309.2L119.2,309.4L119.1,309.5L119.1,309.6L119.0,309.5L118.9,309.3L118.8,309.0L118.7,308.6L118.7,308.1L112.0,266.0Z" fill="url(#i1)"/>
<path d="M118.9,278.6L118.9,278.6L119.0,278.8L119.1,279.0L119.2,279.3L119.3,279.8L119.3,280.3L119.4,280.9L119.5,281.6L119.5,282.3L119.6,283.1L119.6,284.0L119.7,285.0L119.7,286.0L119.8,287.0L119.8,288.1L119.8,289.3L119.8,290.4L119.9,291.6L119.9,292.8L119.9,294.0L119.9,295.1L119.8,296.3L119.8,297.4L119.8,298.6L119.8,299.6L119.7,300.7L119.7,301.7L119.6,302.6L119.6,303.5L119.5,304.3L119.4,305.0L119.4,305.6L119.3,306.2L119.2,306.7L119.2,307.1L119.1,307.4L119.0,307.6L118.9,307.7L118.8,307.7L118.8,307.6L118.7,307.4L118.6,307.2L118.5,306.8L118.4,306.4L112.0,266.0Z" fill="url(#i0)"/>
<path d="M118.8,278.9L118.9,278.9L119.0,279.0L119.0,279.3L119.1,279.6L119.2,280.0L119.3,280.5L119.3,281.1L119.4,281.7L119.5,282.5L119.5,283.3L119.6,284.1L119.6,285.1L119.7,286.0L119.7,287.1L119.7,288.1L119.8,289.2L119.8,290.4L119.8,291.5L119.8,292.6L119.8,293.8L119.8,294.9L119.8,296.1L119.7,297.2L119.7,298.3L119.7,299.3L119.6,300.3L119.6,301.3L119.6,302.2L119.5,303.0L119.4,303.8L119.4,304.5L119.3,305.1L119.2,305.7L119.2,306.2L119.1,306.5L119.0,306.8L118.9,307.0L118.8,307.1L118.8,307.1L118.7,307.1L118.6,306.9L118.5,306.6L118.4,306.3L118.4,305.8L112.0,266.0Z" fill="url(#i5)"/>
<path d="M118.7,279.1L118.8,279.2L118.9,279.3L119.0,279.5L119.0,279.8L119.1,280.2L119.2,280.7L119.3,281.3L119.3,281.9L119.4,282.6L119.5,283.4L119.5,284.3L119.6,285.2L119.6,286.1L119.6,287.1L119.7,288.1L119.7,289.2L119.7,290.3L119.7,291.4L119.7,292.5L119.7,293.6L119.7,294.7L119.7,295.8L119.7,296.9L119.7,298.0L119.6,299.0L119.6,300.0L119.5,300.9L119.5,301.8L119.4,302.6L119.4,303.3L119.3,304.0L119.2,304.6L119.2,305.2L119.1,305.6L119.0,306.0L118.9,306.3L118.9,306.5L118.8,306.6L118.7,306.6L118.6,306.5L118.5,306.3L118.5,306.1L118.4,305.7L118.3,305.3L112.0,266.0Z" fill="url(#i4)"/>
<path d="M118.6,279.6L118.7,279.6L118.8,279.8L118.8,280.0L118.9,280.3L119.0,280.7L119.1,281.1L119.1,281.6L119.2,282.3L119.3,282.9L119.3,283.7L119.4,284.5L119.4,285.3L119.5,286.2L119.5,287.1L119.5,288.1L119.6,289.1L119.6,290.2L119.6,291.2L119.6,292.3L119.6,293.3L119.6,294.4L119.6,295.4L119.6,296.4L119.5,297.4L119.5,298.4L119.5,299.3L119.4,300.2L119.4,301.0L119.3,301.8L119.2,302.5L119.2,303.2L119.1,303.7L119.0,304.3L119.0,304.7L118.9,305.0L118.8,305.3L118.7,305.5L118.7,305.6L118.6,305.6L118.5,305.5L118.4,305.4L118.3,305.1L118.3,304.8L118.2,304.4L112.0,266.0Z" fill="url(#i3)"/>
<path d="M118.4,280.5L118.5,280.5L118.5,280.6L118.6,280.8L118.7,281.1L118.8,281.4L118.8,281.8L118.9,282.3L119.0,282.8L119.0,283.4L119.1,284.1L119.2,284.8L119.2,285.6L119.2,286.4L119.3,287.2L119.3,288.1L119.3,289.0L119.4,289.9L119.4,290.9L119.4,291.8L119.4,292.8L119.4,293.7L119.4,294.6L119.3,295.6L119.3,296.5L119.3,297.3L119.2,298.1L119.2,298.9L119.1,299.7L119.1,300.4L119.0,301.0L119.0,301.6L118.9,302.1L118.8,302.6L118.7,303.0L118.7,303.3L118.6,303.5L118.5,303.7L118.4,303.8L118.3,303.8L118.3,303.7L118.2,303.6L118.1,303.3L118.0,303.1L118.0,302.7L112.0,266.0Z" fill="url(#i2)"/>
<path d="M118.2,281.1L118.3,281.1L118.4,281.2L118.5,281.4L118.5,281.6L118.6,281.9L118.7,282.3L118.8,282.8L118.8,283.3L118.9,283.8L118.9,284.4L119.0,285.1L119.0,285.8L119.1,286.5L119.1,287.3L119.2,288.1L119.2,288.9L119.2,289.8L119.2,290.6L119.2,291.5L119.2,292.4L119.2,293.3L119.2,294.1L119.2,295.0L119.1,295.8L119.1,296.6L119.1,297.3L119.0,298.1L119.0,298.8L118.9,299.4L118.9,300.0L118.8,300.5L118.7,301.0L118.7,301.4L118.6,301.8L118.5,302.1L118.4,302.3L118.4,302.4L118.3,302.5L118.2,302.5L118.1,302.5L118.0,302.3L118.0,302.1L117.9,301.9L117.8,301.5L112.0,266.0Z" fill="url(#i1)"/>
<path d="M118.0,281.9L118.1,281.9L118.2,282.0L118.2,282.2L118.3,282.4L118.4,282.7L118.5,283.0L118.5,283.4L118.6,283.8L118.7,284.3L118.7,284.9L118.8,285.4L118.8,286.0L118.9,286.7L118.9,287.4L118.9,288.1L119.0,288.8L119.0,289.6L119.0,290.3L119.0,291.1L119.0,291.9L119.0,292.6L119.0,293.4L118.9,294.1L118.9,294.8L118.9,295.5L118.8,296.2L118.8,296.8L118.8,297.4L118.7,298.0L118.6,298.5L118.6,299.0L118.5,299.4L118.4,299.8L118.4,300.1L118.3,300.3L118.2,300.5L118.1,300.7L118.0,300.7L118.0,300.7L117.9,300.7L117.8,300.6L117.7,300.4L117.6,300.2L117.6,299.9L112.0,266.0Z" fill="url(#i0)"/>
<path d="M117.9,282.2L118.0,282.2L118.1,282.3L118.2,282.4L118.2,282.6L118.3,282.9L118.4,283.2L118.5,283.6L118.5,284.0L118.6,284.5L118.6,285.0L118.7,285.5L118.7,286.1L118.8,286.8L118.8,287.4L118.9,288.1L118.9,288.8L118.9,289.5L118.9,290.2L118.9,291.0L118.9,291.7L118.9,292.4L118.9,293.1L118.9,293.8L118.8,294.5L118.8,295.2L118.8,295.9L118.7,296.5L118.7,297.0L118.6,297.6L118.6,298.1L118.5,298.5L118.4,298.9L118.4,299.3L118.3,299.6L118.2,299.8L118.1,300.0L118.1,300.1L118.0,300.2L117.9,300.2L117.8,300.2L117.7,300.0L117.7,299.9L117.6,299.6L117.5,299.4L112.0,266.0Z" fill="url(#i5)"/>
<path d="M117.8,282.4L117.9,282.5L118.0,282.5L118.1,282.7L118.2,282.9L118.2,283.1L118.3,283.4L118.4,283.8L118.5,284.2L118.5,284.6L118.6,285.1L118.6,285.7L118.7,286.2L118.7,286.8L118.8,287.4L118.8,288.1L118.8,288.7L118.8,289.4L118.8,290.1L118.8,290.8L118.8,291.5L118.8,292.2L118.8,292.9L118.8,293.6L118.8,294.3L118.7,294.9L118.7,295.5L118.7,296.1L118.6,296.6L118.6,297.2L118.5,297.6L118.4,298.1L118.4,298.4L118.3,298.8L118.2,299.1L118.1,299.3L118.1,299.5L118.0,299.6L117.9,299.7L117.8,299.7L117.7,299.6L117.7,299.5L117.6,299.3L117.5,299.1L117.4,298.9L112.0,266.0Z" fill="url(#i4)"/>
<path d="M117.7,282.9L117.8,282.9L117.9,283.0L118.0,283.1L118.0,283.3L118.1,283.5L118.2,283.8L118.3,284.1L118.3,284.5L118.4,284.9L118.5,285.4L118.5,285.8L118.6,286.4L118.6,286.9L118.6,287.5L118.7,288.1L118.7,288.7L118.7,289.3L118.7,290.0L118.7,290.6L118.7,291.2L118.7,291.9L118.7,292.5L118.7,293.1L118.7,293.7L118.6,294.3L118.6,294.9L118.5,295.4L118.5,295.9L118.4,296.4L118.4,296.9L118.3,297.2L118.2,297.6L118.2,297.9L118.1,298.2L118.0,298.4L117.9,298.5L117.9,298.7L117.8,298.7L117.7,298.7L117.6,298.7L117.5,298.6L117.5,298.4L117.4,298.2L117.3,298.0L112.0,266.0Z" fill="url(#i3)"/>
<path d="M117.5,283.7L117.6,283.7L117.7,283.8L117.7,283.9L117.8,284.0L117.9,284.2L118.0,284.5L118.0,284.7L118.1,285.1L118.2,285.4L118.2,285.8L118.3,286.2L118.3,286.6L118.4,287.1L118.4,287.6L118.4,288.1L118.5,288.6L118.5,289.1L118.5,289.6L118.5,290.2L118.5,290.7L118.5,291.3L118.5,291.8L118.4,292.3L118.4,292.8L118.4,293.3L118.3,293.8L118.3,294.2L118.3,294.7L118.2,295.1L118.1,295.4L118.1,295.8L118.0,296.1L117.9,296.3L117.9,296.5L117.8,296.7L117.7,296.9L117.6,296.9L117.5,297.0L117.5,297.0L117.4,297.0L117.3,296.9L117.2,296.8L117.1,296.6L117.1,296.4L112.0,266.0Z" fill="url(#i2)"/>
<path d="M117.3,284.3L117.4,284.3L117.5,284.3L117.6,284.4L117.6,284.6L117.7,284.7L117.8,284.9L117.9,285.2L117.9,285.4L118.0,285.7L118.1,286.1L118.1,286.4L118.2,286.8L118.2,287.2L118.2,287.6L118.3,288.1L118.3,288.5L118.3,289.0L118.3,289.4L118.3,289.9L118.3,290.4L118.3,290.8L118.3,291.3L118.3,291.8L118.3,292.2L118.2,292.6L118.2,293.0L118.1,293.4L118.1,293.8L118.0,294.1L118.0,294.5L117.9,294.7L117.8,295.0L117.8,295.2L117.7,295.4L117.6,295.6L117.5,295.7L117.5,295.8L117.4,295.8L117.3,295.8L117.2,295.8L117.1,295.7L117.1,295.6L117.0,295.5L116.9,295.3L112.0,266.0Z" fill="url(#i1)"/>
<path d="M117.1,285.1L117.2,285.1L117.2,285.1L117.3,285.2L117.4,285.3L117.5,285.4L117.6,285.6L117.6,285.8L117.7,286.0L117.8,286.2L117.8,286.5L117.9,286.8L117.9,287.1L118.0,287.4L118.0,287.7L118.0,288.0L118.0,288.4L118.1,288.8L118.1,289.1L118.1,289.5L118.1,289.9L118.1,290.2L118.1,290.6L118.0,291.0L118.0,291.3L118.0,291.6L117.9,292.0L117.9,292.3L117.8,292.6L117.8,292.8L117.7,293.1L117.7,293.3L117.6,293.5L117.5,293.7L117.5,293.8L117.4,294.0L117.3,294.1L117.2,294.1L117.1,294.2L117.1,294.2L117.0,294.1L116.9,294.1L116.8,294.0L116.7,293.9L116.7,293.7L112.0,266.0Z" fill="url(#i0)"/>
<path d="M117.0,285.3L117.1,285.3L117.2,285.4L117.2,285.4L117.3,285.5L117.4,285.6L117.5,285.8L117.5,286.0L117.6,286.2L117.7,286.4L117.7,286.6L117.8,286.9L117.8,287.1L117.9,287.4L117.9,287.7L117.9,288.0L118.0,288.4L118.0,288.7L118.0,289.0L118.0,289.4L118.0,289.7L118.0,290.0L118.0,290.4L118.0,290.7L117.9,291.0L117.9,291.3L117.9,291.6L117.8,291.9L117.8,292.2L117.7,292.4L117.7,292.7L117.6,292.9L117.5,293.1L117.5,293.2L117.4,293.4L117.3,293.5L117.2,293.6L117.1,293.6L117.1,293.7L117.0,293.7L116.9,293.6L116.8,293.6L116.7,293.5L116.7,293.4L116.6,293.3L112.0,266.0Z" fill="url(#i5)"/>
<path d="M116.9,285.5L117.0,285.5L117.1,285.6L117.2,285.6L117.3,285.7L117.3,285.8L117.4,286.0L117.5,286.1L117.5,286.3L117.6,286.5L117.7,286.7L117.7,287.0L117.8,287.2L117.8,287.5L117.8,287.8L117.9,288.0L117.9,288.3L117.9,288.6L117.9,288.9L117.9,289.2L117.9,289.6L117.9,289.9L117.9,290.2L117.9,290.5L117.9,290.8L117.8,291.0L117.8,291.3L117.7,291.6L117.7,291.8L117.6,292.0L117.6,292.3L117.5,292.4L117.4,292.6L117.4,292.8L117.3,292.9L117.2,293.0L117.1,293.1L117.1,293.1L117.0,293.2L116.9,293.2L116.8,293.1L116.7,293.1L116.7,293.0L116.6,292.9L116.5,292.8L112.0,266.0Z" fill="url(#i4)"/>
<path d="M116.8,285.9L116.9,286.0L117.0,286.0L117.0,286.0L117.1,286.1L117.2,286.2L117.3,286.3L117.3,286.4L117.4,286.6L117.5,286.8L117.5,286.9L117.6,287.1L117.6,287.3L117.7,287.6L117.7,287.8L117.7,288.0L117.8,288.3L117.8,288.5L117.8,288.8L117.8,289.0L117.8,289.3L117.8,289.6L117.8,289.8L117.8,290.1L117.7,290.3L117.7,290.5L117.7,290.8L117.6,291.0L117.6,291.2L117.5,291.4L117.4,291.5L117.4,291.7L117.3,291.8L117.2,292.0L117.2,292.1L117.1,292.2L117.0,292.2L116.9,292.3L116.9,292.3L116.8,292.3L116.7,292.3L116.6,292.2L116.5,292.2L116.5,292.1L116.4,292.0L112.0,266.0Z" fill="url(#i3)"/>
<path d="M116.5,286.7L116.6,286.7L116.7,286.7L116.8,286.8L116.9,286.8L116.9,286.9L117.0,286.9L117.1,287.0L117.2,287.1L117.2,287.2L117.3,287.3L117.3,287.4L117.4,287.6L117.4,287.7L117.5,287.9L117.5,288.0L117.5,288.2L117.5,288.3L117.5,288.5L117.5,288.7L117.5,288.8L117.5,289.0L117.5,289.2L117.5,289.3L117.5,289.5L117.4,289.6L117.4,289.8L117.4,289.9L117.3,290.0L117.3,290.1L117.2,290.3L117.1,290.4L117.1,290.4L117.0,290.5L116.9,290.6L116.8,290.6L116.8,290.7L116.7,290.7L116.6,290.7L116.5,290.7L116.4,290.7L116.4,290.7L116.3,290.7L116.2,290.6L116.1,290.5L112.0,266.0Z" fill="url(#i2)"/>
<path d="M116.4,287.2L116.4,287.2L116.5,287.2L116.6,287.2L116.7,287.3L116.8,287.3L116.8,287.3L116.9,287.4L117.0,287.4L117.0,287.5L117.1,287.6L117.1,287.7L117.2,287.7L117.2,287.8L117.3,287.9L117.3,288.0L117.3,288.1L117.3,288.2L117.4,288.3L117.4,288.4L117.4,288.5L117.4,288.6L117.3,288.7L117.3,288.8L117.3,288.9L117.3,289.0L117.2,289.1L117.2,289.2L117.1,289.3L117.1,289.3L117.0,289.4L116.9,289.5L116.9,289.5L116.8,289.6L116.7,289.6L116.7,289.7L116.6,289.7L116.5,289.7L116.4,289.7L116.3,289.7L116.3,289.7L116.2,289.7L116.1,289.7L116.0,289.6L115.9,289.6L112.0,266.0Z" fill="url(#i1)"/>
<path d="M116.1,287.3L116.2,287.3L116.3,287.3L116.3,287.4L116.4,287.4L116.5,287.4L116.6,287.4L116.6,287.4L116.7,287.4L116.8,287.5L116.8,287.5L116.9,287.5L116.9,287.6L117.0,287.6L117.0,287.6L117.0,287.7L117.1,287.7L117.1,287.7L117.1,287.8L117.1,287.8L117.1,287.9L117.1,287.9L117.1,288.0L117.0,288.0L117.0,288.0L117.0,288.1L116.9,288.1L116.9,288.1L116.9,288.2L116.8,288.2L116.7,288.2L116.7,288.2L116.6,288.3L116.5,288.3L116.5,288.3L116.4,288.3L116.3,288.3L116.2,288.3L116.1,288.3L116.1,288.3L116.0,288.3L115.9,288.3L115.8,288.3L115.7,288.3L115.7,288.3L112.0,266.0Z" fill="url(#i0)"/>
<defs><linearGradient id="ovg" gradientUnits="userSpaceOnUse" x1="268" y1="0" x2="340" y2="0"><stop offset="0" stop-color="#0c1c48" stop-opacity="0"/><stop offset="1" stop-color="#0c1c48" stop-opacity="0.55"/></linearGradient></defs>
<path d="M268,286 L565,286 C585,320 585,390 561,428 L561,427.7 L545,433.3 L529,438.7 L513,443.9 L497,448.9 L481,453.7 L465,458.2 L449,462.6 L433,466.8 L417,470.8 L401,474.5 L385,478.1 L369,481.4 L353,484.6 L337,487.5 L321,490.3 L305,492.8 L289,495.1 L273,497.3 Z" fill="url(#ovg)"/>
</g>
<ellipse cx="290" cy="330" rx="13" ry="24" fill="url(#eye)" opacity="0.8"/>
<ellipse cx="322" cy="326" rx="13" ry="24" fill="url(#eye)" opacity="0.8"/>
<ellipse cx="356" cy="322" rx="13" ry="24" fill="url(#eye)" opacity="0.8"/>
<ellipse cx="392" cy="318" rx="13" ry="24" fill="url(#eye)" opacity="0.8"/>
<ellipse cx="430" cy="316" rx="13" ry="24" fill="url(#eye)" opacity="0.8"/>
<ellipse cx="470" cy="318" rx="13" ry="24" fill="url(#eye)" opacity="0.8"/>
<ellipse cx="505" cy="322" rx="13" ry="24" fill="url(#eye)" opacity="0.8"/>
<path d="M331.0,309.3L586.0,164.8M346.2,323.8L567.3,241.8M372.6,301.9L538.9,202.8M311.0,269.7L533.7,158.6M251.7,267.3L517.9,152.4M349.5,262.8L520.6,165.7M330.3,260.1L597.6,162.7M277.2,267.2L519.2,117.3" stroke="#48ec10" stroke-width="2.8" fill="none" stroke-dasharray="14 4"/>
<path d="M246.7,134.9L301.4,467.7M253.4,144.9L324.0,488.0M261.5,150.9L318.8,479.1M261.0,145.7L312.5,482.7M267.4,161.6L312.5,484.6M274.1,141.8L330.5,472.4M281.2,122.1L361.9,459.8M285.8,137.9L365.6,466.7M288.6,140.2L314.0,303.9M297.1,179.3L356.4,465.9M300.8,180.8L372.8,455.6M306.0,124.9L361.2,455.0M309.2,139.4L342.9,289.4M313.6,152.7L373.4,468.7M319.2,134.2L390.7,455.8M323.6,165.2L412.2,470.0M331.5,119.1L433.9,439.5M338.3,110.3L408.1,319.7M340.7,73.8L447.0,459.7M348.6,90.8L445.1,443.4M350.5,112.6L422.4,440.4M359.8,102.5L465.9,450.4M366.2,83.2L452.5,433.3M369.3,117.0L438.9,321.5M371.7,138.1L452.4,448.0M381.0,95.7L471.5,429.4M385.6,77.6L480.7,422.6M387.0,106.5L500.6,443.8M396.4,94.8L493.9,437.0M343.7,76.6L460.0,434.3M363.2,103.5L493.8,420.9M371.0,89.3L462.4,347.9M386.2,95.7L517.2,428.5M395.7,111.9L531.3,423.3M416.3,115.9L510.2,336.2M424.0,137.9L537.1,425.0M438.3,116.7L578.2,414.5M453.3,128.9L537.1,331.0M467.7,156.2L573.3,410.1" stroke="#a8142a" stroke-width="2.6" fill="none" stroke-linecap="round"/>
<path d="M107.8,88.2L123.5,464.9M111.2,105.1L122.8,283.0M111.1,71.3L122.1,283.0M113.7,94.6L133.2,458.3M113.9,119.7L115.9,283.0M117.5,118.3L121.9,283.0M117.7,71.1L134.4,503.4M120.0,77.1L129.4,283.0M123.9,71.9L138.5,283.0M127.4,98.5L136.3,457.7M127.0,93.5L133.1,495.5M128.5,71.1L130.9,283.0M133.1,72.8L135.4,283.0M133.3,92.6L141.2,283.0M136.2,72.7L140.0,283.0M136.1,97.7L147.6,466.0M138.8,118.8L144.7,466.1M140.2,95.8L152.9,283.0M141.4,75.5L143.7,283.0M145.5,92.6L163.4,500.1M145.7,73.5L159.8,283.0M147.7,114.6L156.9,500.9M151.3,83.2L158.1,468.3M153.8,82.1L180.1,470.3M153.5,93.9L157.1,283.0M157.4,90.2L168.5,465.6M156.8,77.7L162.4,283.0M159.8,87.1L163.0,283.0M162.4,99.9L171.7,283.0M162.7,68.6L185.6,456.1M167.0,85.4L179.1,458.9M168.6,94.5L193.5,473.3M171.1,100.4L185.0,283.0M172.3,68.5L180.2,283.0M172.6,71.3L206.1,492.9M175.8,114.5L182.9,283.0M178.4,106.7L182.9,480.0M179.1,93.1L204.1,480.3M183.7,81.2L195.3,283.0M182.7,100.6L190.9,283.0M185.6,89.0L210.6,465.4M186.8,87.9L191.6,283.0M189.3,112.2L210.7,469.4M190.5,96.2L218.9,474.9M193.9,124.2L200.5,283.0M193.9,111.4L203.7,283.0M197.1,123.4L198.9,283.0M199.5,80.9L204.8,283.0M199.8,102.7L206.6,488.3M203.0,82.8L207.8,283.0M204.2,80.4L213.8,283.0M206.4,128.0L227.5,487.0M210.4,94.2L216.8,492.6M209.9,96.3L224.6,500.7M214.5,114.0L225.9,460.1M216.7,108.7L226.6,506.0M219.1,99.3L229.2,455.8M219.2,81.3L238.5,480.3M219.2,109.1L226.2,283.0M223.2,104.7L240.2,501.8M225.1,104.4L238.7,283.0M228.7,83.1L245.7,498.2M229.1,105.9L254.4,471.2M230.4,130.4L239.6,505.4M232.9,100.6L240.0,283.0M232.8,113.6L261.0,475.8M237.9,100.3L240.9,283.0M240.4,96.5L245.8,283.0M239.1,95.6L247.9,283.0M242.2,81.1L249.4,456.2M243.3,88.2L249.6,283.0M246.9,103.8L253.7,468.0" stroke="#a00e0e" stroke-width="4.6" fill="none" stroke-linecap="round"/>
<path d="M107.8,88.2L123.5,464.9M111.2,105.1L122.8,283.0M111.1,71.3L122.1,283.0M113.7,94.6L133.2,458.3M113.9,119.7L115.9,283.0M117.5,118.3L121.9,283.0M117.7,71.1L134.4,503.4M120.0,77.1L129.4,283.0M123.9,71.9L138.5,283.0M127.4,98.5L136.3,457.7M127.0,93.5L133.1,495.5M128.5,71.1L130.9,283.0M133.1,72.8L135.4,283.0M133.3,92.6L141.2,283.0M136.2,72.7L140.0,283.0M136.1,97.7L147.6,466.0M138.8,118.8L144.7,466.1M140.2,95.8L152.9,283.0M141.4,75.5L143.7,283.0M145.5,92.6L163.4,500.1M145.7,73.5L159.8,283.0M147.7,114.6L156.9,500.9M151.3,83.2L158.1,468.3M153.8,82.1L180.1,470.3M153.5,93.9L157.1,283.0M157.4,90.2L168.5,465.6M156.8,77.7L162.4,283.0M159.8,87.1L163.0,283.0M162.4,99.9L171.7,283.0M162.7,68.6L185.6,456.1M167.0,85.4L179.1,458.9M168.6,94.5L193.5,473.3M171.1,100.4L185.0,283.0M172.3,68.5L180.2,283.0M172.6,71.3L206.1,492.9M175.8,114.5L182.9,283.0M178.4,106.7L182.9,480.0M179.1,93.1L204.1,480.3M183.7,81.2L195.3,283.0M182.7,100.6L190.9,283.0M185.6,89.0L210.6,465.4M186.8,87.9L191.6,283.0M189.3,112.2L210.7,469.4M190.5,96.2L218.9,474.9M193.9,124.2L200.5,283.0M193.9,111.4L203.7,283.0M197.1,123.4L198.9,283.0M199.5,80.9L204.8,283.0M199.8,102.7L206.6,488.3M203.0,82.8L207.8,283.0M204.2,80.4L213.8,283.0M206.4,128.0L227.5,487.0M210.4,94.2L216.8,492.6M209.9,96.3L224.6,500.7M214.5,114.0L225.9,460.1M216.7,108.7L226.6,506.0M219.1,99.3L229.2,455.8M219.2,81.3L238.5,480.3M219.2,109.1L226.2,283.0M223.2,104.7L240.2,501.8M225.1,104.4L238.7,283.0M228.7,83.1L245.7,498.2M229.1,105.9L254.4,471.2M230.4,130.4L239.6,505.4M232.9,100.6L240.0,283.0M232.8,113.6L261.0,475.8M237.9,100.3L240.9,283.0M240.4,96.5L245.8,283.0M239.1,95.6L247.9,283.0M242.2,81.1L249.4,456.2M243.3,88.2L249.6,283.0M246.9,103.8L253.7,468.0" stroke="#ff1010" stroke-width="3.0" fill="none"/>
<path d="M245.8,126.8L282.6,477.4M249.8,100.6L285.8,467.8M256.3,139.1L277.1,327.6M254.2,114.4L287.5,310.1M261.7,163.9L315.6,463.4M265.9,110.0L323.3,477.3M268.6,148.5L342.2,472.3M269.5,108.1L312.7,472.0M276.6,149.3L361.5,481.2M276.7,114.0L363.1,460.2M279.4,123.1L325.7,483.4M285.0,175.3L358.7,461.8M290.2,153.8L363.0,460.8M290.6,127.1L367.3,479.8M294.6,133.5L369.6,455.5M299.6,112.2L355.5,326.0M301.3,181.0L369.6,467.2M305.9,140.4L372.2,471.2M309.8,127.1L365.9,465.2M311.5,155.1L374.1,463.1M319.5,152.2L408.3,465.7M318.9,176.0L385.8,448.3M323.7,123.1L393.9,470.2M328.5,124.6L394.3,445.9M330.9,141.2L406.6,450.0M335.9,108.3L442.7,432.6M340.6,80.5L410.2,310.0M337.8,106.9L412.5,449.7M343.9,90.4L440.2,453.3M348.4,91.4L426.3,460.7M350.2,104.5L406.9,301.9M352.5,64.4L436.7,451.8M360.2,88.4L458.3,437.0M360.0,68.6L449.1,319.4M364.4,74.5L474.6,448.5M369.0,111.1L448.2,438.8M372.4,143.4L472.0,435.4M376.7,84.1L448.0,326.2M379.3,83.5L502.9,421.5M385.5,106.2L487.0,419.1M385.6,114.2L477.3,428.1M390.7,158.6L477.3,429.1M395.4,121.1L499.7,432.6M338.6,100.8L459.5,430.1M350.8,79.6L437.4,336.5M353.0,82.4L439.1,348.4M368.6,91.9L501.5,427.5M380.0,101.1L502.4,419.8M383.5,92.7L504.7,440.5M392.9,91.0L517.7,436.3M406.2,92.9L494.9,338.3M406.9,110.1L494.7,312.2M420.8,112.2L545.7,409.8M431.2,116.0L552.2,428.1M435.7,139.0L539.7,418.2M444.6,148.6L546.3,414.3M456.4,161.3L565.0,424.3M464.4,170.7L524.4,315.5M471.6,145.0L587.4,412.0" stroke="#8a0a0a" stroke-width="4.4" fill="none" stroke-linecap="round"/>
<path d="M245.8,126.8L282.6,477.4M249.8,100.6L285.8,467.8M256.3,139.1L277.1,327.6M254.2,114.4L287.5,310.1M261.7,163.9L315.6,463.4M265.9,110.0L323.3,477.3M268.6,148.5L342.2,472.3M269.5,108.1L312.7,472.0M276.6,149.3L361.5,481.2M276.7,114.0L363.1,460.2M279.4,123.1L325.7,483.4M285.0,175.3L358.7,461.8M290.2,153.8L363.0,460.8M290.6,127.1L367.3,479.8M294.6,133.5L369.6,455.5M299.6,112.2L355.5,326.0M301.3,181.0L369.6,467.2M305.9,140.4L372.2,471.2M309.8,127.1L365.9,465.2M311.5,155.1L374.1,463.1M319.5,152.2L408.3,465.7M318.9,176.0L385.8,448.3M323.7,123.1L393.9,470.2M328.5,124.6L394.3,445.9M330.9,141.2L406.6,450.0M335.9,108.3L442.7,432.6M340.6,80.5L410.2,310.0M337.8,106.9L412.5,449.7M343.9,90.4L440.2,453.3M348.4,91.4L426.3,460.7M350.2,104.5L406.9,301.9M352.5,64.4L436.7,451.8M360.2,88.4L458.3,437.0M360.0,68.6L449.1,319.4M364.4,74.5L474.6,448.5M369.0,111.1L448.2,438.8M372.4,143.4L472.0,435.4M376.7,84.1L448.0,326.2M379.3,83.5L502.9,421.5M385.5,106.2L487.0,419.1M385.6,114.2L477.3,428.1M390.7,158.6L477.3,429.1M395.4,121.1L499.7,432.6M338.6,100.8L459.5,430.1M350.8,79.6L437.4,336.5M353.0,82.4L439.1,348.4M368.6,91.9L501.5,427.5M380.0,101.1L502.4,419.8M383.5,92.7L504.7,440.5M392.9,91.0L517.7,436.3M406.2,92.9L494.9,338.3M406.9,110.1L494.7,312.2M420.8,112.2L545.7,409.8M431.2,116.0L552.2,428.1M435.7,139.0L539.7,418.2M444.6,148.6L546.3,414.3M456.4,161.3L565.0,424.3M464.4,170.7L524.4,315.5M471.6,145.0L587.4,412.0" stroke="#ff1010" stroke-width="2.8" fill="none"/>
<path d="M181.1,490.9L633.9,122.3M199.7,499.3L640.1,109.6M217.0,489.4L614.8,115.0M232.2,497.3L652.6,96.1M250.6,483.8L632.4,86.7M270.5,484.3L597.4,109.3M283.2,489.2L591.2,89.2M308.8,484.2L659.3,99.7M322.1,472.6L636.5,85.0M338.9,474.5L598.6,84.3M358.7,473.2L599.5,100.4M369.2,465.4L622.5,84.6M392.2,474.7L606.1,81.3M408.4,470.5L624.4,84.2M184.8,489.9L576.8,231.9M201.2,491.2L571.8,286.2M223.4,481.9L595.2,278.6M236.9,500.9L494.9,319.9M251.2,487.3L575.1,239.7M266.3,484.3L579.4,283.3M281.4,489.3L574.1,262.0M309.2,484.3L567.3,332.2M317.4,485.8L572.4,295.5M339.2,467.0L578.4,323.7M355.7,471.0L585.4,295.2M376.1,471.9L587.3,340.8M392.3,469.6L572.4,333.1M411.2,461.8L565.2,367.9M419.4,455.0L582.4,363.1M440.5,456.5L578.4,356.9M456.1,457.9L596.3,376.2M469.8,442.2L592.8,370.5M489.2,430.7L562.3,380.4M506.9,440.0L603.2,378.1M519.7,426.8L564.8,392.4M546.4,423.4L601.4,380.7M573.1,420.6L628.3,280.5M493.5,434.8L544.4,325.6M525.0,408.7L602.3,254.1M509.6,406.1L605.9,244.5M544.6,433.4L589.1,296.9M578.9,384.0L648.1,190.5M487.6,420.5L629.8,110.0M425.0,459.2L650.5,105.8M540.0,367.2L635.8,106.7M495.3,386.4L620.4,94.0M518.1,386.7L632.4,101.8M584.5,389.7L624.8,81.0M566.5,392.4L631.2,96.6M440.5,449.3L626.0,88.2M547.4,420.1L693.2,125.7M520.2,440.2L713.6,120.0M528.5,400.1L704.8,105.2M537.0,404.8L714.6,103.9M600.0,330.0L735.0,140.0M620.0,330.0L745.0,145.0" stroke="#44ee08" stroke-width="3.6" fill="none"/>
<path d="M181.1,490.9L633.9,122.3M199.7,499.3L640.1,109.6M217.0,489.4L614.8,115.0M232.2,497.3L652.6,96.1M250.6,483.8L632.4,86.7M270.5,484.3L597.4,109.3M283.2,489.2L591.2,89.2M308.8,484.2L659.3,99.7M322.1,472.6L636.5,85.0M338.9,474.5L598.6,84.3M358.7,473.2L599.5,100.4M369.2,465.4L622.5,84.6M392.2,474.7L606.1,81.3M408.4,470.5L624.4,84.2M184.8,489.9L576.8,231.9M201.2,491.2L571.8,286.2M223.4,481.9L595.2,278.6M236.9,500.9L494.9,319.9M251.2,487.3L575.1,239.7M266.3,484.3L579.4,283.3M281.4,489.3L574.1,262.0M309.2,484.3L567.3,332.2M317.4,485.8L572.4,295.5M339.2,467.0L578.4,323.7M355.7,471.0L585.4,295.2M376.1,471.9L587.3,340.8M392.3,469.6L572.4,333.1M411.2,461.8L565.2,367.9M419.4,455.0L582.4,363.1M440.5,456.5L578.4,356.9M456.1,457.9L596.3,376.2M469.8,442.2L592.8,370.5M489.2,430.7L562.3,380.4M506.9,440.0L603.2,378.1M519.7,426.8L564.8,392.4M546.4,423.4L601.4,380.7M573.1,420.6L628.3,280.5M493.5,434.8L544.4,325.6M525.0,408.7L602.3,254.1M509.6,406.1L605.9,244.5M544.6,433.4L589.1,296.9M578.9,384.0L648.1,190.5M487.6,420.5L629.8,110.0M425.0,459.2L650.5,105.8M540.0,367.2L635.8,106.7M495.3,386.4L620.4,94.0M518.1,386.7L632.4,101.8M584.5,389.7L624.8,81.0M566.5,392.4L631.2,96.6M440.5,449.3L626.0,88.2M547.4,420.1L693.2,125.7M520.2,440.2L713.6,120.0M528.5,400.1L704.8,105.2M537.0,404.8L714.6,103.9M600.0,330.0L735.0,140.0M620.0,330.0L745.0,145.0" stroke="#6cff20" stroke-width="1.4" fill="none"/>
<path d="M86,385L88,492M98,300L101,412" stroke="#5ad820" stroke-width="3" fill="none"/>
<g stroke="#1a1a1a" stroke-width="1.9" fill="none">
<polyline points="73.8,378.7 73.8,620 826.5,633 871.8,319.8"/>
<line x1="54.5" y1="414.7" x2="73.8" y2="415.7"/>
<line x1="54.5" y1="479.7" x2="73.8" y2="480.7"/>
<line x1="54.5" y1="545.0" x2="73.8" y2="546.0"/>
<line x1="54.5" y1="610.1" x2="73.8" y2="611.1"/>
<line x1="126.0" y1="622.9" x2="123.0" y2="637.9"/>
<line x1="196.0" y1="624.1" x2="193.0" y2="639.1"/>
<line x1="266.0" y1="625.3" x2="263.0" y2="640.3"/>
<line x1="337.0" y1="626.5" x2="334.0" y2="641.5"/>
<line x1="405.5" y1="627.7" x2="402.5" y2="642.7"/>
<line x1="476.4" y1="629.0" x2="473.4" y2="644.0"/>
<line x1="546.8" y1="630.2" x2="543.8" y2="645.2"/>
<line x1="616.0" y1="631.4" x2="613.0" y2="646.4"/>
<line x1="686.5" y1="632.6" x2="683.5" y2="647.6"/>
<line x1="756.5" y1="633.8" x2="753.5" y2="648.8"/>
<line x1="864.5" y1="370.3" x2="883.5" y2="370.3"/>
<line x1="857.0" y1="422.3" x2="876.0" y2="422.3"/>
<line x1="849.2" y1="476.0" x2="868.2" y2="476.0"/>
<line x1="841.6" y1="528.0" x2="860.6" y2="528.0"/>
<line x1="834.0" y1="581.0" x2="853.0" y2="581.0"/>
<line x1="826.5" y1="632.6" x2="845.5" y2="632.6"/>
</g>
<g font-family="Liberation Sans, Arial, sans-serif" font-size="24.5" fill="#1a1a1a">
<text x="43.3" y="425.7" text-anchor="end" font-size="25">15</text>
<text x="43.3" y="490.7" text-anchor="end" font-size="25">10</text>
<text x="43.3" y="556.0" text-anchor="end" font-size="25">5</text>
<text x="43.3" y="621.1" text-anchor="end" font-size="25">0</text>
<text x="8.5" y="654" font-size="21.5" textLength="59" lengthAdjust="spacingAndGlyphs">(mm)</text>
<text x="123.0" y="676.5" text-anchor="middle">-5</text>
<text x="192.0" y="678.0" text-anchor="middle">-10</text>
<text x="262.6" y="679.5" text-anchor="middle">-15</text>
<text x="331.8" y="681.5" text-anchor="middle">-20</text>
<text x="402.3" y="682.5" text-anchor="middle">-25</text>
<text x="472.3" y="683.5" text-anchor="middle">-30</text>
<text x="543.0" y="684.0" text-anchor="middle">-35</text>
<text x="612.8" y="686.2" text-anchor="middle">-40</text>
<text x="682.8" y="687.5" text-anchor="middle">-45</text>
<text x="753.2" y="688.5" text-anchor="middle">-50</text>
<text x="894.0" y="383.3" font-size="25.5">0</text>
<text x="885.5" y="435.3" font-size="25.5">-10</text>
<text x="877.7" y="489.0" font-size="25.5">-20</text>
<text x="870.1" y="541.0" font-size="25.5">-30</text>
<text x="862.5" y="594.0" font-size="25.5">-40</text>
<text x="855.0" y="645.6" font-size="25.5">-50</text>
</g>
<rect x="681" y="76.4" width="245.3" height="69.3" fill="none" stroke="#111" stroke-width="2.6"/>
<line x1="702" y1="94.5" x2="757.4" y2="94.5" stroke="#d81828" stroke-width="3.2"/>
<line x1="703" y1="127.8" x2="760" y2="127.8" stroke="#74e024" stroke-width="3.4"/>
<g font-family="Liberation Sans, Arial, sans-serif" font-size="21.5" fill="#1c1c1c">
<text x="770" y="100.5" textLength="132" lengthAdjust="spacingAndGlyphs">Incident light</text>
<text x="770" y="129.8" textLength="150" lengthAdjust="spacingAndGlyphs">Outgoing light</text>
</g>
<g stroke="#262626" stroke-width="2.2" fill="none" stroke-linecap="square">
<rect x="1053.0" y="67.4" width="682.0" height="548.3000000000001"/>
<line x1="1052.9" y1="615.7" x2="1052.9" y2="621.2"/>
<line x1="1109.7" y1="615.7" x2="1109.7" y2="626.7"/>
<line x1="1109.7" y1="67.4" x2="1109.7" y2="79.9"/>
<line x1="1166.5" y1="615.7" x2="1166.5" y2="621.2"/>
<line x1="1166.5" y1="67.4" x2="1166.5" y2="74.4"/>
<line x1="1223.2" y1="615.7" x2="1223.2" y2="626.7"/>
<line x1="1223.2" y1="67.4" x2="1223.2" y2="79.9"/>
<line x1="1280.0" y1="615.7" x2="1280.0" y2="621.2"/>
<line x1="1280.0" y1="67.4" x2="1280.0" y2="74.4"/>
<line x1="1336.8" y1="615.7" x2="1336.8" y2="626.7"/>
<line x1="1336.8" y1="67.4" x2="1336.8" y2="79.9"/>
<line x1="1393.6" y1="615.7" x2="1393.6" y2="621.2"/>
<line x1="1393.6" y1="67.4" x2="1393.6" y2="74.4"/>
<line x1="1450.4" y1="615.7" x2="1450.4" y2="626.7"/>
<line x1="1450.4" y1="67.4" x2="1450.4" y2="79.9"/>
<line x1="1507.1" y1="615.7" x2="1507.1" y2="621.2"/>
<line x1="1507.1" y1="67.4" x2="1507.1" y2="74.4"/>
<line x1="1563.9" y1="615.7" x2="1563.9" y2="626.7"/>
<line x1="1563.9" y1="67.4" x2="1563.9" y2="79.9"/>
<line x1="1620.7" y1="615.7" x2="1620.7" y2="621.2"/>
<line x1="1620.7" y1="67.4" x2="1620.7" y2="74.4"/>
<line x1="1677.5" y1="615.7" x2="1677.5" y2="626.7"/>
<line x1="1677.5" y1="67.4" x2="1677.5" y2="79.9"/>
<line x1="1734.2" y1="615.7" x2="1734.2" y2="621.2"/>
<line x1="1053.0" y1="615.7" x2="1041.0" y2="615.7"/>
<line x1="1735.0" y1="615.7" x2="1723.0" y2="615.7"/>
<line x1="1053.0" y1="547.2" x2="1047.0" y2="547.2"/>
<line x1="1735.0" y1="547.2" x2="1729.0" y2="547.2"/>
<line x1="1053.0" y1="478.6" x2="1041.0" y2="478.6"/>
<line x1="1735.0" y1="478.6" x2="1723.0" y2="478.6"/>
<line x1="1053.0" y1="410.1" x2="1047.0" y2="410.1"/>
<line x1="1735.0" y1="410.1" x2="1729.0" y2="410.1"/>
<line x1="1053.0" y1="341.5" x2="1041.0" y2="341.5"/>
<line x1="1735.0" y1="341.5" x2="1723.0" y2="341.5"/>
<line x1="1053.0" y1="273.0" x2="1047.0" y2="273.0"/>
<line x1="1735.0" y1="273.0" x2="1729.0" y2="273.0"/>
<line x1="1053.0" y1="204.5" x2="1041.0" y2="204.5"/>
<line x1="1735.0" y1="204.5" x2="1723.0" y2="204.5"/>
<line x1="1053.0" y1="135.9" x2="1047.0" y2="135.9"/>
<line x1="1735.0" y1="135.9" x2="1729.0" y2="135.9"/>
<line x1="1053.0" y1="67.4" x2="1041.0" y2="67.4"/>
<line x1="1735.0" y1="67.4" x2="1723.0" y2="67.4"/>
</g>
<g font-family="Liberation Sans, Arial, sans-serif" font-size="23.5" fill="#1a1a1a">
<text x="1034" y="624.0" text-anchor="end">0.980</text>
<text x="1034" y="486.9" text-anchor="end">0.985</text>
<text x="1034" y="349.8" text-anchor="end">0.990</text>
<text x="1034" y="212.8" text-anchor="end">0.995</text>
<text x="1034" y="75.7" text-anchor="end">1.000</text>
<text x="1109.7" y="652.3" text-anchor="middle">0</text>
<text x="1223.2" y="652.3" text-anchor="middle">10</text>
<text x="1336.8" y="652.3" text-anchor="middle">20</text>
<text x="1450.4" y="652.3" text-anchor="middle">30</text>
<text x="1563.9" y="652.3" text-anchor="middle">40</text>
<text x="1677.5" y="652.3" text-anchor="middle">50</text>
</g>
<text x="1306" y="695.7" font-family="Liberation Sans, Arial, sans-serif" font-size="25.8" fill="#1a1a1a" textLength="176" lengthAdjust="spacingAndGlyphs">Bottom radius</text>
<text x="1485" y="695.7" font-family="Liberation Sans, Arial, sans-serif" font-size="25.8" fill="#1a1a1a" textLength="65" lengthAdjust="spacingAndGlyphs">(mm)</text>
<text transform="translate(963,438.6) rotate(-90)" font-family="Liberation Sans, Arial, sans-serif" font-size="24.7" fill="#1a1a1a" textLength="197" lengthAdjust="spacingAndGlyphs">Local emissivity</text>
<line x1="1109.7" y1="215.2" x2="1677.5" y2="215.2" stroke="#c42a2a" stroke-width="2.6"/>
<line x1="1109.7" y1="264.7" x2="1677.5" y2="264.7" stroke="#1e1ea0" stroke-width="2.6"/>
<polyline points="1109.7,314.0 1132.4,305.4 1155.1,305.4 1177.8,305.4 1200.5,289.4 1223.2,275.7 1246.0,272.2 1268.7,269.8 1291.4,267.5 1314.1,267.3 1336.8,259.1 1359.5,253.2 1382.2,253.2 1404.9,250.2 1427.6,250.2 1450.4,237.1 1473.1,234.2 1495.8,222.9 1518.5,203.9 1541.2,201.0 1563.9,198.7 1586.6,181.9 1609.3,179.1 1632.0,179.1 1654.7,176.8 1677.5,176.8" fill="none" stroke="#111" stroke-width="3" stroke-linejoin="round"/>
<rect x="1409.3" y="481.7" width="312.6" height="108.9" fill="#fff" stroke="#555" stroke-width="1.4"/>
<line x1="1412" y1="500.5" x2="1477.4" y2="500.5" stroke="#111" stroke-width="3"/>
<line x1="1412" y1="536.1" x2="1477.4" y2="536.1" stroke="#c42a2a" stroke-width="2.6"/>
<line x1="1412" y1="570.8" x2="1477.4" y2="570.8" stroke="#1e1ea0" stroke-width="2.6"/>
<g font-family="Liberation Sans, Arial, sans-serif" font-size="28.5" fill="#111">
<text x="1485" y="510.8">Multiple Reflection</text>
<text x="1485" y="546.2">Monte-Carlo Max</text>
<text x="1485" y="581">Monte-Carlo Min</text>
</g>
<text x="10" y="33.2" font-family="Liberation Sans, Arial, sans-serif" font-weight="bold" font-size="44" fill="#000">A</text>
<text x="938.5" y="33.2" font-family="Liberation Sans, Arial, sans-serif" font-weight="bold" font-size="44" fill="#000">B</text>
<text x="227" y="757.6" font-family="Liberation Serif, Times New Roman, serif" font-size="36" fill="#000" textLength="503" lengthAdjust="spacingAndGlyphs">Simulation for the 20-30mm radius</text>
<text x="1224.3" y="757.3" font-family="Liberation Serif, Times New Roman, serif" font-size="36" fill="#000" textLength="447" lengthAdjust="spacingAndGlyphs">Comparison of local emissivity</text>
</svg>
</body></html>
